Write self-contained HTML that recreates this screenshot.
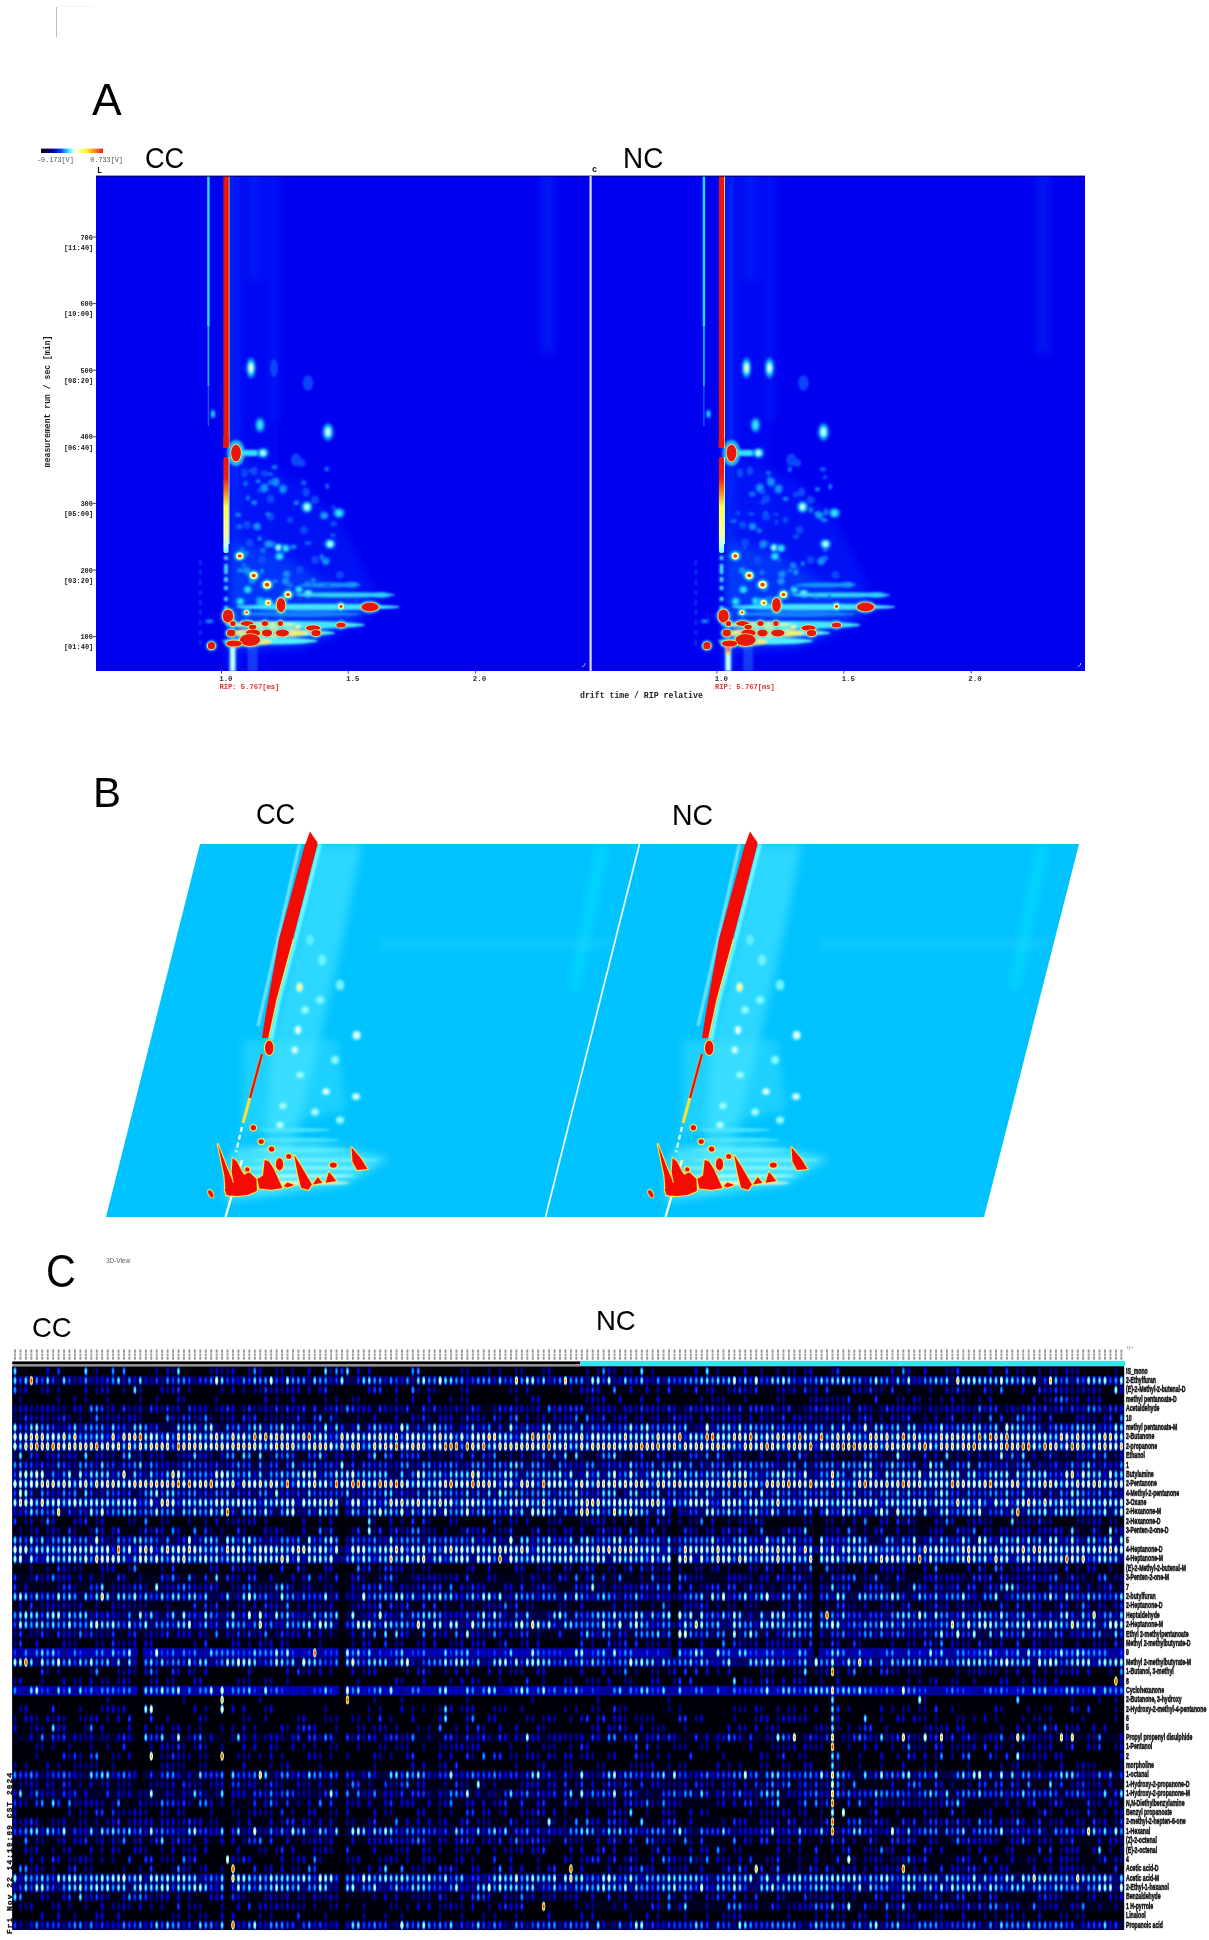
<!DOCTYPE html><html><head><meta charset="utf-8"><style>html,body{margin:0;padding:0;background:#fff;}body{width:1209px;height:1940px;position:relative;overflow:hidden;font-family:"Liberation Sans",sans-serif;}.abs{position:absolute;}.hl{font:bold 9.2px "Liberation Sans",sans-serif;fill:#141414;stroke:#101010;stroke-width:0.55px;}.lb{position:absolute;color:#000;line-height:1;white-space:nowrap;}</style></head><body><div style="position:absolute;left:0;top:0;width:1209px;height:1940px;filter:blur(0.35px)"><div class="abs" style="left:56px;top:7px;width:1.3px;height:30px;background:#bdbdbd"></div><div class="abs" style="left:57px;top:6px;width:36px;height:1px;background:#f4f4f4"></div><svg class="abs" style="left:0;top:0" width="1209" height="720" viewBox="0 0 1209 720"><defs><filter id="bA" x="-5%" y="-5%" width="110%" height="110%"><feGaussianBlur stdDeviation="1.0"/></filter><filter id="rA" x="-50%" y="-5%" width="200%" height="110%"><feGaussianBlur stdDeviation="0.55"/></filter><filter id="hA" x="-20%" y="-20%" width="140%" height="140%"><feGaussianBlur stdDeviation="5"/></filter><clipPath id="cA1"><rect x="96" y="176" width="494" height="495"/></clipPath><clipPath id="cA2"><rect x="592" y="176" width="493" height="495"/></clipPath><linearGradient id="cbar" x1="0" x2="1"><stop offset="0" stop-color="#000010"/><stop offset="0.2" stop-color="#0000a0"/><stop offset="0.32" stop-color="#0040ff"/><stop offset="0.45" stop-color="#40f0ff"/><stop offset="0.55" stop-color="#ffffff"/><stop offset="0.72" stop-color="#ffff30"/><stop offset="0.85" stop-color="#ff9020"/><stop offset="1" stop-color="#f02010"/></linearGradient></defs><rect x="96" y="176" width="989" height="495" fill="#0000f0"/><g clip-path="url(#cA1)"><g filter="url(#hA)"><rect x="229.0" y="170.0" width="8.0" height="501.0" fill="#0a48ff" fill-opacity="0.6"/><rect x="238.0" y="170.0" width="40.0" height="470.0" fill="#0420ff" fill-opacity="0.2"/><rect x="252.0" y="170.0" width="5.0" height="110.0" fill="#1458ff" fill-opacity="0.45"/><rect x="273.0" y="170.0" width="5.0" height="250.0" fill="#1050ff" fill-opacity="0.35"/><rect x="543.0" y="170.0" width="9.0" height="185.0" fill="#1050ff" fill-opacity="0.4"/><polygon points="232,455 300,480 340,520 380,600 370,615 330,640 300,650 232,650" fill="#0438ff" fill-opacity="0.3"/><polygon points="232,540 290,560 330,585 370,600 370,612 330,632 300,646 232,648" fill="#0a80ff" fill-opacity="0.3"/></g><g filter="url(#bA)"><ellipse cx="213.0" cy="414.0" rx="2.7" ry="4.8" fill="#0a60ff" fill-opacity="0.8"/><ellipse cx="213.0" cy="414.0" rx="1.8" ry="3.4" fill="#10b0ff"/><ellipse cx="213.0" cy="414.0" rx="1.1" ry="2.2" fill="#30e8ff"/><rect x="224.3" y="556.0" width="3.4" height="4.0" fill="#50f0ff"/><rect x="224.3" y="564.0" width="3.4" height="10.0" fill="#50f0ff"/><rect x="224.3" y="577.0" width="3.4" height="5.0" fill="#50f0ff"/><rect x="224.3" y="586.0" width="3.4" height="4.0" fill="#50f0ff"/><rect x="224.3" y="597.0" width="3.4" height="4.0" fill="#50f0ff"/><rect x="224.3" y="606.0" width="3.4" height="4.0" fill="#50f0ff"/><rect x="224.3" y="616.0" width="3.4" height="4.0" fill="#50f0ff"/><ellipse cx="236.0" cy="453.0" rx="9.0" ry="13.0" fill="#30d8ff" fill-opacity="0.8"/><ellipse cx="251.0" cy="453.0" rx="15.0" ry="3.2" fill="#30e0ff"/><ellipse cx="263.0" cy="453.0" rx="6.3" ry="5.6" fill="#0a60ff" fill-opacity="0.8"/><ellipse cx="263.0" cy="453.0" rx="4.4" ry="4.2" fill="#10b8ff"/><ellipse cx="263.0" cy="453.0" rx="3.0" ry="3.0" fill="#40f0ff"/><ellipse cx="263.0" cy="453.0" rx="1.8" ry="1.9" fill="#e0ffff"/><ellipse cx="251.0" cy="368.0" rx="5.4" ry="11.2" fill="#0a60ff" fill-opacity="0.8"/><ellipse cx="251.0" cy="368.0" rx="3.8" ry="8.4" fill="#10b8ff"/><ellipse cx="251.0" cy="368.0" rx="2.5" ry="6.0" fill="#40f0ff"/><ellipse cx="251.0" cy="368.0" rx="1.5" ry="3.9" fill="#ffffa0"/><ellipse cx="274.0" cy="368.0" rx="3.9" ry="9.1" fill="#0a50ff" fill-opacity="0.85"/><ellipse cx="260.0" cy="425.0" rx="5.4" ry="8.0" fill="#0a60ff" fill-opacity="0.8"/><ellipse cx="260.0" cy="425.0" rx="3.6" ry="5.8" fill="#10b0ff"/><ellipse cx="260.0" cy="425.0" rx="2.2" ry="3.8" fill="#30e8ff"/><ellipse cx="328.0" cy="432.0" rx="6.3" ry="9.6" fill="#0a60ff" fill-opacity="0.8"/><ellipse cx="328.0" cy="432.0" rx="4.4" ry="7.2" fill="#10b8ff"/><ellipse cx="328.0" cy="432.0" rx="3.0" ry="5.1" fill="#40f0ff"/><ellipse cx="328.0" cy="432.0" rx="1.8" ry="3.3" fill="#e0ffff"/><ellipse cx="308.0" cy="383.0" rx="5.2" ry="7.8" fill="#0a50ff" fill-opacity="0.85"/><ellipse cx="296.0" cy="460.0" rx="5.2" ry="6.5" fill="#0a50ff" fill-opacity="0.85"/><ellipse cx="244.6" cy="473.0" rx="3.2" ry="4.5" fill="#0a50ff" fill-opacity="0.85"/><ellipse cx="254.5" cy="471.0" rx="3.2" ry="4.5" fill="#0a50ff" fill-opacity="0.85"/><ellipse cx="264.4" cy="488.0" rx="4.8" ry="5.2" fill="#0a58ff" fill-opacity="0.8"/><ellipse cx="264.4" cy="488.0" rx="3.0" ry="3.5" fill="#1890ff"/><ellipse cx="275.6" cy="482.0" rx="4.8" ry="5.2" fill="#0a58ff" fill-opacity="0.8"/><ellipse cx="275.6" cy="482.0" rx="3.0" ry="3.5" fill="#1890ff"/><ellipse cx="283.0" cy="489.0" rx="4.8" ry="5.2" fill="#0a58ff" fill-opacity="0.8"/><ellipse cx="283.0" cy="489.0" rx="3.0" ry="3.5" fill="#1890ff"/><ellipse cx="306.0" cy="492.0" rx="3.9" ry="4.5" fill="#0a50ff" fill-opacity="0.85"/><ellipse cx="307.0" cy="507.0" rx="6.3" ry="6.4" fill="#0a60ff" fill-opacity="0.8"/><ellipse cx="307.0" cy="507.0" rx="4.4" ry="4.8" fill="#10b8ff"/><ellipse cx="307.0" cy="507.0" rx="3.0" ry="3.4" fill="#40f0ff"/><ellipse cx="307.0" cy="507.0" rx="1.8" ry="2.2" fill="#e0ffff"/><ellipse cx="301.7" cy="463.0" rx="3.9" ry="3.9" fill="#0a50ff" fill-opacity="0.85"/><ellipse cx="270.6" cy="499.0" rx="3.9" ry="3.9" fill="#0a50ff" fill-opacity="0.85"/><ellipse cx="257.0" cy="526.6" rx="4.8" ry="4.5" fill="#0a58ff" fill-opacity="0.8"/><ellipse cx="257.0" cy="526.6" rx="3.0" ry="3.0" fill="#1890ff"/><ellipse cx="247.0" cy="525.0" rx="3.9" ry="3.9" fill="#0a50ff" fill-opacity="0.85"/><ellipse cx="270.6" cy="516.6" rx="3.9" ry="3.9" fill="#0a50ff" fill-opacity="0.85"/><ellipse cx="324.0" cy="515.4" rx="4.8" ry="4.5" fill="#0a58ff" fill-opacity="0.8"/><ellipse cx="324.0" cy="515.4" rx="3.0" ry="3.0" fill="#1890ff"/><ellipse cx="339.0" cy="513.0" rx="6.3" ry="5.6" fill="#0a60ff" fill-opacity="0.8"/><ellipse cx="339.0" cy="513.0" rx="4.2" ry="4.0" fill="#10b0ff"/><ellipse cx="339.0" cy="513.0" rx="2.6" ry="2.6" fill="#30e8ff"/><ellipse cx="304.0" cy="530.0" rx="3.9" ry="3.9" fill="#0a50ff" fill-opacity="0.85"/><ellipse cx="268.0" cy="544.0" rx="4.8" ry="4.5" fill="#0a58ff" fill-opacity="0.8"/><ellipse cx="268.0" cy="544.0" rx="3.0" ry="3.0" fill="#1890ff"/><ellipse cx="278.7" cy="547.6" rx="5.4" ry="4.8" fill="#0a60ff" fill-opacity="0.8"/><ellipse cx="278.7" cy="547.6" rx="3.8" ry="3.6" fill="#10b8ff"/><ellipse cx="278.7" cy="547.6" rx="2.5" ry="2.5" fill="#40f0ff"/><ellipse cx="278.7" cy="547.6" rx="1.5" ry="1.7" fill="#e0ffff"/><ellipse cx="285.5" cy="548.3" rx="5.4" ry="4.8" fill="#0a60ff" fill-opacity="0.8"/><ellipse cx="285.5" cy="548.3" rx="3.6" ry="3.4" fill="#10b0ff"/><ellipse cx="285.5" cy="548.3" rx="2.2" ry="2.2" fill="#30e8ff"/><ellipse cx="330.0" cy="544.0" rx="6.3" ry="5.6" fill="#0a60ff" fill-opacity="0.8"/><ellipse cx="330.0" cy="544.0" rx="4.4" ry="4.2" fill="#10b8ff"/><ellipse cx="330.0" cy="544.0" rx="3.0" ry="3.0" fill="#40f0ff"/><ellipse cx="330.0" cy="544.0" rx="1.8" ry="1.9" fill="#e0ffff"/><ellipse cx="249.6" cy="542.7" rx="3.9" ry="3.9" fill="#0a50ff" fill-opacity="0.85"/><ellipse cx="290.0" cy="520.0" rx="3.2" ry="3.2" fill="#0a50ff" fill-opacity="0.85"/><ellipse cx="315.0" cy="500.0" rx="3.9" ry="3.9" fill="#0a50ff" fill-opacity="0.85"/><ellipse cx="279.5" cy="556.4" rx="5.4" ry="4.8" fill="#0a60ff" fill-opacity="0.8"/><ellipse cx="279.5" cy="556.4" rx="3.6" ry="3.4" fill="#10b0ff"/><ellipse cx="279.5" cy="556.4" rx="2.2" ry="2.2" fill="#30e8ff"/><ellipse cx="325.7" cy="561.3" rx="4.8" ry="4.5" fill="#0a58ff" fill-opacity="0.8"/><ellipse cx="325.7" cy="561.3" rx="3.0" ry="3.0" fill="#1890ff"/><ellipse cx="246.8" cy="570.8" rx="4.8" ry="4.5" fill="#0a58ff" fill-opacity="0.8"/><ellipse cx="246.8" cy="570.8" rx="3.0" ry="3.0" fill="#1890ff"/><ellipse cx="286.5" cy="574.2" rx="4.8" ry="4.5" fill="#0a58ff" fill-opacity="0.8"/><ellipse cx="286.5" cy="574.2" rx="3.0" ry="3.0" fill="#1890ff"/><ellipse cx="285.5" cy="581.2" rx="4.8" ry="4.5" fill="#0a58ff" fill-opacity="0.8"/><ellipse cx="285.5" cy="581.2" rx="3.0" ry="3.0" fill="#1890ff"/><ellipse cx="247.8" cy="589.6" rx="5.4" ry="4.8" fill="#0a60ff" fill-opacity="0.8"/><ellipse cx="247.8" cy="589.6" rx="3.6" ry="3.4" fill="#10b0ff"/><ellipse cx="247.8" cy="589.6" rx="2.2" ry="2.2" fill="#30e8ff"/><ellipse cx="298.9" cy="589.6" rx="5.4" ry="4.8" fill="#0a60ff" fill-opacity="0.8"/><ellipse cx="298.9" cy="589.6" rx="3.6" ry="3.4" fill="#10b0ff"/><ellipse cx="298.9" cy="589.6" rx="2.2" ry="2.2" fill="#30e8ff"/><ellipse cx="308.3" cy="593.6" rx="6.3" ry="4.8" fill="#0a60ff" fill-opacity="0.8"/><ellipse cx="308.3" cy="593.6" rx="4.4" ry="3.6" fill="#10b8ff"/><ellipse cx="308.3" cy="593.6" rx="3.0" ry="2.5" fill="#40f0ff"/><ellipse cx="308.3" cy="593.6" rx="1.8" ry="1.7" fill="#e0ffff"/><ellipse cx="240.3" cy="601.5" rx="5.4" ry="4.8" fill="#0a60ff" fill-opacity="0.8"/><ellipse cx="240.3" cy="601.5" rx="3.6" ry="3.4" fill="#10b0ff"/><ellipse cx="240.3" cy="601.5" rx="2.2" ry="2.2" fill="#30e8ff"/><ellipse cx="260.2" cy="601.0" rx="5.4" ry="4.8" fill="#0a60ff" fill-opacity="0.8"/><ellipse cx="260.2" cy="601.0" rx="3.6" ry="3.4" fill="#10b0ff"/><ellipse cx="260.2" cy="601.0" rx="2.2" ry="2.2" fill="#30e8ff"/><ellipse cx="351.5" cy="584.8" rx="9.0" ry="3.2" fill="#0a60ff" fill-opacity="0.8"/><ellipse cx="351.5" cy="584.8" rx="6.2" ry="2.4" fill="#10b8ff"/><ellipse cx="351.5" cy="584.8" rx="4.2" ry="1.7" fill="#40f0ff"/><ellipse cx="351.5" cy="584.8" rx="2.5" ry="1.1" fill="#e0ffff"/><ellipse cx="381.0" cy="595.0" rx="10.8" ry="3.5" fill="#0a60ff" fill-opacity="0.8"/><ellipse cx="381.0" cy="595.0" rx="7.5" ry="2.6" fill="#10b8ff"/><ellipse cx="381.0" cy="595.0" rx="5.1" ry="1.9" fill="#40f0ff"/><ellipse cx="381.0" cy="595.0" rx="3.0" ry="1.2" fill="#e0ffff"/><ellipse cx="262.0" cy="560.0" rx="3.9" ry="3.9" fill="#0a50ff" fill-opacity="0.85"/><ellipse cx="300.0" cy="570.0" rx="3.9" ry="3.9" fill="#0a50ff" fill-opacity="0.85"/><ellipse cx="315.0" cy="560.0" rx="3.9" ry="3.9" fill="#0a50ff" fill-opacity="0.85"/><ellipse cx="340.0" cy="575.0" rx="3.9" ry="3.9" fill="#0a50ff" fill-opacity="0.85"/><ellipse cx="330.0" cy="585.0" rx="30.0" ry="2.5" fill="#1890ff"/><ellipse cx="345.0" cy="595.0" rx="50.0" ry="2.6" fill="#30d0ff"/><ellipse cx="318.0" cy="607.0" rx="82.0" ry="3.2" fill="#40e6ff"/><ellipse cx="295.0" cy="625.0" rx="70.0" ry="4.0" fill="#40e8ff"/><ellipse cx="280.0" cy="633.0" rx="55.0" ry="3.5" fill="#60f4ff"/><ellipse cx="270.0" cy="641.0" rx="48.0" ry="3.5" fill="#50f0ff"/><ellipse cx="300.0" cy="614.0" rx="60.0" ry="3.0" fill="#1a90ff" fill-opacity="0.8"/><ellipse cx="239.8" cy="556.0" rx="5.5" ry="5.0" fill="#30e0ff" fill-opacity="0.85"/><ellipse cx="253.7" cy="575.5" rx="5.7" ry="5.2" fill="#30e0ff" fill-opacity="0.85"/><ellipse cx="267.1" cy="584.7" rx="6.0" ry="5.5" fill="#30e0ff" fill-opacity="0.85"/><ellipse cx="288.0" cy="594.6" rx="5.5" ry="5.0" fill="#30e0ff" fill-opacity="0.85"/><ellipse cx="268.0" cy="602.7" rx="4.9" ry="4.4" fill="#30e0ff" fill-opacity="0.85"/><ellipse cx="246.6" cy="612.4" rx="4.5" ry="4.0" fill="#30e0ff" fill-opacity="0.85"/><ellipse cx="341.0" cy="606.5" rx="5.0" ry="4.5" fill="#30e0ff" fill-opacity="0.85"/><ellipse cx="268.5" cy="603.0" rx="4.5" ry="4.0" fill="#30e0ff" fill-opacity="0.85"/><ellipse cx="268.0" cy="633.0" rx="40.0" ry="5.0" fill="#f8f070" fill-opacity="0.9"/><ellipse cx="262.0" cy="624.5" rx="34.0" ry="3.2" fill="#e0ff90" fill-opacity="0.8"/><ellipse cx="250.0" cy="642.0" rx="22.0" ry="4.0" fill="#f8f070" fill-opacity="0.9"/><ellipse cx="281.0" cy="605.0" rx="6.2" ry="8.9" fill="#40e0ff" fill-opacity="0.85"/><ellipse cx="370.0" cy="607.0" rx="10.6" ry="6.2" fill="#40e0ff" fill-opacity="0.85"/><ellipse cx="228.0" cy="616.0" rx="7.1" ry="8.4" fill="#40e0ff" fill-opacity="0.85"/><ellipse cx="233.0" cy="623.5" rx="4.6" ry="4.4" fill="#40e0ff" fill-opacity="0.85"/><ellipse cx="247.0" cy="623.5" rx="8.1" ry="4.2" fill="#40e0ff" fill-opacity="0.85"/><ellipse cx="265.0" cy="623.5" rx="5.1" ry="4.2" fill="#40e0ff" fill-opacity="0.85"/><ellipse cx="280.4" cy="623.5" rx="4.6" ry="4.2" fill="#40e0ff" fill-opacity="0.85"/><ellipse cx="313.0" cy="628.0" rx="9.1" ry="4.6" fill="#40e0ff" fill-opacity="0.85"/><ellipse cx="341.0" cy="625.0" rx="6.6" ry="4.4" fill="#40e0ff" fill-opacity="0.85"/><ellipse cx="252.6" cy="627.0" rx="5.6" ry="4.0" fill="#40e0ff" fill-opacity="0.85"/><ellipse cx="231.2" cy="633.0" rx="6.1" ry="5.2" fill="#40e0ff" fill-opacity="0.85"/><ellipse cx="253.0" cy="633.0" rx="9.1" ry="5.2" fill="#40e0ff" fill-opacity="0.85"/><ellipse cx="267.0" cy="633.0" rx="7.1" ry="5.2" fill="#40e0ff" fill-opacity="0.85"/><ellipse cx="282.3" cy="633.0" rx="8.6" ry="5.2" fill="#40e0ff" fill-opacity="0.85"/><ellipse cx="316.0" cy="633.0" rx="6.6" ry="4.9" fill="#40e0ff" fill-opacity="0.85"/><ellipse cx="250.0" cy="640.0" rx="12.1" ry="7.9" fill="#40e0ff" fill-opacity="0.85"/><ellipse cx="234.0" cy="643.5" rx="9.6" ry="4.9" fill="#40e0ff" fill-opacity="0.85"/><ellipse cx="298.0" cy="627.0" rx="2.5" ry="2.0" fill="#ffff80"/><ellipse cx="211.4" cy="645.7" rx="5.6" ry="5.4" fill="#40e0ff" fill-opacity="0.85"/><ellipse cx="209.4" cy="621.3" rx="4.8" ry="2.2" fill="#0a58ff" fill-opacity="0.8"/><ellipse cx="209.4" cy="621.3" rx="3.0" ry="1.5" fill="#1890ff"/><rect x="229.6" y="645.5" width="6.2" height="26.0" fill="#50e8ff"/><rect x="231.0" y="648.0" width="3.4" height="23.0" fill="#e0ffff"/><rect x="247.6" y="646.0" width="10.0" height="25.0" fill="#1a60ff" fill-opacity="0.6"/><rect x="199.5" y="560.0" width="1.6" height="5.0" fill="#1e70ff" fill-opacity="0.7"/><rect x="199.5" y="570.0" width="1.6" height="5.0" fill="#1e70ff" fill-opacity="0.7"/><rect x="199.5" y="580.0" width="1.6" height="5.0" fill="#1e70ff" fill-opacity="0.7"/><rect x="199.5" y="590.0" width="1.6" height="5.0" fill="#1e70ff" fill-opacity="0.7"/><rect x="199.5" y="600.0" width="1.6" height="5.0" fill="#1e70ff" fill-opacity="0.7"/><rect x="199.5" y="610.0" width="1.6" height="5.0" fill="#1e70ff" fill-opacity="0.7"/><rect x="199.5" y="620.0" width="1.6" height="5.0" fill="#1e70ff" fill-opacity="0.7"/><rect x="199.5" y="630.0" width="1.6" height="5.0" fill="#1e70ff" fill-opacity="0.7"/><rect x="199.5" y="640.0" width="1.6" height="5.0" fill="#1e70ff" fill-opacity="0.7"/><ellipse cx="259.6" cy="538.5" rx="2.4" ry="2.5" fill="#1aa8ff" fill-opacity="0.7"/><ellipse cx="293.5" cy="546.8" rx="3.3" ry="2.4" fill="#1aa8ff" fill-opacity="0.7"/><ellipse cx="259.2" cy="599.4" rx="2.6" ry="2.8" fill="#1488ff" fill-opacity="0.7"/><ellipse cx="275.3" cy="581.2" rx="2.2" ry="2.0" fill="#1aa8ff" fill-opacity="0.7"/><ellipse cx="274.6" cy="467.0" rx="3.1" ry="2.0" fill="#1aa8ff" fill-opacity="0.7"/><ellipse cx="240.2" cy="570.3" rx="3.2" ry="2.1" fill="#1aa8ff" fill-opacity="0.7"/><ellipse cx="307.2" cy="583.6" rx="3.0" ry="2.9" fill="#1488ff" fill-opacity="0.7"/><ellipse cx="308.1" cy="542.9" rx="3.4" ry="2.0" fill="#1488ff" fill-opacity="0.7"/><ellipse cx="245.6" cy="483.4" rx="2.2" ry="3.0" fill="#1488ff" fill-opacity="0.7"/><ellipse cx="313.1" cy="580.5" rx="2.5" ry="2.8" fill="#1aa8ff" fill-opacity="0.7"/><ellipse cx="270.7" cy="544.0" rx="2.8" ry="2.9" fill="#1aa8ff" fill-opacity="0.7"/><ellipse cx="326.7" cy="468.9" rx="2.3" ry="2.5" fill="#1aa8ff" fill-opacity="0.7"/><ellipse cx="252.1" cy="581.2" rx="3.4" ry="2.9" fill="#1aa8ff" fill-opacity="0.7"/><ellipse cx="246.3" cy="553.5" rx="2.9" ry="3.0" fill="#1488ff" fill-opacity="0.7"/><ellipse cx="264.2" cy="473.6" rx="3.3" ry="3.0" fill="#0c60ff" fill-opacity="0.7"/><ellipse cx="270.1" cy="474.0" rx="3.3" ry="1.8" fill="#1488ff" fill-opacity="0.7"/><ellipse cx="312.1" cy="582.8" rx="1.9" ry="2.5" fill="#0c60ff" fill-opacity="0.7"/><ellipse cx="273.4" cy="544.2" rx="2.7" ry="2.9" fill="#1488ff" fill-opacity="0.7"/><ellipse cx="286.0" cy="599.8" rx="2.3" ry="1.9" fill="#1aa8ff" fill-opacity="0.7"/><ellipse cx="289.0" cy="593.1" rx="3.5" ry="2.1" fill="#1488ff" fill-opacity="0.7"/><ellipse cx="251.5" cy="470.7" rx="3.3" ry="2.2" fill="#0c60ff" fill-opacity="0.7"/><ellipse cx="324.8" cy="516.0" rx="2.6" ry="2.4" fill="#1aa8ff" fill-opacity="0.7"/><ellipse cx="321.8" cy="556.9" rx="2.0" ry="3.0" fill="#1aa8ff" fill-opacity="0.7"/><ellipse cx="262.9" cy="550.6" rx="3.0" ry="2.9" fill="#1488ff" fill-opacity="0.7"/><ellipse cx="332.8" cy="535.4" rx="2.7" ry="1.8" fill="#1488ff" fill-opacity="0.7"/><ellipse cx="333.8" cy="507.5" rx="2.4" ry="2.5" fill="#0c60ff" fill-opacity="0.7"/><ellipse cx="241.9" cy="549.7" rx="2.6" ry="2.6" fill="#1488ff" fill-opacity="0.7"/><ellipse cx="296.3" cy="502.7" rx="2.6" ry="2.5" fill="#1aa8ff" fill-opacity="0.7"/><ellipse cx="238.1" cy="514.8" rx="2.9" ry="2.2" fill="#1aa8ff" fill-opacity="0.7"/><ellipse cx="267.7" cy="514.1" rx="2.3" ry="2.2" fill="#1aa8ff" fill-opacity="0.7"/><ellipse cx="262.1" cy="571.3" rx="2.0" ry="2.8" fill="#1aa8ff" fill-opacity="0.7"/><ellipse cx="303.7" cy="482.7" rx="2.7" ry="2.6" fill="#1488ff" fill-opacity="0.7"/><ellipse cx="259.6" cy="490.3" rx="2.5" ry="2.6" fill="#0c60ff" fill-opacity="0.7"/><ellipse cx="295.5" cy="593.1" rx="2.9" ry="2.1" fill="#0c60ff" fill-opacity="0.7"/><ellipse cx="243.9" cy="565.2" rx="2.2" ry="2.5" fill="#1488ff" fill-opacity="0.7"/><ellipse cx="258.3" cy="481.3" rx="2.7" ry="2.0" fill="#1aa8ff" fill-opacity="0.7"/><ellipse cx="254.2" cy="502.6" rx="3.2" ry="2.6" fill="#1aa8ff" fill-opacity="0.7"/><ellipse cx="270.2" cy="482.5" rx="2.3" ry="2.8" fill="#1488ff" fill-opacity="0.7"/><ellipse cx="282.0" cy="550.6" rx="2.3" ry="2.5" fill="#0c60ff" fill-opacity="0.7"/><ellipse cx="327.1" cy="486.1" rx="1.8" ry="2.9" fill="#1aa8ff" fill-opacity="0.7"/><ellipse cx="333.7" cy="523.6" rx="3.4" ry="2.9" fill="#0c60ff" fill-opacity="0.7"/><ellipse cx="239.2" cy="526.7" rx="3.1" ry="2.7" fill="#1488ff" fill-opacity="0.7"/><ellipse cx="289.8" cy="585.1" rx="3.3" ry="2.8" fill="#1488ff" fill-opacity="0.7"/><ellipse cx="247.9" cy="498.0" rx="1.9" ry="2.8" fill="#1aa8ff" fill-opacity="0.7"/><ellipse cx="327.5" cy="586.0" rx="3.3" ry="2.5" fill="#0c60ff" fill-opacity="0.7"/></g><g filter="url(#rA)"><ellipse cx="236.0" cy="453.0" rx="5.7" ry="9.3" fill="#fff060"/><ellipse cx="236.0" cy="453.0" rx="4.9" ry="8.6" fill="#e8160c"/><ellipse cx="239.8" cy="556.0" rx="3.6" ry="3.5" fill="#f4ff90"/><ellipse cx="239.8" cy="556.0" rx="1.9" ry="1.7" fill="#ee3a14"/><ellipse cx="253.7" cy="575.5" rx="3.8" ry="3.7" fill="#f4ff90"/><ellipse cx="253.7" cy="575.5" rx="2.0" ry="1.8" fill="#ee3a14"/><ellipse cx="267.1" cy="584.7" rx="4.1" ry="4.0" fill="#f4ff90"/><ellipse cx="267.1" cy="584.7" rx="2.2" ry="1.9" fill="#ee3a14"/><ellipse cx="288.0" cy="594.6" rx="3.6" ry="3.5" fill="#f4ff90"/><ellipse cx="288.0" cy="594.6" rx="1.9" ry="1.7" fill="#ee3a14"/><ellipse cx="268.0" cy="602.7" rx="3.0" ry="2.9" fill="#f4ff90"/><ellipse cx="268.0" cy="602.7" rx="1.5" ry="1.3" fill="#ee3a14"/><ellipse cx="246.6" cy="612.4" rx="2.6" ry="2.5" fill="#f4ff90"/><ellipse cx="246.6" cy="612.4" rx="1.2" ry="1.1" fill="#ee3a14"/><ellipse cx="341.0" cy="606.5" rx="3.1" ry="3.0" fill="#f4ff90"/><ellipse cx="341.0" cy="606.5" rx="1.6" ry="1.4" fill="#ee3a14"/><ellipse cx="268.5" cy="603.0" rx="2.6" ry="2.5" fill="#f4ff90"/><ellipse cx="268.5" cy="603.0" rx="1.2" ry="1.1" fill="#ee3a14"/><ellipse cx="281.0" cy="605.0" rx="5.1" ry="7.8" fill="#fff060"/><ellipse cx="281.0" cy="605.0" rx="4.3" ry="7.1" fill="#e8160c"/><ellipse cx="370.0" cy="607.0" rx="9.5" ry="5.1" fill="#fff060"/><ellipse cx="370.0" cy="607.0" rx="8.7" ry="4.4" fill="#e8160c"/><ellipse cx="228.0" cy="616.0" rx="6.0" ry="7.3" fill="#fff060"/><ellipse cx="228.0" cy="616.0" rx="5.2" ry="6.6" fill="#e8160c"/><ellipse cx="233.0" cy="623.5" rx="3.5" ry="3.3" fill="#fff060"/><ellipse cx="233.0" cy="623.5" rx="2.7" ry="2.6" fill="#e8160c"/><ellipse cx="247.0" cy="623.5" rx="7.0" ry="3.1" fill="#fff060"/><ellipse cx="247.0" cy="623.5" rx="6.2" ry="2.4" fill="#e8160c"/><ellipse cx="265.0" cy="623.5" rx="4.0" ry="3.1" fill="#fff060"/><ellipse cx="265.0" cy="623.5" rx="3.2" ry="2.4" fill="#e8160c"/><ellipse cx="280.4" cy="623.5" rx="3.5" ry="3.1" fill="#fff060"/><ellipse cx="280.4" cy="623.5" rx="2.7" ry="2.4" fill="#e8160c"/><ellipse cx="313.0" cy="628.0" rx="8.0" ry="3.5" fill="#fff060"/><ellipse cx="313.0" cy="628.0" rx="7.2" ry="2.8" fill="#e8160c"/><ellipse cx="341.0" cy="625.0" rx="5.5" ry="3.3" fill="#fff060"/><ellipse cx="341.0" cy="625.0" rx="4.7" ry="2.6" fill="#e8160c"/><ellipse cx="252.6" cy="627.0" rx="4.5" ry="2.9" fill="#fff060"/><ellipse cx="252.6" cy="627.0" rx="3.7" ry="2.2" fill="#e8160c"/><ellipse cx="231.2" cy="633.0" rx="5.0" ry="4.1" fill="#fff060"/><ellipse cx="231.2" cy="633.0" rx="4.2" ry="3.4" fill="#e8160c"/><ellipse cx="253.0" cy="633.0" rx="8.0" ry="4.1" fill="#fff060"/><ellipse cx="253.0" cy="633.0" rx="7.2" ry="3.4" fill="#e8160c"/><ellipse cx="267.0" cy="633.0" rx="6.0" ry="4.1" fill="#fff060"/><ellipse cx="267.0" cy="633.0" rx="5.2" ry="3.4" fill="#e8160c"/><ellipse cx="282.3" cy="633.0" rx="7.5" ry="4.1" fill="#fff060"/><ellipse cx="282.3" cy="633.0" rx="6.7" ry="3.4" fill="#e8160c"/><ellipse cx="316.0" cy="633.0" rx="5.5" ry="3.8" fill="#fff060"/><ellipse cx="316.0" cy="633.0" rx="4.7" ry="3.1" fill="#e8160c"/><ellipse cx="250.0" cy="640.0" rx="11.0" ry="6.8" fill="#fff060"/><ellipse cx="250.0" cy="640.0" rx="10.2" ry="6.1" fill="#e8160c"/><ellipse cx="234.0" cy="643.5" rx="8.5" ry="3.8" fill="#fff060"/><ellipse cx="234.0" cy="643.5" rx="7.7" ry="3.1" fill="#e8160c"/><ellipse cx="211.4" cy="645.7" rx="4.5" ry="4.3" fill="#fff060"/><ellipse cx="211.4" cy="645.7" rx="3.7" ry="3.6" fill="#e8160c"/><linearGradient id="ripgc" x1="0" y1="0" x2="0" y2="1"><stop offset="0" stop-color="#e8160c"/><stop offset="0.22" stop-color="#ea2010"/><stop offset="0.38" stop-color="#f89020"/><stop offset="0.52" stop-color="#ffff50"/><stop offset="0.8" stop-color="#f8ffa0"/><stop offset="0.92" stop-color="#c0ffff"/><stop offset="1" stop-color="#70ffff"/></linearGradient><rect x="207.2" y="176.0" width="2.4" height="150.0" fill="#20e0ff"/><rect x="207.5" y="326.0" width="1.8" height="60.0" fill="#18b0ff"/><rect x="207.7" y="386.0" width="1.4" height="40.0" fill="#1070ff" fill-opacity="0.8"/><rect x="228.3" y="176.0" width="1.2" height="272.0" fill="#ffe060"/><rect x="223.4" y="176.0" width="5.2" height="272.0" fill="#e8160c"/><rect x="228.3" y="457.0" width="1.2" height="87.0" fill="#c0ffff"/><rect x="223.4" y="457" width="5.2" height="96" fill="url(#ripgc)" rx="2"/><rect x="223.2" y="436" width="5.6" height="12" rx="2.8" fill="#e8160c"/></g></g><g clip-path="url(#cA2)"><g transform="translate(495.5,0)"><g filter="url(#hA)"><rect x="229.0" y="170.0" width="8.0" height="501.0" fill="#0a48ff" fill-opacity="0.6"/><rect x="238.0" y="170.0" width="40.0" height="470.0" fill="#0420ff" fill-opacity="0.2"/><rect x="252.0" y="170.0" width="5.0" height="110.0" fill="#1458ff" fill-opacity="0.45"/><rect x="273.0" y="170.0" width="5.0" height="250.0" fill="#1050ff" fill-opacity="0.35"/><rect x="543.0" y="170.0" width="9.0" height="185.0" fill="#1050ff" fill-opacity="0.4"/><polygon points="232,455 300,480 340,520 380,600 370,615 330,640 300,650 232,650" fill="#0438ff" fill-opacity="0.3"/><polygon points="232,540 290,560 330,585 370,600 370,612 330,632 300,646 232,648" fill="#0a80ff" fill-opacity="0.3"/></g><g filter="url(#bA)"><ellipse cx="213.0" cy="414.0" rx="2.7" ry="4.8" fill="#0a60ff" fill-opacity="0.8"/><ellipse cx="213.0" cy="414.0" rx="1.8" ry="3.4" fill="#10b0ff"/><ellipse cx="213.0" cy="414.0" rx="1.1" ry="2.2" fill="#30e8ff"/><rect x="224.3" y="556.0" width="3.4" height="4.0" fill="#50f0ff"/><rect x="224.3" y="564.0" width="3.4" height="10.0" fill="#50f0ff"/><rect x="224.3" y="577.0" width="3.4" height="5.0" fill="#50f0ff"/><rect x="224.3" y="586.0" width="3.4" height="4.0" fill="#50f0ff"/><rect x="224.3" y="597.0" width="3.4" height="4.0" fill="#50f0ff"/><rect x="224.3" y="606.0" width="3.4" height="4.0" fill="#50f0ff"/><rect x="224.3" y="616.0" width="3.4" height="4.0" fill="#50f0ff"/><ellipse cx="236.0" cy="453.0" rx="9.0" ry="13.0" fill="#30d8ff" fill-opacity="0.8"/><ellipse cx="251.0" cy="453.0" rx="15.0" ry="3.2" fill="#30e0ff"/><ellipse cx="263.0" cy="453.0" rx="6.3" ry="5.6" fill="#0a60ff" fill-opacity="0.8"/><ellipse cx="263.0" cy="453.0" rx="4.4" ry="4.2" fill="#10b8ff"/><ellipse cx="263.0" cy="453.0" rx="3.0" ry="3.0" fill="#40f0ff"/><ellipse cx="263.0" cy="453.0" rx="1.8" ry="1.9" fill="#e0ffff"/><ellipse cx="251.0" cy="368.0" rx="5.4" ry="11.2" fill="#0a60ff" fill-opacity="0.8"/><ellipse cx="251.0" cy="368.0" rx="3.8" ry="8.4" fill="#10b8ff"/><ellipse cx="251.0" cy="368.0" rx="2.5" ry="6.0" fill="#40f0ff"/><ellipse cx="251.0" cy="368.0" rx="1.5" ry="3.9" fill="#ffffa0"/><ellipse cx="274.0" cy="368.0" rx="5.4" ry="11.2" fill="#0a60ff" fill-opacity="0.8"/><ellipse cx="274.0" cy="368.0" rx="3.8" ry="8.4" fill="#10b8ff"/><ellipse cx="274.0" cy="368.0" rx="2.5" ry="6.0" fill="#40f0ff"/><ellipse cx="274.0" cy="368.0" rx="1.5" ry="3.9" fill="#e0ffff"/><ellipse cx="260.0" cy="425.0" rx="5.4" ry="8.0" fill="#0a60ff" fill-opacity="0.8"/><ellipse cx="260.0" cy="425.0" rx="3.6" ry="5.8" fill="#10b0ff"/><ellipse cx="260.0" cy="425.0" rx="2.2" ry="3.8" fill="#30e8ff"/><ellipse cx="328.0" cy="432.0" rx="6.3" ry="9.6" fill="#0a60ff" fill-opacity="0.8"/><ellipse cx="328.0" cy="432.0" rx="4.4" ry="7.2" fill="#10b8ff"/><ellipse cx="328.0" cy="432.0" rx="3.0" ry="5.1" fill="#40f0ff"/><ellipse cx="328.0" cy="432.0" rx="1.8" ry="3.3" fill="#e0ffff"/><ellipse cx="308.0" cy="383.0" rx="5.2" ry="7.8" fill="#0a50ff" fill-opacity="0.85"/><ellipse cx="296.0" cy="460.0" rx="5.2" ry="6.5" fill="#0a50ff" fill-opacity="0.85"/><ellipse cx="244.6" cy="473.0" rx="3.2" ry="4.5" fill="#0a50ff" fill-opacity="0.85"/><ellipse cx="254.5" cy="471.0" rx="3.2" ry="4.5" fill="#0a50ff" fill-opacity="0.85"/><ellipse cx="264.4" cy="488.0" rx="4.8" ry="5.2" fill="#0a58ff" fill-opacity="0.8"/><ellipse cx="264.4" cy="488.0" rx="3.0" ry="3.5" fill="#1890ff"/><ellipse cx="275.6" cy="482.0" rx="4.8" ry="5.2" fill="#0a58ff" fill-opacity="0.8"/><ellipse cx="275.6" cy="482.0" rx="3.0" ry="3.5" fill="#1890ff"/><ellipse cx="283.0" cy="489.0" rx="4.8" ry="5.2" fill="#0a58ff" fill-opacity="0.8"/><ellipse cx="283.0" cy="489.0" rx="3.0" ry="3.5" fill="#1890ff"/><ellipse cx="306.0" cy="492.0" rx="3.9" ry="4.5" fill="#0a50ff" fill-opacity="0.85"/><ellipse cx="307.0" cy="507.0" rx="6.3" ry="6.4" fill="#0a60ff" fill-opacity="0.8"/><ellipse cx="307.0" cy="507.0" rx="4.4" ry="4.8" fill="#10b8ff"/><ellipse cx="307.0" cy="507.0" rx="3.0" ry="3.4" fill="#40f0ff"/><ellipse cx="307.0" cy="507.0" rx="1.8" ry="2.2" fill="#e0ffff"/><ellipse cx="301.7" cy="463.0" rx="3.9" ry="3.9" fill="#0a50ff" fill-opacity="0.85"/><ellipse cx="270.6" cy="499.0" rx="3.9" ry="3.9" fill="#0a50ff" fill-opacity="0.85"/><ellipse cx="257.0" cy="526.6" rx="4.8" ry="4.5" fill="#0a58ff" fill-opacity="0.8"/><ellipse cx="257.0" cy="526.6" rx="3.0" ry="3.0" fill="#1890ff"/><ellipse cx="247.0" cy="525.0" rx="3.9" ry="3.9" fill="#0a50ff" fill-opacity="0.85"/><ellipse cx="270.6" cy="516.6" rx="3.9" ry="3.9" fill="#0a50ff" fill-opacity="0.85"/><ellipse cx="324.0" cy="515.4" rx="4.8" ry="4.5" fill="#0a58ff" fill-opacity="0.8"/><ellipse cx="324.0" cy="515.4" rx="3.0" ry="3.0" fill="#1890ff"/><ellipse cx="339.0" cy="513.0" rx="6.3" ry="5.6" fill="#0a60ff" fill-opacity="0.8"/><ellipse cx="339.0" cy="513.0" rx="4.2" ry="4.0" fill="#10b0ff"/><ellipse cx="339.0" cy="513.0" rx="2.6" ry="2.6" fill="#30e8ff"/><ellipse cx="304.0" cy="530.0" rx="3.9" ry="3.9" fill="#0a50ff" fill-opacity="0.85"/><ellipse cx="268.0" cy="544.0" rx="4.8" ry="4.5" fill="#0a58ff" fill-opacity="0.8"/><ellipse cx="268.0" cy="544.0" rx="3.0" ry="3.0" fill="#1890ff"/><ellipse cx="278.7" cy="547.6" rx="5.4" ry="4.8" fill="#0a60ff" fill-opacity="0.8"/><ellipse cx="278.7" cy="547.6" rx="3.8" ry="3.6" fill="#10b8ff"/><ellipse cx="278.7" cy="547.6" rx="2.5" ry="2.5" fill="#40f0ff"/><ellipse cx="278.7" cy="547.6" rx="1.5" ry="1.7" fill="#e0ffff"/><ellipse cx="285.5" cy="548.3" rx="5.4" ry="4.8" fill="#0a60ff" fill-opacity="0.8"/><ellipse cx="285.5" cy="548.3" rx="3.6" ry="3.4" fill="#10b0ff"/><ellipse cx="285.5" cy="548.3" rx="2.2" ry="2.2" fill="#30e8ff"/><ellipse cx="330.0" cy="544.0" rx="6.3" ry="5.6" fill="#0a60ff" fill-opacity="0.8"/><ellipse cx="330.0" cy="544.0" rx="4.4" ry="4.2" fill="#10b8ff"/><ellipse cx="330.0" cy="544.0" rx="3.0" ry="3.0" fill="#40f0ff"/><ellipse cx="330.0" cy="544.0" rx="1.8" ry="1.9" fill="#e0ffff"/><ellipse cx="249.6" cy="542.7" rx="3.9" ry="3.9" fill="#0a50ff" fill-opacity="0.85"/><ellipse cx="290.0" cy="520.0" rx="3.2" ry="3.2" fill="#0a50ff" fill-opacity="0.85"/><ellipse cx="315.0" cy="500.0" rx="3.9" ry="3.9" fill="#0a50ff" fill-opacity="0.85"/><ellipse cx="279.5" cy="556.4" rx="5.4" ry="4.8" fill="#0a60ff" fill-opacity="0.8"/><ellipse cx="279.5" cy="556.4" rx="3.6" ry="3.4" fill="#10b0ff"/><ellipse cx="279.5" cy="556.4" rx="2.2" ry="2.2" fill="#30e8ff"/><ellipse cx="325.7" cy="561.3" rx="4.8" ry="4.5" fill="#0a58ff" fill-opacity="0.8"/><ellipse cx="325.7" cy="561.3" rx="3.0" ry="3.0" fill="#1890ff"/><ellipse cx="246.8" cy="570.8" rx="4.8" ry="4.5" fill="#0a58ff" fill-opacity="0.8"/><ellipse cx="246.8" cy="570.8" rx="3.0" ry="3.0" fill="#1890ff"/><ellipse cx="286.5" cy="574.2" rx="4.8" ry="4.5" fill="#0a58ff" fill-opacity="0.8"/><ellipse cx="286.5" cy="574.2" rx="3.0" ry="3.0" fill="#1890ff"/><ellipse cx="285.5" cy="581.2" rx="4.8" ry="4.5" fill="#0a58ff" fill-opacity="0.8"/><ellipse cx="285.5" cy="581.2" rx="3.0" ry="3.0" fill="#1890ff"/><ellipse cx="247.8" cy="589.6" rx="5.4" ry="4.8" fill="#0a60ff" fill-opacity="0.8"/><ellipse cx="247.8" cy="589.6" rx="3.6" ry="3.4" fill="#10b0ff"/><ellipse cx="247.8" cy="589.6" rx="2.2" ry="2.2" fill="#30e8ff"/><ellipse cx="298.9" cy="589.6" rx="5.4" ry="4.8" fill="#0a60ff" fill-opacity="0.8"/><ellipse cx="298.9" cy="589.6" rx="3.6" ry="3.4" fill="#10b0ff"/><ellipse cx="298.9" cy="589.6" rx="2.2" ry="2.2" fill="#30e8ff"/><ellipse cx="308.3" cy="593.6" rx="6.3" ry="4.8" fill="#0a60ff" fill-opacity="0.8"/><ellipse cx="308.3" cy="593.6" rx="4.4" ry="3.6" fill="#10b8ff"/><ellipse cx="308.3" cy="593.6" rx="3.0" ry="2.5" fill="#40f0ff"/><ellipse cx="308.3" cy="593.6" rx="1.8" ry="1.7" fill="#e0ffff"/><ellipse cx="240.3" cy="601.5" rx="5.4" ry="4.8" fill="#0a60ff" fill-opacity="0.8"/><ellipse cx="240.3" cy="601.5" rx="3.6" ry="3.4" fill="#10b0ff"/><ellipse cx="240.3" cy="601.5" rx="2.2" ry="2.2" fill="#30e8ff"/><ellipse cx="260.2" cy="601.0" rx="5.4" ry="4.8" fill="#0a60ff" fill-opacity="0.8"/><ellipse cx="260.2" cy="601.0" rx="3.6" ry="3.4" fill="#10b0ff"/><ellipse cx="260.2" cy="601.0" rx="2.2" ry="2.2" fill="#30e8ff"/><ellipse cx="351.5" cy="584.8" rx="9.0" ry="3.2" fill="#0a60ff" fill-opacity="0.8"/><ellipse cx="351.5" cy="584.8" rx="6.2" ry="2.4" fill="#10b8ff"/><ellipse cx="351.5" cy="584.8" rx="4.2" ry="1.7" fill="#40f0ff"/><ellipse cx="351.5" cy="584.8" rx="2.5" ry="1.1" fill="#e0ffff"/><ellipse cx="381.0" cy="595.0" rx="10.8" ry="3.5" fill="#0a60ff" fill-opacity="0.8"/><ellipse cx="381.0" cy="595.0" rx="7.5" ry="2.6" fill="#10b8ff"/><ellipse cx="381.0" cy="595.0" rx="5.1" ry="1.9" fill="#40f0ff"/><ellipse cx="381.0" cy="595.0" rx="3.0" ry="1.2" fill="#e0ffff"/><ellipse cx="262.0" cy="560.0" rx="3.9" ry="3.9" fill="#0a50ff" fill-opacity="0.85"/><ellipse cx="300.0" cy="570.0" rx="3.9" ry="3.9" fill="#0a50ff" fill-opacity="0.85"/><ellipse cx="315.0" cy="560.0" rx="3.9" ry="3.9" fill="#0a50ff" fill-opacity="0.85"/><ellipse cx="340.0" cy="575.0" rx="3.9" ry="3.9" fill="#0a50ff" fill-opacity="0.85"/><ellipse cx="330.0" cy="585.0" rx="30.0" ry="2.5" fill="#1890ff"/><ellipse cx="345.0" cy="595.0" rx="50.0" ry="2.6" fill="#30d0ff"/><ellipse cx="318.0" cy="607.0" rx="82.0" ry="3.2" fill="#40e6ff"/><ellipse cx="295.0" cy="625.0" rx="70.0" ry="4.0" fill="#40e8ff"/><ellipse cx="280.0" cy="633.0" rx="55.0" ry="3.5" fill="#60f4ff"/><ellipse cx="270.0" cy="641.0" rx="48.0" ry="3.5" fill="#50f0ff"/><ellipse cx="300.0" cy="614.0" rx="60.0" ry="3.0" fill="#1a90ff" fill-opacity="0.8"/><ellipse cx="239.8" cy="556.0" rx="5.5" ry="5.0" fill="#30e0ff" fill-opacity="0.85"/><ellipse cx="253.7" cy="575.5" rx="5.7" ry="5.2" fill="#30e0ff" fill-opacity="0.85"/><ellipse cx="267.1" cy="584.7" rx="6.0" ry="5.5" fill="#30e0ff" fill-opacity="0.85"/><ellipse cx="288.0" cy="594.6" rx="5.5" ry="5.0" fill="#30e0ff" fill-opacity="0.85"/><ellipse cx="268.0" cy="602.7" rx="4.9" ry="4.4" fill="#30e0ff" fill-opacity="0.85"/><ellipse cx="246.6" cy="612.4" rx="4.5" ry="4.0" fill="#30e0ff" fill-opacity="0.85"/><ellipse cx="341.0" cy="606.5" rx="5.0" ry="4.5" fill="#30e0ff" fill-opacity="0.85"/><ellipse cx="268.5" cy="603.0" rx="4.5" ry="4.0" fill="#30e0ff" fill-opacity="0.85"/><ellipse cx="268.0" cy="633.0" rx="40.0" ry="5.0" fill="#f8f070" fill-opacity="0.9"/><ellipse cx="262.0" cy="624.5" rx="34.0" ry="3.2" fill="#e0ff90" fill-opacity="0.8"/><ellipse cx="250.0" cy="642.0" rx="22.0" ry="4.0" fill="#f8f070" fill-opacity="0.9"/><ellipse cx="281.0" cy="605.0" rx="6.2" ry="8.9" fill="#40e0ff" fill-opacity="0.85"/><ellipse cx="370.0" cy="607.0" rx="10.6" ry="6.2" fill="#40e0ff" fill-opacity="0.85"/><ellipse cx="228.0" cy="616.0" rx="7.1" ry="8.4" fill="#40e0ff" fill-opacity="0.85"/><ellipse cx="233.0" cy="623.5" rx="4.6" ry="4.4" fill="#40e0ff" fill-opacity="0.85"/><ellipse cx="247.0" cy="623.5" rx="8.1" ry="4.2" fill="#40e0ff" fill-opacity="0.85"/><ellipse cx="265.0" cy="623.5" rx="5.1" ry="4.2" fill="#40e0ff" fill-opacity="0.85"/><ellipse cx="280.4" cy="623.5" rx="4.6" ry="4.2" fill="#40e0ff" fill-opacity="0.85"/><ellipse cx="313.0" cy="628.0" rx="9.1" ry="4.6" fill="#40e0ff" fill-opacity="0.85"/><ellipse cx="341.0" cy="625.0" rx="6.6" ry="4.4" fill="#40e0ff" fill-opacity="0.85"/><ellipse cx="252.6" cy="627.0" rx="5.6" ry="4.0" fill="#40e0ff" fill-opacity="0.85"/><ellipse cx="231.2" cy="633.0" rx="6.1" ry="5.2" fill="#40e0ff" fill-opacity="0.85"/><ellipse cx="253.0" cy="633.0" rx="9.1" ry="5.2" fill="#40e0ff" fill-opacity="0.85"/><ellipse cx="267.0" cy="633.0" rx="7.1" ry="5.2" fill="#40e0ff" fill-opacity="0.85"/><ellipse cx="282.3" cy="633.0" rx="8.6" ry="5.2" fill="#40e0ff" fill-opacity="0.85"/><ellipse cx="316.0" cy="633.0" rx="6.6" ry="4.9" fill="#40e0ff" fill-opacity="0.85"/><ellipse cx="250.0" cy="640.0" rx="12.1" ry="7.9" fill="#40e0ff" fill-opacity="0.85"/><ellipse cx="234.0" cy="643.5" rx="9.6" ry="4.9" fill="#40e0ff" fill-opacity="0.85"/><ellipse cx="298.0" cy="627.0" rx="2.5" ry="2.0" fill="#ffff80"/><ellipse cx="211.4" cy="645.7" rx="5.6" ry="5.4" fill="#40e0ff" fill-opacity="0.85"/><ellipse cx="209.4" cy="621.3" rx="4.8" ry="2.2" fill="#0a58ff" fill-opacity="0.8"/><ellipse cx="209.4" cy="621.3" rx="3.0" ry="1.5" fill="#1890ff"/><rect x="229.6" y="645.5" width="6.2" height="26.0" fill="#50e8ff"/><rect x="231.0" y="648.0" width="3.4" height="23.0" fill="#e0ffff"/><rect x="230.6" y="644.0" width="4.0" height="12.0" fill="#ffe040"/><rect x="231.3" y="644.0" width="2.6" height="8.0" fill="#e8160c"/><rect x="247.6" y="646.0" width="10.0" height="25.0" fill="#1a60ff" fill-opacity="0.6"/><rect x="199.5" y="560.0" width="1.6" height="5.0" fill="#1e70ff" fill-opacity="0.7"/><rect x="199.5" y="570.0" width="1.6" height="5.0" fill="#1e70ff" fill-opacity="0.7"/><rect x="199.5" y="580.0" width="1.6" height="5.0" fill="#1e70ff" fill-opacity="0.7"/><rect x="199.5" y="590.0" width="1.6" height="5.0" fill="#1e70ff" fill-opacity="0.7"/><rect x="199.5" y="600.0" width="1.6" height="5.0" fill="#1e70ff" fill-opacity="0.7"/><rect x="199.5" y="610.0" width="1.6" height="5.0" fill="#1e70ff" fill-opacity="0.7"/><rect x="199.5" y="620.0" width="1.6" height="5.0" fill="#1e70ff" fill-opacity="0.7"/><rect x="199.5" y="630.0" width="1.6" height="5.0" fill="#1e70ff" fill-opacity="0.7"/><rect x="199.5" y="640.0" width="1.6" height="5.0" fill="#1e70ff" fill-opacity="0.7"/><ellipse cx="297.7" cy="565.1" rx="3.2" ry="2.9" fill="#1aa8ff" fill-opacity="0.7"/><ellipse cx="300.6" cy="536.6" rx="3.2" ry="2.7" fill="#0c60ff" fill-opacity="0.7"/><ellipse cx="300.2" cy="586.6" rx="2.0" ry="2.4" fill="#0c60ff" fill-opacity="0.7"/><ellipse cx="273.7" cy="478.8" rx="2.2" ry="2.7" fill="#1488ff" fill-opacity="0.7"/><ellipse cx="263.7" cy="588.7" rx="3.1" ry="2.0" fill="#0c60ff" fill-opacity="0.7"/><ellipse cx="249.7" cy="548.4" rx="2.0" ry="1.8" fill="#0c60ff" fill-opacity="0.7"/><ellipse cx="256.7" cy="494.1" rx="3.5" ry="2.8" fill="#1488ff" fill-opacity="0.7"/><ellipse cx="267.1" cy="491.9" rx="3.3" ry="2.6" fill="#0c60ff" fill-opacity="0.7"/><ellipse cx="329.2" cy="558.2" rx="3.4" ry="2.9" fill="#1488ff" fill-opacity="0.7"/><ellipse cx="238.1" cy="521.0" rx="3.4" ry="2.1" fill="#1488ff" fill-opacity="0.7"/><ellipse cx="265.8" cy="546.4" rx="1.8" ry="2.6" fill="#1488ff" fill-opacity="0.7"/><ellipse cx="242.5" cy="513.0" rx="2.3" ry="2.6" fill="#0c60ff" fill-opacity="0.7"/><ellipse cx="283.6" cy="560.1" rx="1.9" ry="3.0" fill="#0c60ff" fill-opacity="0.7"/><ellipse cx="330.0" cy="513.3" rx="2.5" ry="2.5" fill="#1488ff" fill-opacity="0.7"/><ellipse cx="272.3" cy="543.1" rx="1.8" ry="1.9" fill="#0c60ff" fill-opacity="0.7"/><ellipse cx="297.7" cy="593.8" rx="2.0" ry="2.1" fill="#1488ff" fill-opacity="0.7"/><ellipse cx="270.1" cy="512.9" rx="2.7" ry="2.7" fill="#0c60ff" fill-opacity="0.7"/><ellipse cx="294.4" cy="570.4" rx="2.4" ry="2.2" fill="#1488ff" fill-opacity="0.7"/><ellipse cx="329.6" cy="477.3" rx="2.4" ry="2.5" fill="#0c60ff" fill-opacity="0.7"/><ellipse cx="269.7" cy="589.8" rx="2.7" ry="2.2" fill="#1488ff" fill-opacity="0.7"/><ellipse cx="266.3" cy="572.8" rx="2.9" ry="2.7" fill="#1488ff" fill-opacity="0.7"/><ellipse cx="334.7" cy="486.8" rx="1.9" ry="3.0" fill="#1aa8ff" fill-opacity="0.7"/><ellipse cx="327.4" cy="469.3" rx="3.1" ry="2.2" fill="#1488ff" fill-opacity="0.7"/><ellipse cx="281.1" cy="521.9" rx="1.9" ry="2.9" fill="#0c60ff" fill-opacity="0.7"/><ellipse cx="315.4" cy="510.1" rx="2.2" ry="3.0" fill="#1aa8ff" fill-opacity="0.7"/><ellipse cx="330.0" cy="550.1" rx="3.1" ry="1.9" fill="#1488ff" fill-opacity="0.7"/><ellipse cx="272.9" cy="472.9" rx="2.5" ry="2.0" fill="#1aa8ff" fill-opacity="0.7"/><ellipse cx="320.4" cy="596.8" rx="2.6" ry="2.4" fill="#1aa8ff" fill-opacity="0.7"/><ellipse cx="267.5" cy="502.0" rx="2.6" ry="2.9" fill="#0c60ff" fill-opacity="0.7"/><ellipse cx="273.3" cy="598.4" rx="3.4" ry="2.6" fill="#1488ff" fill-opacity="0.7"/><ellipse cx="321.9" cy="489.3" rx="2.6" ry="2.4" fill="#1aa8ff" fill-opacity="0.7"/><ellipse cx="321.9" cy="513.8" rx="3.1" ry="2.7" fill="#1aa8ff" fill-opacity="0.7"/><ellipse cx="294.2" cy="469.6" rx="2.3" ry="2.5" fill="#1aa8ff" fill-opacity="0.7"/><ellipse cx="263.8" cy="530.6" rx="3.1" ry="2.6" fill="#1488ff" fill-opacity="0.7"/><ellipse cx="330.7" cy="510.9" rx="2.1" ry="2.8" fill="#1488ff" fill-opacity="0.7"/><ellipse cx="290.2" cy="498.8" rx="2.9" ry="2.4" fill="#1aa8ff" fill-opacity="0.7"/><ellipse cx="300.1" cy="572.7" rx="2.4" ry="2.6" fill="#1aa8ff" fill-opacity="0.7"/><ellipse cx="328.8" cy="520.1" rx="3.4" ry="2.0" fill="#1aa8ff" fill-opacity="0.7"/><ellipse cx="280.5" cy="514.2" rx="2.4" ry="2.0" fill="#0c60ff" fill-opacity="0.7"/><ellipse cx="255.7" cy="513.9" rx="3.3" ry="2.1" fill="#0c60ff" fill-opacity="0.7"/><ellipse cx="307.2" cy="563.6" rx="2.1" ry="2.7" fill="#1aa8ff" fill-opacity="0.7"/><ellipse cx="287.1" cy="591.4" rx="2.3" ry="2.5" fill="#1aa8ff" fill-opacity="0.7"/><ellipse cx="262.8" cy="599.5" rx="2.1" ry="2.5" fill="#1aa8ff" fill-opacity="0.7"/><ellipse cx="300.4" cy="494.6" rx="3.0" ry="2.6" fill="#0c60ff" fill-opacity="0.7"/><ellipse cx="333.7" cy="597.3" rx="2.1" ry="2.9" fill="#0c60ff" fill-opacity="0.7"/></g><g filter="url(#rA)"><ellipse cx="236.0" cy="453.0" rx="5.7" ry="9.3" fill="#fff060"/><ellipse cx="236.0" cy="453.0" rx="4.9" ry="8.6" fill="#e8160c"/><ellipse cx="239.8" cy="556.0" rx="3.6" ry="3.5" fill="#f4ff90"/><ellipse cx="239.8" cy="556.0" rx="1.9" ry="1.7" fill="#ee3a14"/><ellipse cx="253.7" cy="575.5" rx="3.8" ry="3.7" fill="#f4ff90"/><ellipse cx="253.7" cy="575.5" rx="2.0" ry="1.8" fill="#ee3a14"/><ellipse cx="267.1" cy="584.7" rx="4.1" ry="4.0" fill="#f4ff90"/><ellipse cx="267.1" cy="584.7" rx="2.2" ry="1.9" fill="#ee3a14"/><ellipse cx="288.0" cy="594.6" rx="3.6" ry="3.5" fill="#f4ff90"/><ellipse cx="288.0" cy="594.6" rx="1.9" ry="1.7" fill="#ee3a14"/><ellipse cx="268.0" cy="602.7" rx="3.0" ry="2.9" fill="#f4ff90"/><ellipse cx="268.0" cy="602.7" rx="1.5" ry="1.3" fill="#ee3a14"/><ellipse cx="246.6" cy="612.4" rx="2.6" ry="2.5" fill="#f4ff90"/><ellipse cx="246.6" cy="612.4" rx="1.2" ry="1.1" fill="#ee3a14"/><ellipse cx="341.0" cy="606.5" rx="3.1" ry="3.0" fill="#f4ff90"/><ellipse cx="341.0" cy="606.5" rx="1.6" ry="1.4" fill="#ee3a14"/><ellipse cx="268.5" cy="603.0" rx="2.6" ry="2.5" fill="#f4ff90"/><ellipse cx="268.5" cy="603.0" rx="1.2" ry="1.1" fill="#ee3a14"/><ellipse cx="281.0" cy="605.0" rx="5.1" ry="7.8" fill="#fff060"/><ellipse cx="281.0" cy="605.0" rx="4.3" ry="7.1" fill="#e8160c"/><ellipse cx="370.0" cy="607.0" rx="9.5" ry="5.1" fill="#fff060"/><ellipse cx="370.0" cy="607.0" rx="8.7" ry="4.4" fill="#e8160c"/><ellipse cx="228.0" cy="616.0" rx="6.0" ry="7.3" fill="#fff060"/><ellipse cx="228.0" cy="616.0" rx="5.2" ry="6.6" fill="#e8160c"/><ellipse cx="233.0" cy="623.5" rx="3.5" ry="3.3" fill="#fff060"/><ellipse cx="233.0" cy="623.5" rx="2.7" ry="2.6" fill="#e8160c"/><ellipse cx="247.0" cy="623.5" rx="7.0" ry="3.1" fill="#fff060"/><ellipse cx="247.0" cy="623.5" rx="6.2" ry="2.4" fill="#e8160c"/><ellipse cx="265.0" cy="623.5" rx="4.0" ry="3.1" fill="#fff060"/><ellipse cx="265.0" cy="623.5" rx="3.2" ry="2.4" fill="#e8160c"/><ellipse cx="280.4" cy="623.5" rx="3.5" ry="3.1" fill="#fff060"/><ellipse cx="280.4" cy="623.5" rx="2.7" ry="2.4" fill="#e8160c"/><ellipse cx="313.0" cy="628.0" rx="8.0" ry="3.5" fill="#fff060"/><ellipse cx="313.0" cy="628.0" rx="7.2" ry="2.8" fill="#e8160c"/><ellipse cx="341.0" cy="625.0" rx="5.5" ry="3.3" fill="#fff060"/><ellipse cx="341.0" cy="625.0" rx="4.7" ry="2.6" fill="#e8160c"/><ellipse cx="252.6" cy="627.0" rx="4.5" ry="2.9" fill="#fff060"/><ellipse cx="252.6" cy="627.0" rx="3.7" ry="2.2" fill="#e8160c"/><ellipse cx="231.2" cy="633.0" rx="5.0" ry="4.1" fill="#fff060"/><ellipse cx="231.2" cy="633.0" rx="4.2" ry="3.4" fill="#e8160c"/><ellipse cx="253.0" cy="633.0" rx="8.0" ry="4.1" fill="#fff060"/><ellipse cx="253.0" cy="633.0" rx="7.2" ry="3.4" fill="#e8160c"/><ellipse cx="267.0" cy="633.0" rx="6.0" ry="4.1" fill="#fff060"/><ellipse cx="267.0" cy="633.0" rx="5.2" ry="3.4" fill="#e8160c"/><ellipse cx="282.3" cy="633.0" rx="7.5" ry="4.1" fill="#fff060"/><ellipse cx="282.3" cy="633.0" rx="6.7" ry="3.4" fill="#e8160c"/><ellipse cx="316.0" cy="633.0" rx="5.5" ry="3.8" fill="#fff060"/><ellipse cx="316.0" cy="633.0" rx="4.7" ry="3.1" fill="#e8160c"/><ellipse cx="250.0" cy="640.0" rx="11.0" ry="6.8" fill="#fff060"/><ellipse cx="250.0" cy="640.0" rx="10.2" ry="6.1" fill="#e8160c"/><ellipse cx="234.0" cy="643.5" rx="8.5" ry="3.8" fill="#fff060"/><ellipse cx="234.0" cy="643.5" rx="7.7" ry="3.1" fill="#e8160c"/><ellipse cx="211.4" cy="645.7" rx="4.5" ry="4.3" fill="#fff060"/><ellipse cx="211.4" cy="645.7" rx="3.7" ry="3.6" fill="#e8160c"/><linearGradient id="ripgn" x1="0" y1="0" x2="0" y2="1"><stop offset="0" stop-color="#e8160c"/><stop offset="0.22" stop-color="#ea2010"/><stop offset="0.38" stop-color="#f89020"/><stop offset="0.52" stop-color="#ffff50"/><stop offset="0.8" stop-color="#f8ffa0"/><stop offset="0.92" stop-color="#c0ffff"/><stop offset="1" stop-color="#70ffff"/></linearGradient><rect x="207.2" y="176.0" width="2.4" height="150.0" fill="#20e0ff"/><rect x="207.5" y="326.0" width="1.8" height="60.0" fill="#18b0ff"/><rect x="207.7" y="386.0" width="1.4" height="40.0" fill="#1070ff" fill-opacity="0.8"/><rect x="228.3" y="176.0" width="1.2" height="272.0" fill="#ffe060"/><rect x="223.4" y="176.0" width="5.2" height="272.0" fill="#e8160c"/><rect x="228.3" y="457.0" width="1.2" height="87.0" fill="#c0ffff"/><rect x="223.4" y="457" width="5.2" height="96" fill="url(#ripgn)" rx="2"/><rect x="223.2" y="436" width="5.6" height="12" rx="2.8" fill="#e8160c"/></g></g></g><rect x="96" y="175.5" width="989" height="1.3" fill="#000050" fill-opacity="0.8"/><rect x="589.5" y="176" width="2.2" height="495" fill="#d8d8f0"/><rect x="41" y="148.6" width="62" height="4.4" fill="url(#cbar)"/><g style="font-family:'Liberation Mono',monospace;font-size:6.8px;fill:#505050"><text x="37" y="162">-0.173[V]</text><text x="90.3" y="162">0.733[V]</text></g><g style="font-family:'Liberation Mono',monospace;font-weight:bold;font-size:8.5px;fill:#111"><text x="97" y="172.5">L</text><text x="592" y="172.3">c</text></g><g style="font-family:'Liberation Mono',monospace;font-weight:bold;font-size:7px;fill:#222" text-anchor="end"><text x="93" y="239.6">700</text><text x="93.3" y="249.8">[11:40]</text><text x="93" y="306.2">600</text><text x="93.3" y="316.4">[10:00]</text><text x="93" y="372.8">500</text><text x="93.3" y="383.0">[08:20]</text><text x="93" y="439.4">400</text><text x="93.3" y="449.6">[06:40]</text><text x="93" y="506.0">300</text><text x="93.3" y="516.2">[05:00]</text><text x="93" y="572.6">200</text><text x="93.3" y="582.8">[03:20]</text><text x="93" y="639.2">100</text><text x="93.3" y="649.4">[01:40]</text></g><path d="M93 237.0h3M93 303.6h3M93 370.2h3M93 436.8h3M93 503.4h3M93 570.0h3M93 636.6h3" stroke="#333" stroke-width="0.9"/><text transform="translate(49.6,467.2) rotate(-90)" style="font-family:'Liberation Mono',monospace;font-weight:bold;font-size:8.15px;fill:#1a1a1a">measurement run / sec [min]</text><g style="font-family:'Liberation Mono',monospace;font-weight:bold;font-size:7.4px;fill:#333"><text x="219.2" y="681">1.0</text><text x="346.2" y="681">1.5</text><text x="472.8" y="681">2.0</text><text x="714.7" y="681">1.0</text><text x="841.7" y="681">1.5</text><text x="968.3" y="681">2.0</text></g><path d="M221.5 671v2.5M348.3 671v2.5M475.6 671v2.5M717.0 671v2.5M843.8 671v2.5M971.1 671v2.5" stroke="#333" stroke-width="0.9"/><g style="font-family:'Liberation Mono',monospace;font-size:7.15px;fill:#e03030;font-weight:bold"><text x="219.4" y="689">RIP: 5.767[ms]</text><text x="714.9" y="689">RIP: 5.767[ms]</text></g><text x="580" y="698" style="font-family:'Liberation Mono',monospace;font-weight:bold;font-size:8.2px;fill:#222">drift time / RIP relative</text><path d="M582 667l3 -2v-2" stroke="#c8c8ff" stroke-width="0.8" fill="none"/><path d="M1077.5 667l3 -2v-2" stroke="#c8c8ff" stroke-width="0.8" fill="none"/></svg><svg class="abs" style="left:0;top:780px" width="1209" height="460" viewBox="0 780 1209 460"><defs><filter id="bB" x="-10%" y="-10%" width="120%" height="120%"><feGaussianBlur stdDeviation="0.9"/></filter><filter id="hB" x="-20%" y="-20%" width="140%" height="140%"><feGaussianBlur stdDeviation="4"/></filter><clipPath id="cB1"><polygon points="200,844 639.5,844 545.5,1217 106,1217"/></clipPath><clipPath id="cB2"><polygon points="639.5,844 1079,844 984,1217 545.5,1217"/></clipPath></defs><polygon points="200,844 1079,844 984,1217 106,1217" fill="#00c2ff"/><g clip-path="url(#cB1)"><g filter="url(#hB)"><polygon points="317,844 362,844 345,930 320,1040 300,1120 280,1190 262,1190 272,1040" fill="#50e8ff" fill-opacity="0.55"/><polygon points="235.2,1147.7 311.6,1142.5 389.8,1158.1 346.3,1184.2 259.5,1197.2 224.7,1200.7 228.2,1161.6" fill="#70f4ff" fill-opacity="0.6"/><polygon points="242.1,1040.0 337.6,1040.0 346.3,1109.5 311.6,1118.2 242.1,1137.3" fill="#50eaff" fill-opacity="0.35"/><polygon points="598,844 608,844 578,990 570,990" fill="#00e0ff" fill-opacity="0.75"/><rect x="380" y="940" width="230" height="8" fill="#30d8ff" fill-opacity="0.35"/></g><g filter="url(#bB)"><ellipse cx="300.0" cy="1183.0" rx="50.0" ry="2.2" fill="#e8ffd0" fill-opacity="0.85"/><ellipse cx="300.0" cy="1176.0" rx="55.0" ry="2.2" fill="#a0fff8" fill-opacity="0.85"/><ellipse cx="305.0" cy="1168.0" rx="65.0" ry="2.2" fill="#80f8ff" fill-opacity="0.85"/><ellipse cx="315.0" cy="1160.0" rx="65.0" ry="2.2" fill="#70f0ff" fill-opacity="0.85"/><ellipse cx="300.0" cy="1150.0" rx="50.0" ry="2.2" fill="#60ecff" fill-opacity="0.85"/><ellipse cx="297.5" cy="1140.0" rx="42.5" ry="2.2" fill="#50e8ff" fill-opacity="0.85"/><ellipse cx="294.0" cy="1130.0" rx="36.0" ry="2.2" fill="#50e8ff" fill-opacity="0.85"/><ellipse cx="299.6" cy="987.3" rx="4.5" ry="6.0" fill="#60f0ff" fill-opacity="0.7"/><ellipse cx="299.6" cy="987.3" rx="2.5" ry="4.0" fill="#ffffa0"/><ellipse cx="298.0" cy="1030.0" rx="4.5" ry="5.5" fill="#60f0ff" fill-opacity="0.7"/><ellipse cx="298.0" cy="1030.0" rx="2.5" ry="3.5" fill="#f0ffff"/><ellipse cx="356.6" cy="1035.3" rx="5.0" ry="5.5" fill="#60f0ff" fill-opacity="0.7"/><ellipse cx="356.6" cy="1035.3" rx="3.0" ry="3.5" fill="#f0ffff"/><ellipse cx="294.7" cy="1050.0" rx="4.5" ry="5.0" fill="#60f0ff" fill-opacity="0.7"/><ellipse cx="294.7" cy="1050.0" rx="2.5" ry="3.0" fill="#e0ffff"/><ellipse cx="326.0" cy="1091.5" rx="5.0" ry="4.5" fill="#60f0ff" fill-opacity="0.7"/><ellipse cx="326.0" cy="1091.5" rx="3.0" ry="2.5" fill="#e8ffff"/><ellipse cx="356.0" cy="1096.5" rx="5.0" ry="4.5" fill="#60f0ff" fill-opacity="0.7"/><ellipse cx="356.0" cy="1096.5" rx="3.0" ry="2.5" fill="#e8ffff"/><ellipse cx="305.0" cy="1010.0" rx="5.0" ry="5.0" fill="#60f0ff" fill-opacity="0.7"/><ellipse cx="305.0" cy="1010.0" rx="3.0" ry="3.0" fill="#90fcff"/><ellipse cx="320.0" cy="1000.0" rx="5.0" ry="5.0" fill="#60f0ff" fill-opacity="0.7"/><ellipse cx="320.0" cy="1000.0" rx="3.0" ry="3.0" fill="#80f8ff"/><ellipse cx="335.0" cy="1060.0" rx="5.0" ry="5.0" fill="#60f0ff" fill-opacity="0.7"/><ellipse cx="335.0" cy="1060.0" rx="3.0" ry="3.0" fill="#90fcff"/><ellipse cx="300.0" cy="1075.0" rx="5.0" ry="4.5" fill="#60f0ff" fill-opacity="0.7"/><ellipse cx="300.0" cy="1075.0" rx="3.0" ry="2.5" fill="#a0ffff"/><ellipse cx="283.0" cy="1106.0" rx="5.0" ry="4.5" fill="#60f0ff" fill-opacity="0.7"/><ellipse cx="283.0" cy="1106.0" rx="3.0" ry="2.5" fill="#a0ffff"/><ellipse cx="315.0" cy="1112.0" rx="5.0" ry="4.5" fill="#60f0ff" fill-opacity="0.7"/><ellipse cx="315.0" cy="1112.0" rx="3.0" ry="2.5" fill="#b0ffff"/><ellipse cx="340.0" cy="1120.0" rx="5.0" ry="4.5" fill="#60f0ff" fill-opacity="0.7"/><ellipse cx="340.0" cy="1120.0" rx="3.0" ry="2.5" fill="#a0ffff"/><ellipse cx="280.0" cy="1125.0" rx="5.0" ry="4.5" fill="#60f0ff" fill-opacity="0.7"/><ellipse cx="280.0" cy="1125.0" rx="3.0" ry="2.5" fill="#c0ffff"/><ellipse cx="322.0" cy="960.0" rx="5.0" ry="6.0" fill="#60f0ff" fill-opacity="0.7"/><ellipse cx="322.0" cy="960.0" rx="3.0" ry="4.0" fill="#70f4ff"/><ellipse cx="340.0" cy="985.0" rx="5.0" ry="6.0" fill="#60f0ff" fill-opacity="0.7"/><ellipse cx="340.0" cy="985.0" rx="3.0" ry="4.0" fill="#70f4ff"/><ellipse cx="310.0" cy="940.0" rx="4.5" ry="6.0" fill="#60f0ff" fill-opacity="0.7"/><ellipse cx="310.0" cy="940.0" rx="2.5" ry="4.0" fill="#60f0ff"/><line x1="299.5" y1="844" x2="258" y2="1026" stroke="#c8ffff" stroke-width="1.7"/><polyline points="320,844 295.5,939 279,1000 271,1040" fill="none" stroke="#70fcff" stroke-width="4"/></g><polygon points="310,831.5 317.8,843 293,939 276.5,1000 268.5,1038 262,1038 265,1018 279,939 305,844" fill="#f40c04"/><polyline points="293.5,939 277,1000 268.8,1038" fill="none" stroke="#ffe840" stroke-width="1.2"/><ellipse cx="269.2" cy="1047.8" rx="5.2" ry="8.2" fill="#ffe840"/><ellipse cx="269.2" cy="1047.8" rx="4.2" ry="7.2" fill="#f40c04"/><line x1="262" y1="1054" x2="243" y2="1123" stroke="#ffe030" stroke-width="3"/><line x1="262" y1="1054" x2="250" y2="1098" stroke="#f40c04" stroke-width="2.4"/><line x1="242" y1="1127" x2="236" y2="1152" stroke="#e8ffff" stroke-width="2.4" stroke-dasharray="5 3"/><line x1="242" y1="1160" x2="225.5" y2="1217" stroke="#f0ffe0" stroke-width="2.4"/><polygon points="217.8,1144.2 227.3,1168.5 231.7,1179.0 235.5,1191.1 230.0,1196.3 225.6,1191.1 224.4,1175.5" fill="#ffe840" stroke="#ffe840" stroke-width="2.2" stroke-linejoin="round"/><polygon points="232.6,1158.1 236.9,1161.6 242.1,1172.0 247.3,1179.0 242.1,1187.6 235.2,1189.4 231.7,1172.0" fill="#ffe840" stroke="#ffe840" stroke-width="2.2" stroke-linejoin="round"/><polygon points="224.7,1189.4 231.7,1184.2 240.4,1177.2 249.1,1172.0 256.4,1179.0 256.9,1191.1 247.3,1194.9 236.9,1196.0 226.5,1195.1" fill="#ffe840" stroke="#ffe840" stroke-width="2.2" stroke-linejoin="round"/><polygon points="264.7,1159.9 269.0,1161.6 271.6,1165.4 273.7,1168.9 282.4,1188.0 271.6,1189.7 259.5,1188.5 257.4,1179.0 263.0,1175.5" fill="#ffe840" stroke="#ffe840" stroke-width="2.2" stroke-linejoin="round"/><polygon points="294.2,1155.0 301.5,1166.8 311.9,1184.5 308.5,1189.7 301.2,1188.0 297.3,1172.0" fill="#ffe840" stroke="#ffe840" stroke-width="2.2" stroke-linejoin="round"/><polygon points="317.7,1176.9 322.4,1182.8 313.0,1184.5" fill="#ffe840" stroke="#ffe840" stroke-width="2.2" stroke-linejoin="round"/><polygon points="329.0,1171.7 336.3,1181.0 325.5,1182.8" fill="#ffe840" stroke="#ffe840" stroke-width="2.2" stroke-linejoin="round"/><polygon points="351.5,1147.3 360.6,1158.1 367.5,1168.9 357.1,1169.9 352.6,1161.9" fill="#ffe840" stroke="#ffe840" stroke-width="2.2" stroke-linejoin="round"/><polygon points="287.3,1182.4 294.2,1185.0 287.3,1187.6 283.8,1185.9" fill="#ffe840" stroke="#ffe840" stroke-width="2.2" stroke-linejoin="round"/><polygon points="217.8,1144.2 227.3,1168.5 231.7,1179.0 235.5,1191.1 230.0,1196.3 225.6,1191.1 224.4,1175.5" fill="#f40c04"/><polygon points="232.6,1158.1 236.9,1161.6 242.1,1172.0 247.3,1179.0 242.1,1187.6 235.2,1189.4 231.7,1172.0" fill="#f40c04"/><polygon points="224.7,1189.4 231.7,1184.2 240.4,1177.2 249.1,1172.0 256.4,1179.0 256.9,1191.1 247.3,1194.9 236.9,1196.0 226.5,1195.1" fill="#f40c04"/><polygon points="264.7,1159.9 269.0,1161.6 271.6,1165.4 273.7,1168.9 282.4,1188.0 271.6,1189.7 259.5,1188.5 257.4,1179.0 263.0,1175.5" fill="#f40c04"/><polygon points="294.2,1155.0 301.5,1166.8 311.9,1184.5 308.5,1189.7 301.2,1188.0 297.3,1172.0" fill="#f40c04"/><polygon points="317.7,1176.9 322.4,1182.8 313.0,1184.5" fill="#f40c04"/><polygon points="329.0,1171.7 336.3,1181.0 325.5,1182.8" fill="#f40c04"/><polygon points="351.5,1147.3 360.6,1158.1 367.5,1168.9 357.1,1169.9 352.6,1161.9" fill="#f40c04"/><polygon points="287.3,1182.4 294.2,1185.0 287.3,1187.6 283.8,1185.9" fill="#f40c04"/><ellipse cx="279.5" cy="1164.2" rx="4.8" ry="7.4" fill="#ffe840"/><ellipse cx="279.5" cy="1164.2" rx="3.6" ry="6.2" fill="#f40c04"/><ellipse cx="333.3" cy="1165.1" rx="4.7" ry="3.8" fill="#ffe840"/><ellipse cx="333.3" cy="1165.1" rx="3.5" ry="2.6" fill="#f40c04"/><ellipse cx="253.4" cy="1127.7" rx="3.8" ry="3.8" fill="#ffe840"/><ellipse cx="253.4" cy="1127.7" rx="2.6" ry="2.6" fill="#f40c04"/><ellipse cx="261.2" cy="1141.6" rx="3.8" ry="3.6" fill="#ffe840"/><ellipse cx="261.2" cy="1141.6" rx="2.6" ry="2.4" fill="#f40c04"/><ellipse cx="271.6" cy="1149.1" rx="4.0" ry="3.8" fill="#ffe840"/><ellipse cx="271.6" cy="1149.1" rx="2.8" ry="2.6" fill="#f40c04"/><ellipse cx="288.7" cy="1156.4" rx="3.8" ry="3.6" fill="#ffe840"/><ellipse cx="288.7" cy="1156.4" rx="2.6" ry="2.4" fill="#f40c04"/><ellipse cx="247.3" cy="1169.4" rx="3.4" ry="3.4" fill="#ffe840"/><ellipse cx="247.3" cy="1169.4" rx="2.2" ry="2.2" fill="#f40c04"/><ellipse cx="210.8" cy="1193.7" rx="3.0" ry="5.0" fill="#ffe840" transform="rotate(-30 210.8 1193.7)"/><ellipse cx="210.8" cy="1193.7" rx="2.0" ry="4.0" fill="#f40c04" transform="rotate(-30 210.8 1193.7)"/></g><g clip-path="url(#cB2)"><g transform="translate(440,0)"><g filter="url(#hB)"><polygon points="317,844 362,844 345,930 320,1040 300,1120 280,1190 262,1190 272,1040" fill="#50e8ff" fill-opacity="0.55"/><polygon points="235.2,1147.7 311.6,1142.5 389.8,1158.1 346.3,1184.2 259.5,1197.2 224.7,1200.7 228.2,1161.6" fill="#70f4ff" fill-opacity="0.6"/><polygon points="242.1,1040.0 337.6,1040.0 346.3,1109.5 311.6,1118.2 242.1,1137.3" fill="#50eaff" fill-opacity="0.35"/><polygon points="598,844 608,844 578,990 570,990" fill="#00e0ff" fill-opacity="0.75"/><rect x="380" y="940" width="230" height="8" fill="#30d8ff" fill-opacity="0.35"/></g><g filter="url(#bB)"><ellipse cx="300.0" cy="1183.0" rx="50.0" ry="2.2" fill="#e8ffd0" fill-opacity="0.85"/><ellipse cx="300.0" cy="1176.0" rx="55.0" ry="2.2" fill="#a0fff8" fill-opacity="0.85"/><ellipse cx="305.0" cy="1168.0" rx="65.0" ry="2.2" fill="#80f8ff" fill-opacity="0.85"/><ellipse cx="315.0" cy="1160.0" rx="65.0" ry="2.2" fill="#70f0ff" fill-opacity="0.85"/><ellipse cx="300.0" cy="1150.0" rx="50.0" ry="2.2" fill="#60ecff" fill-opacity="0.85"/><ellipse cx="297.5" cy="1140.0" rx="42.5" ry="2.2" fill="#50e8ff" fill-opacity="0.85"/><ellipse cx="294.0" cy="1130.0" rx="36.0" ry="2.2" fill="#50e8ff" fill-opacity="0.85"/><ellipse cx="299.6" cy="987.3" rx="4.5" ry="6.0" fill="#60f0ff" fill-opacity="0.7"/><ellipse cx="299.6" cy="987.3" rx="2.5" ry="4.0" fill="#ffffa0"/><ellipse cx="298.0" cy="1030.0" rx="4.5" ry="5.5" fill="#60f0ff" fill-opacity="0.7"/><ellipse cx="298.0" cy="1030.0" rx="2.5" ry="3.5" fill="#f0ffff"/><ellipse cx="356.6" cy="1035.3" rx="5.0" ry="5.5" fill="#60f0ff" fill-opacity="0.7"/><ellipse cx="356.6" cy="1035.3" rx="3.0" ry="3.5" fill="#f0ffff"/><ellipse cx="294.7" cy="1050.0" rx="4.5" ry="5.0" fill="#60f0ff" fill-opacity="0.7"/><ellipse cx="294.7" cy="1050.0" rx="2.5" ry="3.0" fill="#e0ffff"/><ellipse cx="326.0" cy="1091.5" rx="5.0" ry="4.5" fill="#60f0ff" fill-opacity="0.7"/><ellipse cx="326.0" cy="1091.5" rx="3.0" ry="2.5" fill="#e8ffff"/><ellipse cx="356.0" cy="1096.5" rx="5.0" ry="4.5" fill="#60f0ff" fill-opacity="0.7"/><ellipse cx="356.0" cy="1096.5" rx="3.0" ry="2.5" fill="#e8ffff"/><ellipse cx="305.0" cy="1010.0" rx="5.0" ry="5.0" fill="#60f0ff" fill-opacity="0.7"/><ellipse cx="305.0" cy="1010.0" rx="3.0" ry="3.0" fill="#90fcff"/><ellipse cx="320.0" cy="1000.0" rx="5.0" ry="5.0" fill="#60f0ff" fill-opacity="0.7"/><ellipse cx="320.0" cy="1000.0" rx="3.0" ry="3.0" fill="#80f8ff"/><ellipse cx="335.0" cy="1060.0" rx="5.0" ry="5.0" fill="#60f0ff" fill-opacity="0.7"/><ellipse cx="335.0" cy="1060.0" rx="3.0" ry="3.0" fill="#90fcff"/><ellipse cx="300.0" cy="1075.0" rx="5.0" ry="4.5" fill="#60f0ff" fill-opacity="0.7"/><ellipse cx="300.0" cy="1075.0" rx="3.0" ry="2.5" fill="#a0ffff"/><ellipse cx="283.0" cy="1106.0" rx="5.0" ry="4.5" fill="#60f0ff" fill-opacity="0.7"/><ellipse cx="283.0" cy="1106.0" rx="3.0" ry="2.5" fill="#a0ffff"/><ellipse cx="315.0" cy="1112.0" rx="5.0" ry="4.5" fill="#60f0ff" fill-opacity="0.7"/><ellipse cx="315.0" cy="1112.0" rx="3.0" ry="2.5" fill="#b0ffff"/><ellipse cx="340.0" cy="1120.0" rx="5.0" ry="4.5" fill="#60f0ff" fill-opacity="0.7"/><ellipse cx="340.0" cy="1120.0" rx="3.0" ry="2.5" fill="#a0ffff"/><ellipse cx="280.0" cy="1125.0" rx="5.0" ry="4.5" fill="#60f0ff" fill-opacity="0.7"/><ellipse cx="280.0" cy="1125.0" rx="3.0" ry="2.5" fill="#c0ffff"/><ellipse cx="322.0" cy="960.0" rx="5.0" ry="6.0" fill="#60f0ff" fill-opacity="0.7"/><ellipse cx="322.0" cy="960.0" rx="3.0" ry="4.0" fill="#70f4ff"/><ellipse cx="340.0" cy="985.0" rx="5.0" ry="6.0" fill="#60f0ff" fill-opacity="0.7"/><ellipse cx="340.0" cy="985.0" rx="3.0" ry="4.0" fill="#70f4ff"/><ellipse cx="310.0" cy="940.0" rx="4.5" ry="6.0" fill="#60f0ff" fill-opacity="0.7"/><ellipse cx="310.0" cy="940.0" rx="2.5" ry="4.0" fill="#60f0ff"/><line x1="299.5" y1="844" x2="258" y2="1026" stroke="#c8ffff" stroke-width="1.7"/><polyline points="320,844 295.5,939 279,1000 271,1040" fill="none" stroke="#70fcff" stroke-width="4"/></g><polygon points="310,831.5 317.8,843 293,939 276.5,1000 268.5,1038 262,1038 265,1018 279,939 305,844" fill="#f40c04"/><polyline points="293.5,939 277,1000 268.8,1038" fill="none" stroke="#ffe840" stroke-width="1.2"/><ellipse cx="269.2" cy="1047.8" rx="5.2" ry="8.2" fill="#ffe840"/><ellipse cx="269.2" cy="1047.8" rx="4.2" ry="7.2" fill="#f40c04"/><line x1="262" y1="1054" x2="243" y2="1123" stroke="#ffe030" stroke-width="3"/><line x1="262" y1="1054" x2="250" y2="1098" stroke="#f40c04" stroke-width="2.4"/><line x1="242" y1="1127" x2="236" y2="1152" stroke="#e8ffff" stroke-width="2.4" stroke-dasharray="5 3"/><line x1="242" y1="1160" x2="225.5" y2="1217" stroke="#f0ffe0" stroke-width="2.4"/><polygon points="217.8,1144.2 227.3,1168.5 231.7,1179.0 235.5,1191.1 230.0,1196.3 225.6,1191.1 224.4,1175.5" fill="#ffe840" stroke="#ffe840" stroke-width="2.2" stroke-linejoin="round"/><polygon points="232.6,1158.1 236.9,1161.6 242.1,1172.0 247.3,1179.0 242.1,1187.6 235.2,1189.4 231.7,1172.0" fill="#ffe840" stroke="#ffe840" stroke-width="2.2" stroke-linejoin="round"/><polygon points="224.7,1189.4 231.7,1184.2 240.4,1177.2 249.1,1172.0 256.4,1179.0 256.9,1191.1 247.3,1194.9 236.9,1196.0 226.5,1195.1" fill="#ffe840" stroke="#ffe840" stroke-width="2.2" stroke-linejoin="round"/><polygon points="264.7,1159.9 269.0,1161.6 271.6,1165.4 273.7,1168.9 282.4,1188.0 271.6,1189.7 259.5,1188.5 257.4,1179.0 263.0,1175.5" fill="#ffe840" stroke="#ffe840" stroke-width="2.2" stroke-linejoin="round"/><polygon points="294.2,1155.0 301.5,1166.8 311.9,1184.5 308.5,1189.7 301.2,1188.0 297.3,1172.0" fill="#ffe840" stroke="#ffe840" stroke-width="2.2" stroke-linejoin="round"/><polygon points="317.7,1176.9 322.4,1182.8 313.0,1184.5" fill="#ffe840" stroke="#ffe840" stroke-width="2.2" stroke-linejoin="round"/><polygon points="329.0,1171.7 336.3,1181.0 325.5,1182.8" fill="#ffe840" stroke="#ffe840" stroke-width="2.2" stroke-linejoin="round"/><polygon points="351.5,1147.3 360.6,1158.1 367.5,1168.9 357.1,1169.9 352.6,1161.9" fill="#ffe840" stroke="#ffe840" stroke-width="2.2" stroke-linejoin="round"/><polygon points="287.3,1182.4 294.2,1185.0 287.3,1187.6 283.8,1185.9" fill="#ffe840" stroke="#ffe840" stroke-width="2.2" stroke-linejoin="round"/><polygon points="217.8,1144.2 227.3,1168.5 231.7,1179.0 235.5,1191.1 230.0,1196.3 225.6,1191.1 224.4,1175.5" fill="#f40c04"/><polygon points="232.6,1158.1 236.9,1161.6 242.1,1172.0 247.3,1179.0 242.1,1187.6 235.2,1189.4 231.7,1172.0" fill="#f40c04"/><polygon points="224.7,1189.4 231.7,1184.2 240.4,1177.2 249.1,1172.0 256.4,1179.0 256.9,1191.1 247.3,1194.9 236.9,1196.0 226.5,1195.1" fill="#f40c04"/><polygon points="264.7,1159.9 269.0,1161.6 271.6,1165.4 273.7,1168.9 282.4,1188.0 271.6,1189.7 259.5,1188.5 257.4,1179.0 263.0,1175.5" fill="#f40c04"/><polygon points="294.2,1155.0 301.5,1166.8 311.9,1184.5 308.5,1189.7 301.2,1188.0 297.3,1172.0" fill="#f40c04"/><polygon points="317.7,1176.9 322.4,1182.8 313.0,1184.5" fill="#f40c04"/><polygon points="329.0,1171.7 336.3,1181.0 325.5,1182.8" fill="#f40c04"/><polygon points="351.5,1147.3 360.6,1158.1 367.5,1168.9 357.1,1169.9 352.6,1161.9" fill="#f40c04"/><polygon points="287.3,1182.4 294.2,1185.0 287.3,1187.6 283.8,1185.9" fill="#f40c04"/><ellipse cx="279.5" cy="1164.2" rx="4.8" ry="7.4" fill="#ffe840"/><ellipse cx="279.5" cy="1164.2" rx="3.6" ry="6.2" fill="#f40c04"/><ellipse cx="333.3" cy="1165.1" rx="4.7" ry="3.8" fill="#ffe840"/><ellipse cx="333.3" cy="1165.1" rx="3.5" ry="2.6" fill="#f40c04"/><ellipse cx="253.4" cy="1127.7" rx="3.8" ry="3.8" fill="#ffe840"/><ellipse cx="253.4" cy="1127.7" rx="2.6" ry="2.6" fill="#f40c04"/><ellipse cx="261.2" cy="1141.6" rx="3.8" ry="3.6" fill="#ffe840"/><ellipse cx="261.2" cy="1141.6" rx="2.6" ry="2.4" fill="#f40c04"/><ellipse cx="271.6" cy="1149.1" rx="4.0" ry="3.8" fill="#ffe840"/><ellipse cx="271.6" cy="1149.1" rx="2.8" ry="2.6" fill="#f40c04"/><ellipse cx="288.7" cy="1156.4" rx="3.8" ry="3.6" fill="#ffe840"/><ellipse cx="288.7" cy="1156.4" rx="2.6" ry="2.4" fill="#f40c04"/><ellipse cx="247.3" cy="1169.4" rx="3.4" ry="3.4" fill="#ffe840"/><ellipse cx="247.3" cy="1169.4" rx="2.2" ry="2.2" fill="#f40c04"/><ellipse cx="210.8" cy="1193.7" rx="3.0" ry="5.0" fill="#ffe840" transform="rotate(-30 210.8 1193.7)"/><ellipse cx="210.8" cy="1193.7" rx="2.0" ry="4.0" fill="#f40c04" transform="rotate(-30 210.8 1193.7)"/></g></g><polygon points="310,831.5 317.8,843 316,845 305,845" fill="#f40c04"/><polygon points="750,831.5 757.8,843 756,845 745,845" fill="#f40c04"/><line x1="639.5" y1="844" x2="545.5" y2="1217" stroke="#f4ffff" stroke-width="1.7"/></svg><svg class="abs" style="left:0;top:1340px" width="1209" height="600" viewBox="0 1340 1209 600"><defs><radialGradient id="hg1"><stop offset="0" stop-color="#0000a0"/><stop offset="0.55" stop-color="#000088" stop-opacity="0.9"/><stop offset="1" stop-color="#000050" stop-opacity="0"/></radialGradient><marker id="hm1" markerUnits="userSpaceOnUse" markerWidth="1" markerHeight="10" viewBox="-0.5 -5 1 10" overflow="visible"><ellipse rx="0.4" ry="5.6" fill="url(#hg1)"/></marker><radialGradient id="hg2"><stop offset="0" stop-color="#0000f0"/><stop offset="0.5" stop-color="#0000d0" stop-opacity="0.95"/><stop offset="0.8" stop-color="#000090" stop-opacity="0.6"/><stop offset="1" stop-color="#000060" stop-opacity="0"/></radialGradient><marker id="hm2" markerUnits="userSpaceOnUse" markerWidth="1" markerHeight="10" viewBox="-0.5 -5 1 10" overflow="visible"><ellipse rx="0.4" ry="5.6" fill="url(#hg2)"/></marker><radialGradient id="hg3"><stop offset="0" stop-color="#0058ff"/><stop offset="0.45" stop-color="#0020ff"/><stop offset="0.78" stop-color="#0000c0" stop-opacity="0.7"/><stop offset="1" stop-color="#000080" stop-opacity="0"/></radialGradient><marker id="hm3" markerUnits="userSpaceOnUse" markerWidth="1" markerHeight="10" viewBox="-0.5 -5 1 10" overflow="visible"><ellipse rx="0.4" ry="5.6" fill="url(#hg3)"/></marker><radialGradient id="hg4"><stop offset="0" stop-color="#00c0ff"/><stop offset="0.45" stop-color="#0070ff"/><stop offset="0.78" stop-color="#0010e0" stop-opacity="0.75"/><stop offset="1" stop-color="#0000a0" stop-opacity="0"/></radialGradient><marker id="hm4" markerUnits="userSpaceOnUse" markerWidth="1" markerHeight="10" viewBox="-0.5 -5 1 10" overflow="visible"><ellipse rx="0.4" ry="5.6" fill="url(#hg4)"/></marker><radialGradient id="hg5"><stop offset="0" stop-color="#a0f8ff"/><stop offset="0.42" stop-color="#20d0ff"/><stop offset="0.75" stop-color="#0040ff" stop-opacity="0.8"/><stop offset="1" stop-color="#0000b0" stop-opacity="0"/></radialGradient><marker id="hm5" markerUnits="userSpaceOnUse" markerWidth="1" markerHeight="10" viewBox="-0.5 -5 1 10" overflow="visible"><ellipse rx="0.4" ry="5.6" fill="url(#hg5)"/></marker><radialGradient id="hg6"><stop offset="0" stop-color="#f4ffff"/><stop offset="0.42" stop-color="#90f4ff"/><stop offset="0.72" stop-color="#0090ff" stop-opacity="0.85"/><stop offset="1" stop-color="#0010c0" stop-opacity="0"/></radialGradient><marker id="hm6" markerUnits="userSpaceOnUse" markerWidth="1" markerHeight="10" viewBox="-0.5 -5 1 10" overflow="visible"><ellipse rx="0.4" ry="5.6" fill="url(#hg6)"/></marker><radialGradient id="hg7"><stop offset="0" stop-color="#ffffa8"/><stop offset="0.4" stop-color="#f0ffd0"/><stop offset="0.7" stop-color="#40d0ff" stop-opacity="0.9"/><stop offset="1" stop-color="#0020d0" stop-opacity="0"/></radialGradient><marker id="hm7" markerUnits="userSpaceOnUse" markerWidth="1" markerHeight="10" viewBox="-0.5 -5 1 10" overflow="visible"><ellipse rx="0.4" ry="5.6" fill="url(#hg7)"/></marker><radialGradient id="hg8"><stop offset="0" stop-color="#f08020"/><stop offset="0.3" stop-color="#ffd850"/><stop offset="0.6" stop-color="#e8ffd0"/><stop offset="0.82" stop-color="#20a0ff" stop-opacity="0.7"/><stop offset="1" stop-color="#0020d0" stop-opacity="0"/></radialGradient><marker id="hm8" markerUnits="userSpaceOnUse" markerWidth="1" markerHeight="10" viewBox="-0.5 -5 1 10" overflow="visible"><ellipse rx="0.4" ry="5.6" fill="url(#hg8)"/></marker><radialGradient id="hg9"><stop offset="0" stop-color="#e82010"/><stop offset="0.4" stop-color="#ff9020"/><stop offset="0.65" stop-color="#ffff60" stop-opacity="0.95"/><stop offset="0.85" stop-color="#40e0ff" stop-opacity="0.6"/><stop offset="1" stop-color="#0020d0" stop-opacity="0"/></radialGradient><marker id="hm9" markerUnits="userSpaceOnUse" markerWidth="1" markerHeight="10" viewBox="-0.5 -5 1 10" overflow="visible"><ellipse rx="0.4" ry="5.6" fill="url(#hg9)"/></marker></defs><rect x="12.3" y="1366.5" width="1111.8" height="563.4" fill="#000"/><rect x="12.30" y="1366.50" width="566.80" height="9.39" fill="#00000a"/><rect x="579.10" y="1366.50" width="545.00" height="9.39" fill="#00000a"/><rect x="12.30" y="1375.89" width="566.80" height="9.39" fill="#000048"/><rect x="579.10" y="1375.89" width="545.00" height="9.39" fill="#000052"/><rect x="12.30" y="1385.28" width="566.80" height="9.39" fill="#00000c"/><rect x="579.10" y="1385.28" width="545.00" height="9.39" fill="#000011"/><rect x="12.30" y="1394.67" width="566.80" height="9.39" fill="#00000a"/><rect x="579.10" y="1394.67" width="545.00" height="9.39" fill="#00000a"/><rect x="12.30" y="1404.06" width="566.80" height="9.39" fill="#000026"/><rect x="579.10" y="1404.06" width="545.00" height="9.39" fill="#00002b"/><rect x="12.30" y="1413.45" width="566.80" height="9.39" fill="#000018"/><rect x="579.10" y="1413.45" width="545.00" height="9.39" fill="#00001d"/><rect x="12.30" y="1422.84" width="566.80" height="9.39" fill="#000041"/><rect x="579.10" y="1422.84" width="545.00" height="9.39" fill="#00004a"/><rect x="12.30" y="1432.23" width="566.80" height="9.39" fill="#000082"/><rect x="579.10" y="1432.23" width="545.00" height="9.39" fill="#000082"/><rect x="12.30" y="1441.62" width="566.80" height="9.39" fill="#000082"/><rect x="579.10" y="1441.62" width="545.00" height="9.39" fill="#000082"/><rect x="12.30" y="1451.01" width="566.80" height="9.39" fill="#000024"/><rect x="579.10" y="1451.01" width="545.00" height="9.39" fill="#000024"/><rect x="12.30" y="1460.40" width="566.80" height="9.39" fill="#000037"/><rect x="579.10" y="1460.40" width="545.00" height="9.39" fill="#00003c"/><rect x="12.30" y="1469.79" width="566.80" height="9.39" fill="#000060"/><rect x="579.10" y="1469.79" width="545.00" height="9.39" fill="#000065"/><rect x="12.30" y="1479.18" width="566.80" height="9.39" fill="#000082"/><rect x="579.10" y="1479.18" width="545.00" height="9.39" fill="#000082"/><rect x="12.30" y="1488.57" width="566.80" height="9.39" fill="#00003e"/><rect x="579.10" y="1488.57" width="545.00" height="9.39" fill="#000043"/><rect x="12.30" y="1497.96" width="566.80" height="9.39" fill="#000082"/><rect x="579.10" y="1497.96" width="545.00" height="9.39" fill="#000082"/><rect x="12.30" y="1507.35" width="566.80" height="9.39" fill="#00004f"/><rect x="579.10" y="1507.35" width="545.00" height="9.39" fill="#000056"/><rect x="12.30" y="1516.74" width="566.80" height="9.39" fill="#00000a"/><rect x="579.10" y="1516.74" width="545.00" height="9.39" fill="#00000e"/><rect x="12.30" y="1526.13" width="566.80" height="9.39" fill="#000016"/><rect x="579.10" y="1526.13" width="545.00" height="9.39" fill="#00001a"/><rect x="12.30" y="1535.52" width="566.80" height="9.39" fill="#000043"/><rect x="579.10" y="1535.52" width="545.00" height="9.39" fill="#00004a"/><rect x="12.30" y="1544.91" width="566.80" height="9.39" fill="#000082"/><rect x="579.10" y="1544.91" width="545.00" height="9.39" fill="#000082"/><rect x="12.30" y="1554.30" width="566.80" height="9.39" fill="#000078"/><rect x="579.10" y="1554.30" width="545.00" height="9.39" fill="#00007d"/><rect x="12.30" y="1563.69" width="566.80" height="9.39" fill="#00000e"/><rect x="579.10" y="1563.69" width="545.00" height="9.39" fill="#000013"/><rect x="12.30" y="1573.08" width="566.80" height="9.39" fill="#00001f"/><rect x="579.10" y="1573.08" width="545.00" height="9.39" fill="#000024"/><rect x="12.30" y="1582.47" width="566.80" height="9.39" fill="#00001f"/><rect x="579.10" y="1582.47" width="545.00" height="9.39" fill="#000024"/><rect x="12.30" y="1591.86" width="566.80" height="9.39" fill="#00004a"/><rect x="579.10" y="1591.86" width="545.00" height="9.39" fill="#000048"/><rect x="12.30" y="1601.25" width="566.80" height="9.39" fill="#000018"/><rect x="579.10" y="1601.25" width="545.00" height="9.39" fill="#000018"/><rect x="12.30" y="1610.64" width="566.80" height="9.39" fill="#000046"/><rect x="579.10" y="1610.64" width="545.00" height="9.39" fill="#00004f"/><rect x="12.30" y="1620.03" width="566.80" height="9.39" fill="#000059"/><rect x="579.10" y="1620.03" width="545.00" height="9.39" fill="#000060"/><rect x="12.30" y="1629.42" width="566.80" height="9.39" fill="#000022"/><rect x="579.10" y="1629.42" width="545.00" height="9.39" fill="#000035"/><rect x="12.30" y="1638.81" width="566.80" height="9.39" fill="#00000c"/><rect x="579.10" y="1638.81" width="545.00" height="9.39" fill="#000013"/><rect x="12.30" y="1648.20" width="566.80" height="9.39" fill="#0000a8"/><rect x="579.10" y="1648.20" width="545.00" height="9.39" fill="#0000a8"/><rect x="12.30" y="1657.59" width="566.80" height="9.39" fill="#000054"/><rect x="579.10" y="1657.59" width="545.00" height="9.39" fill="#00005e"/><rect x="12.30" y="1666.98" width="566.80" height="9.39" fill="#00000a"/><rect x="579.10" y="1666.98" width="545.00" height="9.39" fill="#00000a"/><rect x="12.30" y="1676.37" width="566.80" height="9.39" fill="#00000a"/><rect x="579.10" y="1676.37" width="545.00" height="9.39" fill="#00000a"/><rect x="12.30" y="1685.76" width="566.80" height="9.39" fill="#0000a8"/><rect x="579.10" y="1685.76" width="545.00" height="9.39" fill="#0000a8"/><rect x="12.30" y="1695.15" width="566.80" height="9.39" fill="#00000a"/><rect x="579.10" y="1695.15" width="545.00" height="9.39" fill="#00000a"/><rect x="12.30" y="1704.54" width="566.80" height="9.39" fill="#00000a"/><rect x="579.10" y="1704.54" width="545.00" height="9.39" fill="#00000a"/><rect x="12.30" y="1713.93" width="566.80" height="9.39" fill="#00000a"/><rect x="579.10" y="1713.93" width="545.00" height="9.39" fill="#00000a"/><rect x="12.30" y="1723.32" width="566.80" height="9.39" fill="#00000c"/><rect x="579.10" y="1723.32" width="545.00" height="9.39" fill="#00000c"/><rect x="12.30" y="1732.71" width="566.80" height="9.39" fill="#000026"/><rect x="579.10" y="1732.71" width="545.00" height="9.39" fill="#000026"/><rect x="12.30" y="1742.10" width="566.80" height="9.39" fill="#00000a"/><rect x="579.10" y="1742.10" width="545.00" height="9.39" fill="#00000a"/><rect x="12.30" y="1751.49" width="566.80" height="9.39" fill="#00000a"/><rect x="579.10" y="1751.49" width="545.00" height="9.39" fill="#00000a"/><rect x="12.30" y="1760.88" width="566.80" height="9.39" fill="#00000a"/><rect x="579.10" y="1760.88" width="545.00" height="9.39" fill="#00000a"/><rect x="12.30" y="1770.27" width="566.80" height="9.39" fill="#00003a"/><rect x="579.10" y="1770.27" width="545.00" height="9.39" fill="#00003e"/><rect x="12.30" y="1779.66" width="566.80" height="9.39" fill="#000018"/><rect x="579.10" y="1779.66" width="545.00" height="9.39" fill="#000018"/><rect x="12.30" y="1789.05" width="566.80" height="9.39" fill="#000030"/><rect x="579.10" y="1789.05" width="545.00" height="9.39" fill="#000035"/><rect x="12.30" y="1798.44" width="566.80" height="9.39" fill="#00001d"/><rect x="579.10" y="1798.44" width="545.00" height="9.39" fill="#00001d"/><rect x="12.30" y="1807.83" width="566.80" height="9.39" fill="#00000a"/><rect x="579.10" y="1807.83" width="545.00" height="9.39" fill="#00000a"/><rect x="12.30" y="1817.22" width="566.80" height="9.39" fill="#000018"/><rect x="579.10" y="1817.22" width="545.00" height="9.39" fill="#000018"/><rect x="12.30" y="1826.61" width="566.80" height="9.39" fill="#000048"/><rect x="579.10" y="1826.61" width="545.00" height="9.39" fill="#00003c"/><rect x="12.30" y="1836.00" width="566.80" height="9.39" fill="#000018"/><rect x="579.10" y="1836.00" width="545.00" height="9.39" fill="#000018"/><rect x="12.30" y="1845.39" width="566.80" height="9.39" fill="#00000a"/><rect x="579.10" y="1845.39" width="545.00" height="9.39" fill="#00000a"/><rect x="12.30" y="1854.78" width="566.80" height="9.39" fill="#00000c"/><rect x="579.10" y="1854.78" width="545.00" height="9.39" fill="#000016"/><rect x="12.30" y="1864.17" width="566.80" height="9.39" fill="#00000c"/><rect x="579.10" y="1864.17" width="545.00" height="9.39" fill="#000016"/><rect x="12.30" y="1873.56" width="566.80" height="9.39" fill="#000060"/><rect x="579.10" y="1873.56" width="545.00" height="9.39" fill="#000060"/><rect x="12.30" y="1882.95" width="566.80" height="9.39" fill="#000056"/><rect x="579.10" y="1882.95" width="545.00" height="9.39" fill="#000059"/><rect x="12.30" y="1892.34" width="566.80" height="9.39" fill="#000018"/><rect x="579.10" y="1892.34" width="545.00" height="9.39" fill="#000018"/><rect x="12.30" y="1901.73" width="566.80" height="9.39" fill="#00000a"/><rect x="579.10" y="1901.73" width="545.00" height="9.39" fill="#00001f"/><rect x="12.30" y="1911.12" width="566.80" height="9.39" fill="#00000a"/><rect x="579.10" y="1911.12" width="545.00" height="9.39" fill="#00000a"/><rect x="12.30" y="1920.51" width="566.80" height="9.39" fill="#00003c"/><rect x="579.10" y="1920.51" width="545.00" height="9.39" fill="#00003e"/><rect x="339.40" y="1497.96" width="5.2" height="431.94" fill="#000004"/><rect x="671.85" y="1507.35" width="5.2" height="150.24" fill="#000004"/><rect x="813.55" y="1507.35" width="5.2" height="150.24" fill="#000004"/><rect x="137.75" y="1648.20" width="5.2" height="140.85" fill="#000004"/><rect x="224.95" y="1695.15" width="5.2" height="234.75" fill="#000004"/><filter id="hbl" x="-1%" y="-2%" width="102%" height="104%"><feGaussianBlur stdDeviation="0.7"/></filter><g filter="url(#hbl)"><g transform="translate(15.0,0) scale(5.45,1)"><path d="M15 1371.2H26H29H36H38H39H43H48H49H51H58H82H83H87H89H92H93H97H105H107H110H112H113H117H129H137H140H142H143H145H150H171H172H184H185H188H190H191H194H195H202" fill="none" marker-start="url(#hm1)" marker-mid="url(#hm1)" marker-end="url(#hm1)"/><path d="M6 1371.2H28H37H40H45H54H63H65H98H109H125H134H146H161H164H167H179H193" fill="none" marker-start="url(#hm2)" marker-mid="url(#hm2)" marker-end="url(#hm2)"/><path d="M8 1371.2H60H151H173H182" fill="none" marker-start="url(#hm3)" marker-mid="url(#hm3)" marker-end="url(#hm3)"/><path d="M18 1371.2H20H44H59H73H74H108H163" fill="none" marker-start="url(#hm4)" marker-mid="url(#hm4)" marker-end="url(#hm4)"/><path d="M0 1371.2H13H30H57H61H115H127" fill="none" marker-start="url(#hm5)" marker-mid="url(#hm5)" marker-end="url(#hm5)"/><path d="M11 1380.6H14H25H27H33H54H61H73H105H110H117H119H188H194" fill="none" marker-start="url(#hm1)" marker-mid="url(#hm1)" marker-end="url(#hm1)"/><path d="M12 1380.6H15H16H20H22H24H41H49H58H68H71H83H88H98H111H116H144H156H161H165H166" fill="none" marker-start="url(#hm2)" marker-mid="url(#hm2)" marker-end="url(#hm2)"/><path d="M1 1380.6H5H7H10H17H26H29H32H34H35H39H40H43H48H59H63H70H84H90H91H96H99H108H113H114H121H122H133H135H137H138H143H146H163H189H192H196H201" fill="none" marker-start="url(#hm3)" marker-mid="url(#hm3)" marker-end="url(#hm3)"/><path d="M4 1380.6H13H18H21H28H30H31H36H42H45H46H51H52H53H56H57H66H67H69H72H76H77H81H82H85H86H87H93H100H102H103H104H118H120H123H124H125H128H130H145H147H149H154H155H157H159H160H167H168H170H184H186H193H195H202" fill="none" marker-start="url(#hm4)" marker-mid="url(#hm4)" marker-end="url(#hm4)"/><path d="M0 1380.6H2H6H9H19H23H38H44H55H64H65H74H79H80H89H97H112H115H126H127H129H131H134H139H140H142H148H150H151H153H162H169H171H177H178H179H180H182H183H191H198H199" fill="none" marker-start="url(#hm5)" marker-mid="url(#hm5)" marker-end="url(#hm5)"/><path d="M50 1380.6H60H75H94H95H106H107H109H141H152H158H164H174H175H176H185H197H200H203" fill="none" marker-start="url(#hm6)" marker-mid="url(#hm6)" marker-end="url(#hm6)"/><path d="M37 1380.6H47H78H132H136H181H187" fill="none" marker-start="url(#hm7)" marker-mid="url(#hm7)" marker-end="url(#hm7)"/><path d="M92 1380.6H101H173H190" fill="none" marker-start="url(#hm8)" marker-mid="url(#hm8)" marker-end="url(#hm8)"/><path d="M3 1380.6" fill="none" marker-start="url(#hm9)" marker-mid="url(#hm9)" marker-end="url(#hm9)"/><path d="M1 1390.0H5H8H15H20H23H28H32H38H42H44H45H47H49H74H77H82H91H92H102H118H123H127H131H135H140H142H146H156H158H159H164H168H172H174H175H179H194H195H197H199" fill="none" marker-start="url(#hm1)" marker-mid="url(#hm1)" marker-end="url(#hm1)"/><path d="M2 1390.0H6H13H16H17H27H29H40H48H50H51H52H54H56H65H70H76H83H94H104H105H107H113H116H128H132H134H141H143H147H154H155H171H185H189H190H192H193H196H198H203" fill="none" marker-start="url(#hm2)" marker-mid="url(#hm2)" marker-end="url(#hm2)"/><path d="M30 1390.0H46H57H66H67H106H120H125H133H136H145H149H157H161H173H178H188H191" fill="none" marker-start="url(#hm3)" marker-mid="url(#hm3)" marker-end="url(#hm3)"/><path d="M0 1390.0H73H110H181" fill="none" marker-start="url(#hm4)" marker-mid="url(#hm4)" marker-end="url(#hm4)"/><path d="M22 1390.0" fill="none" marker-start="url(#hm5)" marker-mid="url(#hm5)" marker-end="url(#hm5)"/><path d="M202 1390.0" fill="none" marker-start="url(#hm6)" marker-mid="url(#hm6)" marker-end="url(#hm6)"/><path d="M1 1399.4H8H11H13H17H23H26H31H37H48H57H59H62H63H70H80H82H83H92H105H107H126H128H129H130H134H140H141H146H148H149H150H151H152H162H163H166H168H170H174H177H189H190H194H198" fill="none" marker-start="url(#hm1)" marker-mid="url(#hm1)" marker-end="url(#hm1)"/><path d="M30 1399.4H46H51H73H76H95H96H106H108H111H115H118H147H165H172H179H187H195H197H199" fill="none" marker-start="url(#hm2)" marker-mid="url(#hm2)" marker-end="url(#hm2)"/><path d="M153 1399.4H158H191H193" fill="none" marker-start="url(#hm3)" marker-mid="url(#hm3)" marker-end="url(#hm3)"/><path d="M192 1399.4" fill="none" marker-start="url(#hm4)" marker-mid="url(#hm4)" marker-end="url(#hm4)"/><path d="M0 1408.8H3H4H8H9H17H21H22H27H29H37H42H44H45H47H49H60H69H71H76H78H79H80H82H83H88H94H95H106H110H114H119H123H132H140H145H153H157H159H166H169H170H175H176H182H184H190H193H200" fill="none" marker-start="url(#hm1)" marker-mid="url(#hm1)" marker-end="url(#hm1)"/><path d="M1 1408.8H2H5H6H7H11H12H18H23H26H30H33H34H35H38H40H46H51H52H57H58H63H64H65H68H70H81H85H90H92H93H96H99H101H107H108H109H112H113H116H117H118H121H125H126H129H130H138H141H146H148H150H151H152H156H161H162H163H164H165H168H171H172H173H174H178H183H185H188H191H195H196H203" fill="none" marker-start="url(#hm2)" marker-mid="url(#hm2)" marker-end="url(#hm2)"/><path d="M16 1408.8H20H25H28H32H39H43H48H50H53H55H59H62H67H72H75H77H84H89H91H100H102H103H104H115H120H124H127H128H131H133H135H136H137H139H142H147H149H155H160H179H180H186H187H189H192H194H199H201H202" fill="none" marker-start="url(#hm3)" marker-mid="url(#hm3)" marker-end="url(#hm3)"/><path d="M14 1408.8H15H61H98H177H197H198" fill="none" marker-start="url(#hm4)" marker-mid="url(#hm4)" marker-end="url(#hm4)"/><path d="M0 1418.1H1H4H6H7H10H12H14H16H18H20H23H30H33H36H38H39H46H47H48H49H50H51H53H59H63H74H76H82H86H96H100H107H110H114H117H120H129H138H139H140H145H147H148H150H151H159H162H167H171H174H177H183H188H197H198" fill="none" marker-start="url(#hm1)" marker-mid="url(#hm1)" marker-end="url(#hm1)"/><path d="M3 1418.1H5H8H17H19H21H22H29H34H40H43H66H70H73H78H79H80H84H85H89H94H97H99H101H102H106H111H112H115H118H122H123H124H126H128H130H131H132H133H135H137H143H144H146H149H155H157H161H163H169H176H186H195H196H200" fill="none" marker-start="url(#hm2)" marker-mid="url(#hm2)" marker-end="url(#hm2)"/><path d="M2 1418.1H9H31H32H42H44H52H55H58H75H83H88H91H108H121H141H152H153H156H164H172H181H187H190H201" fill="none" marker-start="url(#hm3)" marker-mid="url(#hm3)" marker-end="url(#hm3)"/><path d="M15 1418.1H28H35H56H92H103H105H179H184H185H203" fill="none" marker-start="url(#hm4)" marker-mid="url(#hm4)" marker-end="url(#hm4)"/><path d="M8 1427.5H21H29H37H73H75H99H125H149H157H163H166" fill="none" marker-start="url(#hm1)" marker-mid="url(#hm1)" marker-end="url(#hm1)"/><path d="M9 1427.5H12H17H25H34H42H46H54H56H58H62H70H82H85H93H95H96H103H105H110H126H128H146H151H153H199" fill="none" marker-start="url(#hm2)" marker-mid="url(#hm2)" marker-end="url(#hm2)"/><path d="M1 1427.5H2H7H10H19H20H26H40H50H52H53H60H65H68H69H74H80H83H86H89H92H107H108H111H114H117H119H122H132H134H140H142H143H144H155H160H167H168H169H171H172H178H188H190H193H200H201" fill="none" marker-start="url(#hm3)" marker-mid="url(#hm3)" marker-end="url(#hm3)"/><path d="M5 1427.5H6H13H14H15H16H24H31H39H41H43H47H48H55H67H76H78H79H87H94H100H101H102H106H109H112H118H120H129H136H137H138H141H147H148H154H161H173H175H179H185H186H191H192H194H197" fill="none" marker-start="url(#hm4)" marker-mid="url(#hm4)" marker-end="url(#hm4)"/><path d="M3 1427.5H11H18H22H23H30H32H33H35H44H45H51H59H63H66H72H84H97H104H115H121H123H130H131H135H139H145H150H158H159H162H164H165H174H177H180H183H184H187H195H196H198H203" fill="none" marker-start="url(#hm5)" marker-mid="url(#hm5)" marker-end="url(#hm5)"/><path d="M0 1427.5H4H36H49H57H77H91H98H113H116H133H152H170H176H202" fill="none" marker-start="url(#hm6)" marker-mid="url(#hm6)" marker-end="url(#hm6)"/><path d="M71 1427.5H127H156H182" fill="none" marker-start="url(#hm7)" marker-mid="url(#hm7)" marker-end="url(#hm7)"/><path d="M17 1436.9H19H58H92H123" fill="none" marker-start="url(#hm3)" marker-mid="url(#hm3)" marker-end="url(#hm3)"/><path d="M12 1436.9H14H27H29H59H71H81H83H105H156" fill="none" marker-start="url(#hm4)" marker-mid="url(#hm4)" marker-end="url(#hm4)"/><path d="M10 1436.9H13H15H16H35H39H43H55H64H76H91H100H117H126H137H149H155H161H167H190H191" fill="none" marker-start="url(#hm5)" marker-mid="url(#hm5)" marker-end="url(#hm5)"/><path d="M6 1436.9H8H24H26H31H34H38H41H52H57H66H69H75H79H89H90H93H102H108H109H110H111H113H114H115H124H125H130H131H139H143H146H147H150H154H164H166H168H169H176H178H185H188H194H197H198H203" fill="none" marker-start="url(#hm6)" marker-mid="url(#hm6)" marker-end="url(#hm6)"/><path d="M0 1436.9H1H2H7H25H28H33H36H42H45H47H50H51H56H61H62H63H65H68H72H73H74H77H80H82H84H85H86H94H97H99H101H103H106H107H116H119H120H121H129H134H136H138H142H145H152H159H162H171H173H175H181H183H184H186H187H189H193H196H199H202" fill="none" marker-start="url(#hm7)" marker-mid="url(#hm7)" marker-end="url(#hm7)"/><path d="M3 1436.9H4H5H9H11H18H20H21H22H30H32H37H40H48H49H53H60H67H70H78H87H88H96H104H112H118H132H133H140H141H151H153H157H158H160H165H170H172H174H180H192H195H200H201" fill="none" marker-start="url(#hm8)" marker-mid="url(#hm8)" marker-end="url(#hm8)"/><path d="M23 1436.9H44H46H54H95H98H122H127H128H135H144H148H163H177H179H182" fill="none" marker-start="url(#hm9)" marker-mid="url(#hm9)" marker-end="url(#hm9)"/><path d="M147 1446.3" fill="none" marker-start="url(#hm3)" marker-mid="url(#hm3)" marker-end="url(#hm3)"/><path d="M29 1446.3H64H76H82H133" fill="none" marker-start="url(#hm4)" marker-mid="url(#hm4)" marker-end="url(#hm4)"/><path d="M1 1446.3H20H22H46H52H53H59H61H65H87H102H103H122H132H141H159H169H188H192H197" fill="none" marker-start="url(#hm5)" marker-mid="url(#hm5)" marker-end="url(#hm5)"/><path d="M24 1446.3H88H105H165" fill="none" marker-start="url(#hm6)" marker-mid="url(#hm6)" marker-end="url(#hm6)"/><path d="M0 1446.3H9H16H18H35H36H39H45H47H54H58H67H69H71H72H77H78H85H96H99H100H111H112H119H124H127H131H136H140H145H148H149H162H168H173H178H179H180H187H193H198H201H202" fill="none" marker-start="url(#hm7)" marker-mid="url(#hm7)" marker-end="url(#hm7)"/><path d="M2 1446.3H3H5H6H8H10H11H12H13H14H17H19H21H23H25H26H27H28H31H32H33H34H37H38H40H41H42H43H44H48H49H50H51H55H56H57H60H62H63H66H68H73H74H75H84H89H90H91H92H93H94H95H97H101H104H106H107H108H109H110H113H114H116H117H120H121H123H125H126H128H129H130H134H135H137H139H142H143H144H150H151H153H155H156H157H158H160H161H163H164H166H170H171H172H174H175H177H181H183H184H190H191H195H196H199H200H203" fill="none" marker-start="url(#hm8)" marker-mid="url(#hm8)" marker-end="url(#hm8)"/><path d="M4 1446.3H7H15H30H70H79H80H81H83H86H98H115H118H138H146H152H154H167H176H182H185H186H189H194" fill="none" marker-start="url(#hm9)" marker-mid="url(#hm9)" marker-end="url(#hm9)"/><path d="M0 1455.7H9H17H18H22H26H30H36H47H78H80H91H95H98H104H107H111H114H121H122H126H132H148H154H159H161H164H173H179H189H191H193H199H202" fill="none" marker-start="url(#hm1)" marker-mid="url(#hm1)" marker-end="url(#hm1)"/><path d="M4 1455.7H6H7H10H11H15H16H23H25H27H31H32H34H35H38H57H59H60H62H76H81H87H93H96H100H119H130H133H137H140H142H145H147H150H163H169H175H177H180H182H184H187H195H196H197H203" fill="none" marker-start="url(#hm2)" marker-mid="url(#hm2)" marker-end="url(#hm2)"/><path d="M3 1455.7H8H49H51H54H55H65H69H71H72H73H74H82H84H86H115H118H124H125H156H158H167H190" fill="none" marker-start="url(#hm3)" marker-mid="url(#hm3)" marker-end="url(#hm3)"/><path d="M20 1455.7H39H40H43H48H50H68H88H97H99H108H109H127H129H144H157H183H198H200" fill="none" marker-start="url(#hm4)" marker-mid="url(#hm4)" marker-end="url(#hm4)"/><path d="M1 1455.7H13H21H33H42H45H56H66H101H103H110H171H185" fill="none" marker-start="url(#hm5)" marker-mid="url(#hm5)" marker-end="url(#hm5)"/><path d="M162 1455.7H181" fill="none" marker-start="url(#hm6)" marker-mid="url(#hm6)" marker-end="url(#hm6)"/><path d="M11 1465.1H19H29H38H46H52H61H69H73H82H94H98H107H118H127H141H146H183H189H192H199" fill="none" marker-start="url(#hm1)" marker-mid="url(#hm1)" marker-end="url(#hm1)"/><path d="M4 1465.1H6H7H10H15H24H27H28H30H36H39H56H59H66H70H74H77H83H87H102H103H104H108H110H112H123H131H140H151H158H167H172H180H181H188H190H193H195H201H202" fill="none" marker-start="url(#hm2)" marker-mid="url(#hm2)" marker-end="url(#hm2)"/><path d="M2 1465.1H3H5H9H14H17H18H20H21H26H31H33H34H35H37H40H42H43H47H48H50H53H54H57H58H62H64H65H67H68H78H79H81H90H97H101H109H111H114H115H116H120H126H129H134H136H139H147H159H164H174H178H179H182H184H191H198H200" fill="none" marker-start="url(#hm3)" marker-mid="url(#hm3)" marker-end="url(#hm3)"/><path d="M0 1465.1H1H8H12H13H22H25H32H41H45H55H71H72H75H76H80H84H85H86H88H89H93H95H96H100H105H106H117H119H124H128H130H132H135H137H138H142H143H145H148H149H150H153H154H155H160H162H163H165H169H173H177H185H186H194H196H203" fill="none" marker-start="url(#hm4)" marker-mid="url(#hm4)" marker-end="url(#hm4)"/><path d="M16 1465.1H23H51H91H92H113H121H122H133H152H157H161H170H175H197" fill="none" marker-start="url(#hm5)" marker-mid="url(#hm5)" marker-end="url(#hm5)"/><path d="M60 1465.1H156H168" fill="none" marker-start="url(#hm6)" marker-mid="url(#hm6)" marker-end="url(#hm6)"/><path d="M6 1474.5H21H24H46H72H93H103H108H146H159" fill="none" marker-start="url(#hm1)" marker-mid="url(#hm1)" marker-end="url(#hm1)"/><path d="M8 1474.5H18H44H56H104H115H137H147H167H200" fill="none" marker-start="url(#hm2)" marker-mid="url(#hm2)" marker-end="url(#hm2)"/><path d="M0 1474.5H13H23H26H27H32H36H79H101H106H111H122H126H144H158H177H178H190H191H192H195" fill="none" marker-start="url(#hm3)" marker-mid="url(#hm3)" marker-end="url(#hm3)"/><path d="M7 1474.5H9H19H33H34H35H41H42H47H48H50H57H58H63H73H76H86H87H89H92H94H96H112H114H116H124H129H135H136H138H148H149H152H185" fill="none" marker-start="url(#hm4)" marker-mid="url(#hm4)" marker-end="url(#hm4)"/><path d="M14 1474.5H15H16H17H22H25H28H31H40H43H45H49H51H52H60H64H65H66H67H68H71H77H78H80H81H82H83H88H95H97H98H99H107H109H119H121H125H127H128H132H139H142H143H151H154H156H161H162H165H175H179H181H188H198H199H202H203" fill="none" marker-start="url(#hm5)" marker-mid="url(#hm5)" marker-end="url(#hm5)"/><path d="M1 1474.5H3H10H12H39H54H59H61H75H90H91H100H102H105H117H118H123H130H140H155H160H163H164H168H169H170H171H172H173H176H180H182H184H186H187H189H197" fill="none" marker-start="url(#hm6)" marker-mid="url(#hm6)" marker-end="url(#hm6)"/><path d="M2 1474.5H4H5H30H37H38H53H55H62H74H85H110H113H120H131H133H134H141H145H157H166H193H196H201" fill="none" marker-start="url(#hm7)" marker-mid="url(#hm7)" marker-end="url(#hm7)"/><path d="M20 1474.5H29H84H150H194" fill="none" marker-start="url(#hm8)" marker-mid="url(#hm8)" marker-end="url(#hm8)"/><path d="M41 1483.9H92" fill="none" marker-start="url(#hm3)" marker-mid="url(#hm3)" marker-end="url(#hm3)"/><path d="M51 1483.9H58H89H96H102H117H137H153H185" fill="none" marker-start="url(#hm4)" marker-mid="url(#hm4)" marker-end="url(#hm4)"/><path d="M11 1483.9H14H49H73H106H192" fill="none" marker-start="url(#hm5)" marker-mid="url(#hm5)" marker-end="url(#hm5)"/><path d="M2 1483.9H8H20H46H53H56H65H75H76H77H120H135H149H151H152H154H167H168H171H187H194H200" fill="none" marker-start="url(#hm6)" marker-mid="url(#hm6)" marker-end="url(#hm6)"/><path d="M0 1483.9H1H3H4H10H12H16H19H21H31H33H37H38H39H43H44H48H52H54H57H60H61H66H72H74H78H81H82H83H88H90H91H95H98H99H100H101H103H105H109H111H113H116H123H124H125H126H128H129H130H136H143H145H147H148H157H159H161H165H169H170H175H176H177H180H181H182H186H188H191H193H196H197H201H203" fill="none" marker-start="url(#hm7)" marker-mid="url(#hm7)" marker-end="url(#hm7)"/><path d="M5 1483.9H6H7H9H13H15H17H18H22H23H24H25H26H27H28H29H34H35H40H42H45H47H55H64H68H69H71H79H85H86H87H93H94H104H107H108H110H112H114H115H118H119H121H122H127H131H132H133H134H138H139H140H141H144H150H155H158H160H162H164H166H173H174H178H183H184H189H190H195H198H199H202" fill="none" marker-start="url(#hm8)" marker-mid="url(#hm8)" marker-end="url(#hm8)"/><path d="M30 1483.9H32H36H50H59H62H63H67H70H80H84H97H142H146H156H163H172H179" fill="none" marker-start="url(#hm9)" marker-mid="url(#hm9)" marker-end="url(#hm9)"/><path d="M15 1493.3H40H44H132H174H191" fill="none" marker-start="url(#hm1)" marker-mid="url(#hm1)" marker-end="url(#hm1)"/><path d="M7 1493.3H8H16H20H23H34H36H42H47H49H51H53H62H63H70H72H73H75H84H86H88H99H106H112H115H122H126H129H136H138H143H150H155H158H168H186H200H202H203" fill="none" marker-start="url(#hm2)" marker-mid="url(#hm2)" marker-end="url(#hm2)"/><path d="M0 1493.3H3H6H10H14H18H19H21H27H30H31H35H38H41H43H50H52H55H56H57H58H59H60H64H65H67H71H79H81H82H94H104H105H107H116H120H123H133H139H141H144H146H147H151H153H156H161H163H165H166H172H173H176H177H178H181H183H184H187H188H190H193H197H198" fill="none" marker-start="url(#hm3)" marker-mid="url(#hm3)" marker-end="url(#hm3)"/><path d="M5 1493.3H9H11H17H24H32H33H37H39H45H46H66H74H77H80H85H91H93H95H96H98H100H101H102H117H121H124H128H130H131H135H142H148H149H157H159H167H169H175H179H180H192H196H199H201" fill="none" marker-start="url(#hm4)" marker-mid="url(#hm4)" marker-end="url(#hm4)"/><path d="M13 1493.3H25H28H29H54H61H68H69H76H78H83H87H90H92H97H108H109H110H113H114H118H125H127H134H140H145H152H154H160H162H164H171H182H185H195" fill="none" marker-start="url(#hm5)" marker-mid="url(#hm5)" marker-end="url(#hm5)"/><path d="M2 1493.3H26H48H89H103H137H170H194" fill="none" marker-start="url(#hm6)" marker-mid="url(#hm6)" marker-end="url(#hm6)"/><path d="M1 1493.3" fill="none" marker-start="url(#hm7)" marker-mid="url(#hm7)" marker-end="url(#hm7)"/><path d="M60 1502.7" fill="none" marker-start="url(#hm1)" marker-mid="url(#hm1)" marker-end="url(#hm1)"/><path d="M26 1502.7H52H179" fill="none" marker-start="url(#hm2)" marker-mid="url(#hm2)" marker-end="url(#hm2)"/><path d="M23 1502.7H30H45H61H64H67H120H128H129H159H183" fill="none" marker-start="url(#hm3)" marker-mid="url(#hm3)" marker-end="url(#hm3)"/><path d="M24 1502.7H81H87H122H134H144H168H172H176H178" fill="none" marker-start="url(#hm4)" marker-mid="url(#hm4)" marker-end="url(#hm4)"/><path d="M4 1502.7H9H18H33H36H47H68H90H95H96H98H100H102H123H138H141H143H150H163H181H188H191H193H194H199" fill="none" marker-start="url(#hm5)" marker-mid="url(#hm5)" marker-end="url(#hm5)"/><path d="M0 1502.7H6H7H10H12H13H14H15H16H17H19H20H21H31H32H34H35H39H40H43H44H46H48H49H54H56H59H65H66H72H75H77H82H85H86H88H89H93H99H103H108H109H114H119H121H133H137H139H142H145H149H151H152H153H158H160H161H162H164H170H171H174H175H184H190H196H197H198H201H202" fill="none" marker-start="url(#hm6)" marker-mid="url(#hm6)" marker-end="url(#hm6)"/><path d="M2 1502.7H3H8H11H22H25H29H37H38H41H42H50H51H53H55H57H62H63H70H73H76H79H80H83H84H91H92H94H101H104H110H111H112H113H115H116H124H125H126H127H130H131H132H135H136H146H147H148H154H155H156H157H165H166H167H169H177H180H182H185H187H192H195H200H203" fill="none" marker-start="url(#hm7)" marker-mid="url(#hm7)" marker-end="url(#hm7)"/><path d="M1 1502.7H5H27H28H58H69H71H74H78H97H105H106H107H117H118H140H173H186H189" fill="none" marker-start="url(#hm8)" marker-mid="url(#hm8)" marker-end="url(#hm8)"/><path d="M11 1512.0H30H52H53H100H123H126H141H144H168H178H201" fill="none" marker-start="url(#hm1)" marker-mid="url(#hm1)" marker-end="url(#hm1)"/><path d="M0 1512.0H1H13H55H61H64H72H78H102H120H122H156H157H169H182H185H190" fill="none" marker-start="url(#hm2)" marker-mid="url(#hm2)" marker-end="url(#hm2)"/><path d="M2 1512.0H6H10H12H17H23H40H45H47H74H84H87H89H90H92H108H124H125H134H137H138H143H146H148H150H151H155H172H179H180H197" fill="none" marker-start="url(#hm3)" marker-mid="url(#hm3)" marker-end="url(#hm3)"/><path d="M4 1512.0H5H7H15H18H19H24H25H27H28H32H34H35H37H43H49H54H58H63H70H76H80H81H85H88H101H109H116H118H129H130H132H140H142H173H174H181H195H196H199" fill="none" marker-start="url(#hm4)" marker-mid="url(#hm4)" marker-end="url(#hm4)"/><path d="M3 1512.0H20H21H22H29H31H42H57H59H62H65H66H68H69H73H82H93H98H99H103H106H112H115H133H135H145H153H154H158H160H163H164H165H170H176H183H186H187H188H191H193H198H202" fill="none" marker-start="url(#hm5)" marker-mid="url(#hm5)" marker-end="url(#hm5)"/><path d="M14 1512.0H26H33H36H38H44H46H50H56H75H77H86H91H96H107H111H114H119H127H128H131H136H139H149H167H171H175H189H192H194H200" fill="none" marker-start="url(#hm6)" marker-mid="url(#hm6)" marker-end="url(#hm6)"/><path d="M16 1512.0H51H67H71H79H83H95H97H152H159H162H177H203" fill="none" marker-start="url(#hm7)" marker-mid="url(#hm7)" marker-end="url(#hm7)"/><path d="M8 1512.0H104H105H110H113" fill="none" marker-start="url(#hm8)" marker-mid="url(#hm8)" marker-end="url(#hm8)"/><path d="M39 1512.0H184" fill="none" marker-start="url(#hm9)" marker-mid="url(#hm9)" marker-end="url(#hm9)"/><path d="M2 1521.4H5H15H21H22H27H28H32H35H39H40H42H46H56H66H71H76H81H89H92H98H99H104H105H110H112H114H119H122H124H125H131H133H135H145H146H149H150H152H163H165H170H175H178H179H184H185H187H189H190H195H196H197H201H202" fill="none" marker-start="url(#hm1)" marker-mid="url(#hm1)" marker-end="url(#hm1)"/><path d="M3 1521.4H7H11H12H16H37H41H43H44H53H58H69H80H91H94H100H106H107H108H116H120H128H134H137H154H159H160H169H172H176H177H186H198H199" fill="none" marker-start="url(#hm2)" marker-mid="url(#hm2)" marker-end="url(#hm2)"/><path d="M0 1521.4H13H73H75H88H118H136H162H164H188" fill="none" marker-start="url(#hm3)" marker-mid="url(#hm3)" marker-end="url(#hm3)"/><path d="M6 1521.4H24H126H156H171" fill="none" marker-start="url(#hm4)" marker-mid="url(#hm4)" marker-end="url(#hm4)"/><path d="M65 1521.4H183" fill="none" marker-start="url(#hm5)" marker-mid="url(#hm5)" marker-end="url(#hm5)"/><path d="M1 1530.8H3H6H8H11H14H23H25H36H38H42H47H49H57H62H66H71H76H77H79H82H88H89H90H95H98H99H109H119H125H127H132H136H141H149H150H154H156H164H165H168H179H183H195H199" fill="none" marker-start="url(#hm1)" marker-mid="url(#hm1)" marker-end="url(#hm1)"/><path d="M4 1530.8H7H16H18H27H30H46H48H53H69H72H75H84H85H101H102H104H107H110H111H114H116H124H128H130H134H143H144H151H158H162H169H170H174H175H178H181H182H184H185H186H188H189H190H192H203" fill="none" marker-start="url(#hm2)" marker-mid="url(#hm2)" marker-end="url(#hm2)"/><path d="M10 1530.8H19H24H26H35H41H58H63H67H70H83H86H91H96H108H117H123H131H133H142H159H173H191H198H202" fill="none" marker-start="url(#hm3)" marker-mid="url(#hm3)" marker-end="url(#hm3)"/><path d="M15 1530.8H29H33H56H73H74H113H137H153H176" fill="none" marker-start="url(#hm4)" marker-mid="url(#hm4)" marker-end="url(#hm4)"/><path d="M145 1530.8H194" fill="none" marker-start="url(#hm5)" marker-mid="url(#hm5)" marker-end="url(#hm5)"/><path d="M65 1530.8H201" fill="none" marker-start="url(#hm6)" marker-mid="url(#hm6)" marker-end="url(#hm6)"/><path d="M17 1540.2H18H27H46H61H75H90H159H162H176H196" fill="none" marker-start="url(#hm1)" marker-mid="url(#hm1)" marker-end="url(#hm1)"/><path d="M6 1540.2H14H30H33H48H67H68H85H87H89H95H119H121H131H137H144H167H169H172H180H189H192H202" fill="none" marker-start="url(#hm2)" marker-mid="url(#hm2)" marker-end="url(#hm2)"/><path d="M2 1540.2H4H11H16H20H21H26H31H34H41H45H47H51H55H56H63H64H65H70H78H81H83H86H99H100H101H107H112H115H117H122H129H130H135H136H139H142H145H146H149H150H151H152H164H173H179H185H193H195H199" fill="none" marker-start="url(#hm3)" marker-mid="url(#hm3)" marker-end="url(#hm3)"/><path d="M1 1540.2H7H8H12H13H19H24H25H28H37H44H49H50H52H59H62H66H71H72H73H74H76H77H79H80H82H96H97H106H108H109H113H116H118H123H124H125H126H127H132H140H156H161H163H168H171H175H183H187H200" fill="none" marker-start="url(#hm4)" marker-mid="url(#hm4)" marker-end="url(#hm4)"/><path d="M0 1540.2H5H9H10H22H23H35H36H40H42H57H84H88H93H94H102H104H120H133H143H153H155H160H170H182H188H197H198" fill="none" marker-start="url(#hm5)" marker-mid="url(#hm5)" marker-end="url(#hm5)"/><path d="M3 1540.2H39H43H54H58H69H98H105H110H111H114H128H134H138H141H148H154H165H174H178H181H184H186H190H191H194H201H203" fill="none" marker-start="url(#hm6)" marker-mid="url(#hm6)" marker-end="url(#hm6)"/><path d="M15 1540.2H32H91H177" fill="none" marker-start="url(#hm7)" marker-mid="url(#hm7)" marker-end="url(#hm7)"/><path d="M60 1549.6" fill="none" marker-start="url(#hm1)" marker-mid="url(#hm1)" marker-end="url(#hm1)"/><path d="M61 1549.6H119H121H147" fill="none" marker-start="url(#hm2)" marker-mid="url(#hm2)" marker-end="url(#hm2)"/><path d="M18 1549.6H22H26H95H144H151" fill="none" marker-start="url(#hm3)" marker-mid="url(#hm3)" marker-end="url(#hm3)"/><path d="M3 1549.6H38H43H58H72H76H78H122H149H159H162H166" fill="none" marker-start="url(#hm4)" marker-mid="url(#hm4)" marker-end="url(#hm4)"/><path d="M5 1549.6H7H8H20H35H36H50H55H65H66H102H154H160H161H173H181H186" fill="none" marker-start="url(#hm5)" marker-mid="url(#hm5)" marker-end="url(#hm5)"/><path d="M4 1549.6H6H9H10H12H13H15H16H27H29H34H37H48H49H57H67H68H74H81H83H86H87H92H96H98H99H106H110H115H116H117H118H120H125H127H130H132H133H134H139H141H146H152H155H156H158H164H168H171H172H178H179H183H191H192H193H197H199" fill="none" marker-start="url(#hm6)" marker-mid="url(#hm6)" marker-end="url(#hm6)"/><path d="M0 1549.6H1H2H11H14H17H21H23H25H30H31H33H40H41H42H44H45H46H47H51H54H56H59H62H63H64H69H71H73H75H77H79H82H84H85H88H90H91H94H97H100H101H103H104H105H108H112H114H124H126H128H131H135H136H138H142H143H148H150H153H157H163H165H169H170H174H176H177H180H182H184H189H190H194H195H196H198H200H202H203" fill="none" marker-start="url(#hm7)" marker-mid="url(#hm7)" marker-end="url(#hm7)"/><path d="M24 1549.6H28H32H39H52H53H70H80H89H93H107H109H111H113H123H129H137H140H145H167H175H185H187H188H201" fill="none" marker-start="url(#hm8)" marker-mid="url(#hm8)" marker-end="url(#hm8)"/><path d="M19 1549.6" fill="none" marker-start="url(#hm9)" marker-mid="url(#hm9)" marker-end="url(#hm9)"/><path d="M2 1559.0H59H84H109H203" fill="none" marker-start="url(#hm1)" marker-mid="url(#hm1)" marker-end="url(#hm1)"/><path d="M5 1559.0H21H53H60H76H90H125H183" fill="none" marker-start="url(#hm2)" marker-mid="url(#hm2)" marker-end="url(#hm2)"/><path d="M4 1559.0H51H66H79H179H197" fill="none" marker-start="url(#hm3)" marker-mid="url(#hm3)" marker-end="url(#hm3)"/><path d="M14 1559.0H28H38H61H63H88H116H118H127H132H136H152H157H167H172H187H198" fill="none" marker-start="url(#hm4)" marker-mid="url(#hm4)" marker-end="url(#hm4)"/><path d="M8 1559.0H9H12H20H22H25H27H32H33H36H39H43H57H65H67H68H70H73H77H80H93H94H103H112H114H135H142H144H145H155H163H165H169H170H171H177H184H201H202" fill="none" marker-start="url(#hm5)" marker-mid="url(#hm5)" marker-end="url(#hm5)"/><path d="M0 1559.0H3H6H7H10H11H30H34H37H40H41H44H46H47H48H52H54H55H56H62H64H71H78H81H83H86H92H95H97H98H99H100H101H104H105H106H108H110H111H113H115H119H128H137H138H139H141H148H149H151H153H158H173H174H176H178H181H182H190H191H192H195H199H200" fill="none" marker-start="url(#hm6)" marker-mid="url(#hm6)" marker-end="url(#hm6)"/><path d="M1 1559.0H13H16H17H18H19H23H24H26H29H35H42H45H50H58H72H74H82H85H87H91H96H102H107H117H120H122H124H126H130H131H134H143H150H154H156H160H161H162H164H168H185H186H188H189H194" fill="none" marker-start="url(#hm7)" marker-mid="url(#hm7)" marker-end="url(#hm7)"/><path d="M15 1559.0H31H49H69H75H123H129H133H140H146H159H175H180H196" fill="none" marker-start="url(#hm8)" marker-mid="url(#hm8)" marker-end="url(#hm8)"/><path d="M89 1559.0H166H193" fill="none" marker-start="url(#hm9)" marker-mid="url(#hm9)" marker-end="url(#hm9)"/><path d="M3 1568.4H6H10H11H12H21H27H41H43H53H67H73H75H76H83H96H97H102H109H110H112H116H118H119H122H125H126H128H131H136H139H144H145H150H151H152H162H178H183H188H190H191H195H201" fill="none" marker-start="url(#hm1)" marker-mid="url(#hm1)" marker-end="url(#hm1)"/><path d="M9 1568.4H16H17H18H36H37H42H44H57H58H64H70H71H84H87H92H93H98H101H104H106H129H135H141H156H159H160H161H163H167H175H184H185H187H189H197H198" fill="none" marker-start="url(#hm2)" marker-mid="url(#hm2)" marker-end="url(#hm2)"/><path d="M8 1568.4H29H40H49H52H65H68H69H105H113H115H117H120H138H143H177H181H186H193" fill="none" marker-start="url(#hm3)" marker-mid="url(#hm3)" marker-end="url(#hm3)"/><path d="M22 1568.4H63H146H149H169H180" fill="none" marker-start="url(#hm4)" marker-mid="url(#hm4)" marker-end="url(#hm4)"/><path d="M3 1577.8H5H16H23H30H33H41H57H64H67H70H73H75H78H79H80H88H93H96H98H110H115H118H119H124H125H126H134H135H142H145H146H148H156H157H160H163H170H174H183H185H193H195H196H202H203" fill="none" marker-start="url(#hm1)" marker-mid="url(#hm1)" marker-end="url(#hm1)"/><path d="M6 1577.8H8H9H10H12H14H20H28H40H47H51H53H56H62H74H76H77H81H87H95H101H105H120H131H132H133H137H138H141H151H167H168H171H172H173H178H182H184H186H188H189" fill="none" marker-start="url(#hm2)" marker-mid="url(#hm2)" marker-end="url(#hm2)"/><path d="M0 1577.8H4H19H27H35H39H43H44H59H63H68H83H100H108H123H140H143H144H150H152H153H162H169H176H177H179H181H187H190H194H199" fill="none" marker-start="url(#hm3)" marker-mid="url(#hm3)" marker-end="url(#hm3)"/><path d="M7 1577.8H29H32H54H69H103H106H111H117H122H154H158H191H200" fill="none" marker-start="url(#hm4)" marker-mid="url(#hm4)" marker-end="url(#hm4)"/><path d="M37 1577.8" fill="none" marker-start="url(#hm5)" marker-mid="url(#hm5)" marker-end="url(#hm5)"/><path d="M8 1587.2H11H18H19H21H24H27H34H40H41H44H45H46H47H51H53H57H58H63H72H73H76H83H95H99H107H108H111H114H126H134H136H139H141H146H149H160H162H164H171H178H185H199H203" fill="none" marker-start="url(#hm1)" marker-mid="url(#hm1)" marker-end="url(#hm1)"/><path d="M2 1587.2H20H28H29H33H35H37H54H62H66H68H69H71H74H82H85H86H90H91H96H98H104H110H112H113H117H119H127H137H148H151H156H167H170H172H180H186H187H191H192H194H197H200" fill="none" marker-start="url(#hm2)" marker-mid="url(#hm2)" marker-end="url(#hm2)"/><path d="M0 1587.2H9H10H14H15H22H23H30H32H36H42H50H64H65H75H77H78H84H93H97H103H105H115H116H122H124H128H129H131H132H135H142H143H145H152H153H157H158H159H166H169H173H175H176H179H184H190H193H195H201" fill="none" marker-start="url(#hm3)" marker-mid="url(#hm3)" marker-end="url(#hm3)"/><path d="M31 1587.2H43H48H67H80H118H120H181" fill="none" marker-start="url(#hm4)" marker-mid="url(#hm4)" marker-end="url(#hm4)"/><path d="M16 1587.2H49H150H165H183" fill="none" marker-start="url(#hm5)" marker-mid="url(#hm5)" marker-end="url(#hm5)"/><path d="M26 1587.2H106H182" fill="none" marker-start="url(#hm6)" marker-mid="url(#hm6)" marker-end="url(#hm6)"/><path d="M18 1596.6H48H58H61H63H90H100H111H117H121H127H143" fill="none" marker-start="url(#hm1)" marker-mid="url(#hm1)" marker-end="url(#hm1)"/><path d="M38 1596.6H41H47H52H62H74H82H91H96H102H106H116H119H120H122H131H135H139H140H146H150H165H170H176H182H192" fill="none" marker-start="url(#hm2)" marker-mid="url(#hm2)" marker-end="url(#hm2)"/><path d="M3 1596.6H5H7H14H23H25H26H28H31H34H45H54H55H56H59H65H72H81H85H88H105H110H112H113H115H118H123H132H148H163H168H175H183H188H195H196H200H201" fill="none" marker-start="url(#hm3)" marker-mid="url(#hm3)" marker-end="url(#hm3)"/><path d="M6 1596.6H9H11H21H46H50H51H53H66H67H69H75H77H79H83H93H94H95H97H98H99H104H107H109H124H125H129H133H136H142H145H149H157H158H160H167H171H172H173H178H179H184H185H187H189H191H194H198H199H202" fill="none" marker-start="url(#hm4)" marker-mid="url(#hm4)" marker-end="url(#hm4)"/><path d="M0 1596.6H2H4H10H13H15H17H19H20H24H27H29H30H32H33H35H39H42H44H68H73H76H80H84H92H101H108H114H126H137H141H144H152H155H156H159H162H166H169H186H197H203" fill="none" marker-start="url(#hm5)" marker-mid="url(#hm5)" marker-end="url(#hm5)"/><path d="M1 1596.6H8H22H49H57H70H71H78H86H87H89H103H128H134H151H161H174H180H190H193" fill="none" marker-start="url(#hm6)" marker-mid="url(#hm6)" marker-end="url(#hm6)"/><path d="M43 1596.6H64H130H138" fill="none" marker-start="url(#hm7)" marker-mid="url(#hm7)" marker-end="url(#hm7)"/><path d="M16 1596.6" fill="none" marker-start="url(#hm8)" marker-mid="url(#hm8)" marker-end="url(#hm8)"/><path d="M5 1605.9H8H10H11H15H19H21H22H23H24H28H36H39H41H49H52H56H57H62H70H79H84H86H88H91H94H95H100H101H113H114H117H120H129H131H132H134H135H136H141H145H146H149H153H154H159H161H167H168H170H173H175H176H182H185H191H195H200" fill="none" marker-start="url(#hm1)" marker-mid="url(#hm1)" marker-end="url(#hm1)"/><path d="M1 1605.9H6H7H9H12H18H20H42H44H47H48H54H55H58H63H64H65H66H71H82H87H89H104H110H112H123H124H125H127H142H156H160H163H171H174H177H187H188H193H197H199H202" fill="none" marker-start="url(#hm2)" marker-mid="url(#hm2)" marker-end="url(#hm2)"/><path d="M3 1605.9H33H35H37H46H69H72H75H77H92H126H144H151H152H164H169H181H184H192H203" fill="none" marker-start="url(#hm3)" marker-mid="url(#hm3)" marker-end="url(#hm3)"/><path d="M50 1605.9H67H90H119H196" fill="none" marker-start="url(#hm4)" marker-mid="url(#hm4)" marker-end="url(#hm4)"/><path d="M14 1615.3H19H20H38H54H64H70H72H138H156H160H189H191H195" fill="none" marker-start="url(#hm1)" marker-mid="url(#hm1)" marker-end="url(#hm1)"/><path d="M16 1615.3H18H26H34H41H44H47H52H53H65H69H79H80H81H82H84H90H93H98H116H135H168H172H183H186H188H199H202" fill="none" marker-start="url(#hm2)" marker-mid="url(#hm2)" marker-end="url(#hm2)"/><path d="M5 1615.3H9H15H17H24H28H32H33H37H39H42H46H51H56H66H68H87H104H105H118H127H129H131H142H143H151H153H154H155H157H158H159H165H173H175H180H190H194H197" fill="none" marker-start="url(#hm3)" marker-mid="url(#hm3)" marker-end="url(#hm3)"/><path d="M0 1615.3H11H21H36H49H58H71H73H74H78H83H85H89H92H101H103H106H109H111H112H113H123H128H145H148H150H161H170H171H176H179H182H184H187H200H201" fill="none" marker-start="url(#hm4)" marker-mid="url(#hm4)" marker-end="url(#hm4)"/><path d="M1 1615.3H3H4H6H10H12H13H25H29H50H55H57H59H75H76H77H94H99H107H108H115H117H119H130H133H137H140H144H146H152H162H163H164H167H178H185H192H196H203" fill="none" marker-start="url(#hm5)" marker-mid="url(#hm5)" marker-end="url(#hm5)"/><path d="M2 1615.3H7H8H23H31H35H40H48H62H86H88H100H110H120H124H126H132H139H169H174H177H181H193" fill="none" marker-start="url(#hm6)" marker-mid="url(#hm6)" marker-end="url(#hm6)"/><path d="M43 1615.3H45H67H114H122H141H166" fill="none" marker-start="url(#hm7)" marker-mid="url(#hm7)" marker-end="url(#hm7)"/><path d="M198 1615.3" fill="none" marker-start="url(#hm8)" marker-mid="url(#hm8)" marker-end="url(#hm8)"/><path d="M149 1615.3" fill="none" marker-start="url(#hm9)" marker-mid="url(#hm9)" marker-end="url(#hm9)"/><path d="M25 1624.7H59H76H82H100H112H121H130H131H199" fill="none" marker-start="url(#hm1)" marker-mid="url(#hm1)" marker-end="url(#hm1)"/><path d="M33 1624.7H36H43H48H49H79H83H117H136H152" fill="none" marker-start="url(#hm2)" marker-mid="url(#hm2)" marker-end="url(#hm2)"/><path d="M0 1624.7H20H22H29H34H37H46H55H61H67H73H90H91H99H118H122H153H155H162H164H166H168H169" fill="none" marker-start="url(#hm3)" marker-mid="url(#hm3)" marker-end="url(#hm3)"/><path d="M3 1624.7H6H8H9H11H12H13H19H23H26H27H28H41H42H44H47H51H52H62H66H70H72H85H87H88H89H94H97H103H104H105H106H107H109H110H116H119H120H124H127H128H134H135H142H146H154H157H158H160H165H167H170H171H173H174H176H181H183H187H193H196H200" fill="none" marker-start="url(#hm4)" marker-mid="url(#hm4)" marker-end="url(#hm4)"/><path d="M2 1624.7H4H5H7H16H17H30H31H35H39H40H50H53H58H69H71H101H102H113H115H129H133H138H140H141H143H145H148H149H156H161H163H180H185H189H191H192H198" fill="none" marker-start="url(#hm5)" marker-mid="url(#hm5)" marker-end="url(#hm5)"/><path d="M1 1624.7H10H14H18H21H24H54H57H64H68H75H77H78H80H81H86H92H96H98H123H126H132H137H139H144H151H159H177H179H182H184H188H195H197H203" fill="none" marker-start="url(#hm6)" marker-mid="url(#hm6)" marker-end="url(#hm6)"/><path d="M15 1624.7H32H56H63H65H84H93H108H111H114H150H175H178H186H190H201H202" fill="none" marker-start="url(#hm7)" marker-mid="url(#hm7)" marker-end="url(#hm7)"/><path d="M45 1624.7H74H95H125H172H194" fill="none" marker-start="url(#hm8)" marker-mid="url(#hm8)" marker-end="url(#hm8)"/><path d="M0 1634.1H3H4H6H11H15H16H17H24H26H35H40H42H44H48H58H65H78H86H87H92H96H128H133H166H168H177H186H190H200H201" fill="none" marker-start="url(#hm1)" marker-mid="url(#hm1)" marker-end="url(#hm1)"/><path d="M9 1634.1H10H13H21H25H27H30H31H32H34H39H45H50H51H52H56H62H72H79H82H84H85H89H91H107H112H119H140H148H153H154H158H160H164H165H180H189H194H195H197" fill="none" marker-start="url(#hm2)" marker-mid="url(#hm2)" marker-end="url(#hm2)"/><path d="M1 1634.1H5H8H14H18H22H28H41H43H49H54H64H71H77H93H94H100H104H106H111H125H126H138H141H145H150H151H155H161H163H167H171H172H174H175H182H183H184H187H188H192H196H203" fill="none" marker-start="url(#hm3)" marker-mid="url(#hm3)" marker-end="url(#hm3)"/><path d="M12 1634.1H37H46H66H75H81H88H108H109H114H115H116H117H120H124H127H129H130H134H136H142H144H146H152H156H157H159H162H169H191H198H199" fill="none" marker-start="url(#hm4)" marker-mid="url(#hm4)" marker-end="url(#hm4)"/><path d="M68 1634.1H70H105H118H143H179H181H185H202" fill="none" marker-start="url(#hm5)" marker-mid="url(#hm5)" marker-end="url(#hm5)"/><path d="M83 1634.1H132H135H170H176" fill="none" marker-start="url(#hm6)" marker-mid="url(#hm6)" marker-end="url(#hm6)"/><path d="M122 1634.1H123H173" fill="none" marker-start="url(#hm7)" marker-mid="url(#hm7)" marker-end="url(#hm7)"/><path d="M0 1643.5H10H11H15H16H19H20H21H33H43H46H50H56H62H70H71H74H80H81H89H93H106H110H116H117H118H120H134H135H142H148H155H161H164H165H169H173H174H175H178H179H188H190H191H192H195H198H199H200H203" fill="none" marker-start="url(#hm1)" marker-mid="url(#hm1)" marker-end="url(#hm1)"/><path d="M4 1643.5H9H22H24H25H40H41H45H47H49H64H65H75H77H82H84H85H86H94H96H111H122H126H133H136H138H139H140H141H143H144H151H172H181H187" fill="none" marker-start="url(#hm2)" marker-mid="url(#hm2)" marker-end="url(#hm2)"/><path d="M1 1643.5H18H35H68H90H104H109H112H114H132H146H150H154H167H168H177H184H202" fill="none" marker-start="url(#hm3)" marker-mid="url(#hm3)" marker-end="url(#hm3)"/><path d="M130 1643.5H170" fill="none" marker-start="url(#hm4)" marker-mid="url(#hm4)" marker-end="url(#hm4)"/><path d="M9 1652.9H34H56H66H84H120H128H146H153H158H163H172H185H201" fill="none" marker-start="url(#hm1)" marker-mid="url(#hm1)" marker-end="url(#hm1)"/><path d="M3 1652.9H10H13H14H17H24H30H53H68H72H77H78H86H87H92H93H94H101H102H105H114H115H117H119H137H140H142H143H154H156H157H159H162H165H167" fill="none" marker-start="url(#hm2)" marker-mid="url(#hm2)" marker-end="url(#hm2)"/><path d="M0 1652.9H8H12H19H25H27H28H32H41H42H43H51H54H57H58H59H64H67H69H73H74H80H85H88H90H97H98H99H100H106H111H116H118H123H135H136H141H149H166H169H175H176H180H183H189H190H203" fill="none" marker-start="url(#hm3)" marker-mid="url(#hm3)" marker-end="url(#hm3)"/><path d="M2 1652.9H4H6H11H15H16H20H29H31H33H37H38H39H40H45H46H47H49H62H70H75H81H82H96H107H112H113H124H130H131H138H139H145H152H155H160H161H164H173H174H177H178H182H187H191H193H194H197H198H199H200" fill="none" marker-start="url(#hm4)" marker-mid="url(#hm4)" marker-end="url(#hm4)"/><path d="M5 1652.9H7H18H36H44H63H65H71H79H83H91H108H122H126H133H134H144H150H151H170H184H188H196" fill="none" marker-start="url(#hm5)" marker-mid="url(#hm5)" marker-end="url(#hm5)"/><path d="M21 1652.9H48H50H61H95H103H104H110H125H129H168H179H186H192H195" fill="none" marker-start="url(#hm6)" marker-mid="url(#hm6)" marker-end="url(#hm6)"/><path d="M26 1652.9" fill="none" marker-start="url(#hm7)" marker-mid="url(#hm7)" marker-end="url(#hm7)"/><path d="M55 1652.9" fill="none" marker-start="url(#hm9)" marker-mid="url(#hm9)" marker-end="url(#hm9)"/><path d="M4 1662.3H36H86H132H146H158H187" fill="none" marker-start="url(#hm1)" marker-mid="url(#hm1)" marker-end="url(#hm1)"/><path d="M18 1662.3H22H45H69H73H87H118H128H129H151H160H198" fill="none" marker-start="url(#hm2)" marker-mid="url(#hm2)" marker-end="url(#hm2)"/><path d="M11 1662.3H26H28H31H33H37H46H57H58H64H75H84H91H93H99H100H102H103H105H109H110H121H125H140H142H143H152H156H170H172H192" fill="none" marker-start="url(#hm3)" marker-mid="url(#hm3)" marker-end="url(#hm3)"/><path d="M6 1662.3H9H13H15H16H24H29H30H38H47H50H56H59H63H70H76H77H78H80H107H108H111H112H120H122H123H127H130H137H144H148H149H154H159H162H165H167H168H179H193" fill="none" marker-start="url(#hm4)" marker-mid="url(#hm4)" marker-end="url(#hm4)"/><path d="M3 1662.3H7H10H12H17H19H21H25H27H34H35H40H44H49H51H54H55H61H65H66H67H68H83H85H88H97H98H101H104H106H114H116H117H119H124H126H135H136H139H141H145H157H161H163H164H169H171H173H174H176H178H180H183H184H185H186H189H194H199H201" fill="none" marker-start="url(#hm5)" marker-mid="url(#hm5)" marker-end="url(#hm5)"/><path d="M0 1662.3H1H5H14H32H39H42H43H48H71H79H81H82H89H90H92H94H95H96H115H131H138H150H153H166H175H177H181H191H195H196H197H200H202H203" fill="none" marker-start="url(#hm6)" marker-mid="url(#hm6)" marker-end="url(#hm6)"/><path d="M8 1662.3H41H53H62H72H113H147H182H188H190" fill="none" marker-start="url(#hm7)" marker-mid="url(#hm7)" marker-end="url(#hm7)"/><path d="M155 1662.3" fill="none" marker-start="url(#hm8)" marker-mid="url(#hm8)" marker-end="url(#hm8)"/><path d="M2 1662.3" fill="none" marker-start="url(#hm9)" marker-mid="url(#hm9)" marker-end="url(#hm9)"/><path d="M6 1671.7H8H14H19H20H22H33H53H58H64H72H76H79H91H92H93H110H111H114H117H118H120H129H137H138H139H143H144H147H148H151H157H161H162H164H165H166H173H175H176H178H179H180H182H189H191H193H201" fill="none" marker-start="url(#hm1)" marker-mid="url(#hm1)" marker-end="url(#hm1)"/><path d="M21 1671.7H24H26H30H32H35H43H50H54H56H62H65H66H74H81H83H87H89H96H97H104H108H121H127H131H149H153H177H184H187H192H194H195H197" fill="none" marker-start="url(#hm2)" marker-mid="url(#hm2)" marker-end="url(#hm2)"/><path d="M5 1671.7H29H52H75H123H125H159H160" fill="none" marker-start="url(#hm3)" marker-mid="url(#hm3)" marker-end="url(#hm3)"/><path d="M15 1671.7H25H112H154H203" fill="none" marker-start="url(#hm4)" marker-mid="url(#hm4)" marker-end="url(#hm4)"/><path d="M145 1671.7" fill="none" marker-start="url(#hm5)" marker-mid="url(#hm5)" marker-end="url(#hm5)"/><path d="M150 1671.7" fill="none" marker-start="url(#hm9)" marker-mid="url(#hm9)" marker-end="url(#hm9)"/><path d="M0 1681.1H5H11H12H16H17H19H21H25H28H29H41H42H43H46H47H50H63H71H80H85H89H97H101H102H105H106H107H112H113H121H135H137H139H145H148H164H166H168H172H173H176H185H188H189" fill="none" marker-start="url(#hm1)" marker-mid="url(#hm1)" marker-end="url(#hm1)"/><path d="M1 1681.1H9H14H20H26H33H34H70H75H82H84H109H117H118H134H141H143H144H151H169H181H182H187H191H203" fill="none" marker-start="url(#hm2)" marker-mid="url(#hm2)" marker-end="url(#hm2)"/><path d="M94 1681.1H122H124H138" fill="none" marker-start="url(#hm3)" marker-mid="url(#hm3)" marker-end="url(#hm3)"/><path d="M132 1681.1" fill="none" marker-start="url(#hm5)" marker-mid="url(#hm5)" marker-end="url(#hm5)"/><path d="M202 1681.1" fill="none" marker-start="url(#hm9)" marker-mid="url(#hm9)" marker-end="url(#hm9)"/><path d="M2 1690.5H7H11H37H54H71H85H89H108H109H112H120H131H168H169H170H177" fill="none" marker-start="url(#hm1)" marker-mid="url(#hm1)" marker-end="url(#hm1)"/><path d="M1 1690.5H15H22H31H39H50H51H53H64H68H70H76H80H81H82H90H95H107H123H124H127H130H175H183H186H190" fill="none" marker-start="url(#hm2)" marker-mid="url(#hm2)" marker-end="url(#hm2)"/><path d="M5 1690.5H6H9H13H19H44H47H49H55H56H58H65H91H98H102H104H106H114H117H118H133H134H135H136H140H144H158H159H161H166H167H171H173H174H178H180H182H184H191H192H196H197" fill="none" marker-start="url(#hm3)" marker-mid="url(#hm3)" marker-end="url(#hm3)"/><path d="M0 1690.5H14H16H17H18H20H21H26H28H32H34H35H40H41H42H48H62H66H73H74H84H86H92H96H99H101H110H113H125H126H129H132H137H143H145H151H154H156H157H160H164H165H172H179H181H185H188H195H201H202H203" fill="none" marker-start="url(#hm4)" marker-mid="url(#hm4)" marker-end="url(#hm4)"/><path d="M3 1690.5H8H10H12H24H25H29H43H57H63H67H78H83H88H94H103H111H115H116H119H122H141H142H146H148H149H152H153H187H189H193H194H198H200" fill="none" marker-start="url(#hm5)" marker-mid="url(#hm5)" marker-end="url(#hm5)"/><path d="M4 1690.5H27H30H36H46H69H79H87H93H97H138H147H155" fill="none" marker-start="url(#hm6)" marker-mid="url(#hm6)" marker-end="url(#hm6)"/><path d="M38 1690.5H61H163" fill="none" marker-start="url(#hm7)" marker-mid="url(#hm7)" marker-end="url(#hm7)"/><path d="M150 1690.5" fill="none" marker-start="url(#hm8)" marker-mid="url(#hm8)" marker-end="url(#hm8)"/><path d="M17 1699.8H31H45H66H71H83H95H107H120H167H194H199H202" fill="none" marker-start="url(#hm1)" marker-mid="url(#hm1)" marker-end="url(#hm1)"/><path d="M150 1699.8H184" fill="none" marker-start="url(#hm5)" marker-mid="url(#hm5)" marker-end="url(#hm5)"/><path d="M166 1699.8" fill="none" marker-start="url(#hm6)" marker-mid="url(#hm6)" marker-end="url(#hm6)"/><path d="M38 1699.8" fill="none" marker-start="url(#hm8)" marker-mid="url(#hm8)" marker-end="url(#hm8)"/><path d="M61 1699.8" fill="none" marker-start="url(#hm9)" marker-mid="url(#hm9)" marker-end="url(#hm9)"/><path d="M1 1709.2H12H16H19H35H46H57H65H67H73H75H78H82H88H89H90H93H101H103H106H107H111H112H120H122H132H133H134H137H140H142H143H145H153H161H163H164H166H167H172H181H186H189H190H195H202" fill="none" marker-start="url(#hm1)" marker-mid="url(#hm1)" marker-end="url(#hm1)"/><path d="M2 1709.2H17H18H20H33H40H42H47H71H80H83H84H136H147H159H180" fill="none" marker-start="url(#hm2)" marker-mid="url(#hm2)" marker-end="url(#hm2)"/><path d="M7 1709.2H110H151H169H194H197" fill="none" marker-start="url(#hm3)" marker-mid="url(#hm3)" marker-end="url(#hm3)"/><path d="M79 1709.2H150" fill="none" marker-start="url(#hm5)" marker-mid="url(#hm5)" marker-end="url(#hm5)"/><path d="M24 1709.2" fill="none" marker-start="url(#hm6)" marker-mid="url(#hm6)" marker-end="url(#hm6)"/><path d="M25 1709.2H38" fill="none" marker-start="url(#hm7)" marker-mid="url(#hm7)" marker-end="url(#hm7)"/><path d="M0 1718.6H4H7H9H12H13H17H28H35H42H43H46H52H57H58H59H62H63H65H69H94H95H97H99H102H112H114H115H116H117H125H132H136H140H144H159H166H167H169H173H174H176H180H185H187H188H190H196H202" fill="none" marker-start="url(#hm1)" marker-mid="url(#hm1)" marker-end="url(#hm1)"/><path d="M2 1718.6H3H6H8H14H15H19H34H53H73H78H83H87H88H98H104H107H110H111H126H137H138H141H142H143H145H151H162H163H165H178" fill="none" marker-start="url(#hm2)" marker-mid="url(#hm2)" marker-end="url(#hm2)"/><path d="M21 1718.6H25H67H105H108H122H123" fill="none" marker-start="url(#hm3)" marker-mid="url(#hm3)" marker-end="url(#hm3)"/><path d="M84 1718.6" fill="none" marker-start="url(#hm4)" marker-mid="url(#hm4)" marker-end="url(#hm4)"/><path d="M79 1718.6H150H156" fill="none" marker-start="url(#hm5)" marker-mid="url(#hm5)" marker-end="url(#hm5)"/><path d="M3 1728.0H5H13H26H29H32H34H38H40H44H50H59H63H64H66H68H70H74H76H81H86H97H106H110H112H117H118H119H123H134H138H140H147H149H151H153H155H160H167H169H170H181H188H190H194" fill="none" marker-start="url(#hm1)" marker-mid="url(#hm1)" marker-end="url(#hm1)"/><path d="M0 1728.0H4H8H9H16H21H24H27H30H42H49H52H55H67H83H89H92H96H107H109H115H131H133H136H139H148H168H171H173H174H184H186H193H195H198H200" fill="none" marker-start="url(#hm2)" marker-mid="url(#hm2)" marker-end="url(#hm2)"/><path d="M53 1728.0H54H85H111H156H157H191" fill="none" marker-start="url(#hm3)" marker-mid="url(#hm3)" marker-end="url(#hm3)"/><path d="M14 1728.0H78H189" fill="none" marker-start="url(#hm4)" marker-mid="url(#hm4)" marker-end="url(#hm4)"/><path d="M7 1728.0H150" fill="none" marker-start="url(#hm5)" marker-mid="url(#hm5)" marker-end="url(#hm5)"/><path d="M12 1737.4H13H16H17H32H40H46H49H56H62H64H71H76H81H84H87H93H98H101H102H103H119H138H139H145H148H152H153H158H160H165H166H171H176H178H183H188H189H197H198" fill="none" marker-start="url(#hm1)" marker-mid="url(#hm1)" marker-end="url(#hm1)"/><path d="M3 1737.4H8H11H14H19H21H29H36H42H44H47H48H51H66H68H72H85H90H92H95H96H99H100H104H107H113H116H117H121H127H129H130H133H147H157H161H168H174H179H180H186H187H190H193H203" fill="none" marker-start="url(#hm2)" marker-mid="url(#hm2)" marker-end="url(#hm2)"/><path d="M7 1737.4H9H20H25H26H33H52H54H55H58H61H63H65H69H70H79H80H83H86H89H106H112H118H120H125H132H135H142H146H149H154H156H162H164H169H172H175" fill="none" marker-start="url(#hm3)" marker-mid="url(#hm3)" marker-end="url(#hm3)"/><path d="M5 1737.4H34H57H73H109H110H114H131H141H155H181H199" fill="none" marker-start="url(#hm4)" marker-mid="url(#hm4)" marker-end="url(#hm4)"/><path d="M24 1737.4H27H41H159H185" fill="none" marker-start="url(#hm5)" marker-mid="url(#hm5)" marker-end="url(#hm5)"/><path d="M30 1737.4H94H140" fill="none" marker-start="url(#hm6)" marker-mid="url(#hm6)" marker-end="url(#hm6)"/><path d="M167 1737.4" fill="none" marker-start="url(#hm7)" marker-mid="url(#hm7)" marker-end="url(#hm7)"/><path d="M143 1737.4H150H163H170H184H192H194" fill="none" marker-start="url(#hm8)" marker-mid="url(#hm8)" marker-end="url(#hm8)"/><path d="M4 1746.8H5H7H10H14H17H25H29H31H33H35H38H48H53H55H58H59H63H67H68H70H71H72H75H78H79H80H83H91H94H97H98H99H102H118H121H122H123H126H127H129H139H140H141H142H146H147H148H153H161H163H165H166H167H172H173H174H175H181H183H185H187H189H193H198H202" fill="none" marker-start="url(#hm1)" marker-mid="url(#hm1)" marker-end="url(#hm1)"/><path d="M27 1746.8H28H42H44H47H51H81H82H84H85H105H135H143H145H156H158H170H176H180H188H190H197H203" fill="none" marker-start="url(#hm2)" marker-mid="url(#hm2)" marker-end="url(#hm2)"/><path d="M20 1746.8H30H34H104H114H116H169H178H194H199" fill="none" marker-start="url(#hm3)" marker-mid="url(#hm3)" marker-end="url(#hm3)"/><path d="M164 1746.8" fill="none" marker-start="url(#hm4)" marker-mid="url(#hm4)" marker-end="url(#hm4)"/><path d="M150 1746.8" fill="none" marker-start="url(#hm9)" marker-mid="url(#hm9)" marker-end="url(#hm9)"/><path d="M4 1756.2H10H12H18H19H27H28H31H32H34H35H41H42H43H45H49H56H58H61H67H69H84H91H92H96H99H104H106H109H115H116H118H120H130H138H140H144H145H155H162H169H172H180H186H188" fill="none" marker-start="url(#hm1)" marker-mid="url(#hm1)" marker-end="url(#hm1)"/><path d="M21 1756.2H30H47H54H55H66H72H78H80H94H95H98H101H102H105H110H137H159H165H167H185H187H189H191H192H203" fill="none" marker-start="url(#hm2)" marker-mid="url(#hm2)" marker-end="url(#hm2)"/><path d="M9 1756.2H11H14H29H73H83H88H89H114H124H141H164H174H179H182" fill="none" marker-start="url(#hm3)" marker-mid="url(#hm3)" marker-end="url(#hm3)"/><path d="M15 1756.2H86H151H170H175" fill="none" marker-start="url(#hm4)" marker-mid="url(#hm4)" marker-end="url(#hm4)"/><path d="M150 1756.2" fill="none" marker-start="url(#hm5)" marker-mid="url(#hm5)" marker-end="url(#hm5)"/><path d="M184 1756.2" fill="none" marker-start="url(#hm6)" marker-mid="url(#hm6)" marker-end="url(#hm6)"/><path d="M25 1756.2" fill="none" marker-start="url(#hm8)" marker-mid="url(#hm8)" marker-end="url(#hm8)"/><path d="M38 1756.2" fill="none" marker-start="url(#hm9)" marker-mid="url(#hm9)" marker-end="url(#hm9)"/><path d="M0 1765.6H2H8H11H12H13H14H15H18H27H29H30H31H34H35H47H49H56H66H78H92H96H101H102H107H108H113H114H115H116H120H122H123H131H133H137H138H141H142H151H155H159H167H169H175H181H183H188H195H197H198H203" fill="none" marker-start="url(#hm1)" marker-mid="url(#hm1)" marker-end="url(#hm1)"/><path d="M6 1765.6H28H42H50H73H75H79H97H117H129H145H146H163H184H192H196" fill="none" marker-start="url(#hm2)" marker-mid="url(#hm2)" marker-end="url(#hm2)"/><path d="M81 1765.6" fill="none" marker-start="url(#hm3)" marker-mid="url(#hm3)" marker-end="url(#hm3)"/><path d="M150 1765.6" fill="none" marker-start="url(#hm5)" marker-mid="url(#hm5)" marker-end="url(#hm5)"/><path d="M12 1775.0H77H93H99H102H103H106H107H120H124H157H165H172H178H180H182H189H197" fill="none" marker-start="url(#hm1)" marker-mid="url(#hm1)" marker-end="url(#hm1)"/><path d="M6 1775.0H11H18H22H30H32H48H51H53H57H62H64H66H76H81H82H90H97H105H111H116H125H128H168H184H187H196H198H200" fill="none" marker-start="url(#hm2)" marker-mid="url(#hm2)" marker-end="url(#hm2)"/><path d="M1 1775.0H2H4H7H8H10H19H21H25H27H35H36H37H41H42H43H52H59H61H71H78H79H83H85H86H87H89H91H92H94H98H101H108H114H115H122H123H126H129H130H131H135H141H143H144H147H149H153H158H160H162H166H175H188H190H191H195H203" fill="none" marker-start="url(#hm3)" marker-mid="url(#hm3)" marker-end="url(#hm3)"/><path d="M0 1775.0H3H9H15H20H28H29H38H44H49H50H55H56H58H65H73H75H84H88H112H113H117H118H127H132H133H136H138H142H145H146H152H161H167H173H179H185H186H199H201" fill="none" marker-start="url(#hm4)" marker-mid="url(#hm4)" marker-end="url(#hm4)"/><path d="M14 1775.0H16H17H34H40H46H54H69H70H72H74H95H109H119H139H140H151H156H163H169H174H183H192H193H194" fill="none" marker-start="url(#hm5)" marker-mid="url(#hm5)" marker-end="url(#hm5)"/><path d="M80 1775.0H96H104H110H121H148H159H164H176H181" fill="none" marker-start="url(#hm6)" marker-mid="url(#hm6)" marker-end="url(#hm6)"/><path d="M134 1775.0H177" fill="none" marker-start="url(#hm7)" marker-mid="url(#hm7)" marker-end="url(#hm7)"/><path d="M45 1775.0H150" fill="none" marker-start="url(#hm8)" marker-mid="url(#hm8)" marker-end="url(#hm8)"/><path d="M1 1784.4H2H4H7H12H16H19H20H21H25H26H27H28H33H34H36H42H46H49H53H54H58H61H65H69H70H79H82H83H86H88H93H103H108H111H113H119H120H121H122H127H128H131H137H146H148H152H172H175H191H194H197H198" fill="none" marker-start="url(#hm1)" marker-mid="url(#hm1)" marker-end="url(#hm1)"/><path d="M3 1784.4H6H10H14H17H29H32H37H38H43H44H48H52H56H74H75H94H95H96H98H99H106H110H117H118H123H126H130H132H134H140H144H149H161H170H184H195H199H201" fill="none" marker-start="url(#hm2)" marker-mid="url(#hm2)" marker-end="url(#hm2)"/><path d="M9 1784.4H31H40H41H47H63H68H71H81H101H104H109H112H115H125H136H138H141H145H147H164H166H169H177H178H180H181H183H192H196" fill="none" marker-start="url(#hm3)" marker-mid="url(#hm3)" marker-end="url(#hm3)"/><path d="M62 1784.4H72H139H142H151H154H165H186" fill="none" marker-start="url(#hm4)" marker-mid="url(#hm4)" marker-end="url(#hm4)"/><path d="M190 1784.4" fill="none" marker-start="url(#hm5)" marker-mid="url(#hm5)" marker-end="url(#hm5)"/><path d="M85 1784.4" fill="none" marker-start="url(#hm6)" marker-mid="url(#hm6)" marker-end="url(#hm6)"/><path d="M150 1784.4" fill="none" marker-start="url(#hm7)" marker-mid="url(#hm7)" marker-end="url(#hm7)"/><path d="M6 1793.7H20H23H24H29H32H35H37H52H53H54H56H64H70H76H79H87H88H95H116H125H131H136H143H165H198" fill="none" marker-start="url(#hm1)" marker-mid="url(#hm1)" marker-end="url(#hm1)"/><path d="M0 1793.7H3H5H7H10H13H19H21H28H31H40H41H42H46H48H65H68H69H78H85H92H97H98H105H114H122H129H134H135H142H144H148H149H154H170H182H197H199" fill="none" marker-start="url(#hm2)" marker-mid="url(#hm2)" marker-end="url(#hm2)"/><path d="M9 1793.7H11H17H34H44H45H49H51H57H59H71H73H74H75H82H90H93H96H99H101H107H109H112H119H120H127H130H132H145H146H152H155H156H157H161H163H164H166H173H176H178H179H180H183H184H186H188H189H191H193H194H196H202" fill="none" marker-start="url(#hm3)" marker-mid="url(#hm3)" marker-end="url(#hm3)"/><path d="M4 1793.7H47H50H61H63H66H80H81H94H106H108H113H121H123H124H133H137H139H147H151H153H159H160H162H167H169H174H175H181H187H190H195" fill="none" marker-start="url(#hm4)" marker-mid="url(#hm4)" marker-end="url(#hm4)"/><path d="M1 1793.7H33H38H91H102H126H138H140H158H168H171H177H185H200H203" fill="none" marker-start="url(#hm5)" marker-mid="url(#hm5)" marker-end="url(#hm5)"/><path d="M25 1793.7H58H83H104H110" fill="none" marker-start="url(#hm6)" marker-mid="url(#hm6)" marker-end="url(#hm6)"/><path d="M150 1793.7" fill="none" marker-start="url(#hm8)" marker-mid="url(#hm8)" marker-end="url(#hm8)"/><path d="M2 1803.1H11H12H16H18H24H25H26H32H38H40H52H62H78H88H102H105H107H108H109H117H118H122H129H136H148H156H160H161H162H165H167H169H180H184H190H198H199" fill="none" marker-start="url(#hm1)" marker-mid="url(#hm1)" marker-end="url(#hm1)"/><path d="M1 1803.1H13H14H15H23H30H36H46H48H54H61H63H65H68H71H72H73H76H79H83H84H86H89H96H103H110H112H114H115H120H121H130H132H138H144H159H164H166H168H170H174H182H186H192H201H202" fill="none" marker-start="url(#hm2)" marker-mid="url(#hm2)" marker-end="url(#hm2)"/><path d="M0 1803.1H4H8H28H29H31H44H50H58H69H90H93H97H101H113H134H135H139H149H153H158H163H172H187H191H197" fill="none" marker-start="url(#hm3)" marker-mid="url(#hm3)" marker-end="url(#hm3)"/><path d="M5 1803.1H10H19H27H34H35H47H56H80H116H119H145H147H155H171" fill="none" marker-start="url(#hm4)" marker-mid="url(#hm4)" marker-end="url(#hm4)"/><path d="M7 1803.1H140H173" fill="none" marker-start="url(#hm5)" marker-mid="url(#hm5)" marker-end="url(#hm5)"/><path d="M150 1803.1" fill="none" marker-start="url(#hm9)" marker-mid="url(#hm9)" marker-end="url(#hm9)"/><path d="M12 1812.5H13H19H20H21H24H28H31H36H40H41H43H45H46H47H51H58H59H68H69H78H80H89H94H101H112H116H121H127H135H137H138H139H140H144H148H157H162H168H169H174H178H183H184H188H190H194H195H198H200" fill="none" marker-start="url(#hm1)" marker-mid="url(#hm1)" marker-end="url(#hm1)"/><path d="M0 1812.5H10H22H23H27H30H44H54H55H61H66H74H75H86H87H90H93H95H97H99H105H109H111H119H120H124H126H141H142H145H167H179H193H202H203" fill="none" marker-start="url(#hm2)" marker-mid="url(#hm2)" marker-end="url(#hm2)"/><path d="M15 1812.5H16H18H49H83H84H96H110H158H172H189H197" fill="none" marker-start="url(#hm3)" marker-mid="url(#hm3)" marker-end="url(#hm3)"/><path d="M113 1812.5" fill="none" marker-start="url(#hm5)" marker-mid="url(#hm5)" marker-end="url(#hm5)"/><path d="M150 1812.5" fill="none" marker-start="url(#hm6)" marker-mid="url(#hm6)" marker-end="url(#hm6)"/><path d="M152 1812.5" fill="none" marker-start="url(#hm7)" marker-mid="url(#hm7)" marker-end="url(#hm7)"/><path d="M1 1821.9H7H8H12H13H15H17H21H30H36H37H41H49H61H62H65H78H85H86H87H92H95H96H99H101H130H139H145H146H148H156H157H160H164H167H170H172H174H182H187H190H191H196H199H202" fill="none" marker-start="url(#hm1)" marker-mid="url(#hm1)" marker-end="url(#hm1)"/><path d="M0 1821.9H2H4H9H18H22H23H24H25H27H28H29H31H33H34H43H47H53H54H56H58H72H74H76H79H82H94H106H107H111H112H119H124H133H134H137H138H140H143H159H175H178H181H183H185H192H195H200" fill="none" marker-start="url(#hm2)" marker-mid="url(#hm2)" marker-end="url(#hm2)"/><path d="M3 1821.9H19H32H50H51H66H83H91H109H110H120H121H132H142H149H153H154H158H163H165H168H169H171H173H179H188H198H203" fill="none" marker-start="url(#hm3)" marker-mid="url(#hm3)" marker-end="url(#hm3)"/><path d="M70 1821.9H103H105H155H177H184" fill="none" marker-start="url(#hm4)" marker-mid="url(#hm4)" marker-end="url(#hm4)"/><path d="M115 1821.9" fill="none" marker-start="url(#hm5)" marker-mid="url(#hm5)" marker-end="url(#hm5)"/><path d="M98 1821.9" fill="none" marker-start="url(#hm6)" marker-mid="url(#hm6)" marker-end="url(#hm6)"/><path d="M150 1821.9" fill="none" marker-start="url(#hm9)" marker-mid="url(#hm9)" marker-end="url(#hm9)"/><path d="M15 1831.3H42H45H46H54H95H97H101H107H120H124H132H151H159H182H189" fill="none" marker-start="url(#hm1)" marker-mid="url(#hm1)" marker-end="url(#hm1)"/><path d="M5 1831.3H12H13H24H30H31H36H37H43H48H50H55H58H65H71H78H84H86H99H100H115H133H134H135H136H140H141H143H146H149H158H160H163H165H185H187H195H201" fill="none" marker-start="url(#hm2)" marker-mid="url(#hm2)" marker-end="url(#hm2)"/><path d="M0 1831.3H1H8H11H22H26H28H29H34H35H40H70H74H76H77H79H83H89H92H93H96H98H108H112H114H116H123H127H128H129H131H137H138H142H145H147H152H153H156H157H162H166H172H176H183H184H186H192H194H196H199" fill="none" marker-start="url(#hm3)" marker-mid="url(#hm3)" marker-end="url(#hm3)"/><path d="M2 1831.3H7H17H19H20H23H27H47H49H52H57H67H72H73H75H82H87H94H102H103H106H110H113H117H118H119H121H126H167H168H169H171H173H177H178H179H180H188H191H193H203" fill="none" marker-start="url(#hm4)" marker-mid="url(#hm4)" marker-end="url(#hm4)"/><path d="M3 1831.3H4H6H14H16H18H21H32H38H41H53H56H59H64H66H69H81H85H88H90H104H105H109H111H130H144H148H154H155H164H174H198H200" fill="none" marker-start="url(#hm5)" marker-mid="url(#hm5)" marker-end="url(#hm5)"/><path d="M9 1831.3H25H33H51H62H63H68H122H139H181H202" fill="none" marker-start="url(#hm6)" marker-mid="url(#hm6)" marker-end="url(#hm6)"/><path d="M44 1831.3H161" fill="none" marker-start="url(#hm7)" marker-mid="url(#hm7)" marker-end="url(#hm7)"/><path d="M197 1831.3" fill="none" marker-start="url(#hm8)" marker-mid="url(#hm8)" marker-end="url(#hm8)"/><path d="M150 1831.3" fill="none" marker-start="url(#hm9)" marker-mid="url(#hm9)" marker-end="url(#hm9)"/><path d="M4 1840.7H5H8H15H19H22H25H42H53H54H57H76H79H86H88H98H102H103H104H111H118H120H121H124H135H141H148H151H154H158H169H172H180H188H190H193H203" fill="none" marker-start="url(#hm1)" marker-mid="url(#hm1)" marker-end="url(#hm1)"/><path d="M9 1840.7H11H12H16H18H23H29H31H32H35H38H40H50H55H56H58H62H65H66H67H68H70H71H72H78H81H84H87H91H93H94H97H107H109H119H134H140H142H163H165H168H174H176H177H178H179H183H184H186H189H192H199H201H202" fill="none" marker-start="url(#hm2)" marker-mid="url(#hm2)" marker-end="url(#hm2)"/><path d="M13 1840.7H26H30H43H44H47H69H73H75H82H83H89H95H96H101H110H113H117H126H137H138H144H150H152H157H161H162H164H175H194" fill="none" marker-start="url(#hm3)" marker-mid="url(#hm3)" marker-end="url(#hm3)"/><path d="M2 1840.7H20H45H74H92H116H123H132H173H185" fill="none" marker-start="url(#hm4)" marker-mid="url(#hm4)" marker-end="url(#hm4)"/><path d="M27 1840.7" fill="none" marker-start="url(#hm5)" marker-mid="url(#hm5)" marker-end="url(#hm5)"/><path d="M3 1850.1H7H9H16H19H24H27H31H32H45H46H48H56H58H70H71H76H78H81H82H83H88H90H91H92H113H114H117H130H132H133H142H144H150H156H157H158H160H175H182H192H201H203" fill="none" marker-start="url(#hm1)" marker-mid="url(#hm1)" marker-end="url(#hm1)"/><path d="M2 1850.1H4H10H14H18H22H23H29H33H35H41H51H55H57H66H72H75H85H93H95H96H102H104H107H110H120H124H126H127H140H152H161H164H168H170H177H183H193H194H195H198" fill="none" marker-start="url(#hm2)" marker-mid="url(#hm2)" marker-end="url(#hm2)"/><path d="M49 1850.1H61H97H108H118H147H153H167H188H190" fill="none" marker-start="url(#hm3)" marker-mid="url(#hm3)" marker-end="url(#hm3)"/><path d="M129 1850.1H159" fill="none" marker-start="url(#hm4)" marker-mid="url(#hm4)" marker-end="url(#hm4)"/><path d="M199 1850.1" fill="none" marker-start="url(#hm5)" marker-mid="url(#hm5)" marker-end="url(#hm5)"/><path d="M10 1859.5H11H14H16H18H27H28H29H41H51H56H61H62H67H68H70H72H77H81H84H96H102H104H109H112H114H122H123H125H126H130H131H138H139H144H154H156H157H159H161H162H166H186H187H189H194H195H199H203" fill="none" marker-start="url(#hm1)" marker-mid="url(#hm1)" marker-end="url(#hm1)"/><path d="M3 1859.5H5H8H12H13H32H40H43H49H52H53H63H69H75H76H82H91H101H105H117H121H129H133H147H158H163H165H173H175H180H183H190H192H193H202" fill="none" marker-start="url(#hm2)" marker-mid="url(#hm2)" marker-end="url(#hm2)"/><path d="M7 1859.5H21H24H25H33H42H88H106H107H110H113H120H135H140H151H167H174H178H200" fill="none" marker-start="url(#hm3)" marker-mid="url(#hm3)" marker-end="url(#hm3)"/><path d="M31 1859.5H55H119H124H127H164" fill="none" marker-start="url(#hm4)" marker-mid="url(#hm4)" marker-end="url(#hm4)"/><path d="M39 1859.5H153" fill="none" marker-start="url(#hm7)" marker-mid="url(#hm7)" marker-end="url(#hm7)"/><path d="M3 1868.9H5H7H13H14H20H23H29H32H34H38H46H51H52H62H73H74H75H81H88H96H111H112H121H122H130H132H139H144H150H153H156H159H161H165H167H174H177H190H195H196H198" fill="none" marker-start="url(#hm1)" marker-mid="url(#hm1)" marker-end="url(#hm1)"/><path d="M4 1868.9H10H31H35H47H49H65H67H79H84H85H91H93H98H104H109H114H116H117H120H123H126H134H147H152H154H158H160H162H172H173H179H181H182H187H192H193H194" fill="none" marker-start="url(#hm2)" marker-mid="url(#hm2)" marker-end="url(#hm2)"/><path d="M11 1868.9H25H44H55H78H80H99H113H131H137H146H149H170H175H176H202" fill="none" marker-start="url(#hm3)" marker-mid="url(#hm3)" marker-end="url(#hm3)"/><path d="M1 1868.9H2H30H54H71H89H115H133H140" fill="none" marker-start="url(#hm4)" marker-mid="url(#hm4)" marker-end="url(#hm4)"/><path d="M68 1868.9" fill="none" marker-start="url(#hm5)" marker-mid="url(#hm5)" marker-end="url(#hm5)"/><path d="M136 1868.9" fill="none" marker-start="url(#hm8)" marker-mid="url(#hm8)" marker-end="url(#hm8)"/><path d="M40 1868.9H102H163" fill="none" marker-start="url(#hm9)" marker-mid="url(#hm9)" marker-end="url(#hm9)"/><path d="M34 1878.3H83H86H139H170H177H202" fill="none" marker-start="url(#hm1)" marker-mid="url(#hm1)" marker-end="url(#hm1)"/><path d="M1 1878.3H24H115H141" fill="none" marker-start="url(#hm2)" marker-mid="url(#hm2)" marker-end="url(#hm2)"/><path d="M7 1878.3H35H37H55H59H63H80H84H85H87H105H107H111H127H156H162H174H175H179H181H194" fill="none" marker-start="url(#hm3)" marker-mid="url(#hm3)" marker-end="url(#hm3)"/><path d="M3 1878.3H4H6H13H21H36H44H46H61H66H73H77H78H81H93H106H112H114H117H119H126H129H131H133H137H145H158H161H166H168H192H201" fill="none" marker-start="url(#hm4)" marker-mid="url(#hm4)" marker-end="url(#hm4)"/><path d="M2 1878.3H5H9H12H14H15H17H22H27H29H32H33H38H43H45H48H49H50H51H52H54H62H67H69H70H72H74H75H82H88H90H91H94H96H97H98H103H110H116H118H121H122H123H124H125H130H134H140H142H146H147H149H155H157H163H165H169H171H172H173H178H180H183H186H188H190H191H193H196H197H198H199H203" fill="none" marker-start="url(#hm5)" marker-mid="url(#hm5)" marker-end="url(#hm5)"/><path d="M0 1878.3H8H10H11H16H18H19H23H25H26H28H30H31H41H42H47H53H57H58H65H68H71H76H79H89H95H99H101H104H108H113H120H132H135H138H143H144H148H150H151H152H153H154H159H160H164H167H176H182H185H189H200" fill="none" marker-start="url(#hm6)" marker-mid="url(#hm6)" marker-end="url(#hm6)"/><path d="M20 1878.3H56H64H92H109" fill="none" marker-start="url(#hm7)" marker-mid="url(#hm7)" marker-end="url(#hm7)"/><path d="M40 1878.3H102H187H195" fill="none" marker-start="url(#hm8)" marker-mid="url(#hm8)" marker-end="url(#hm8)"/><path d="M8 1887.6H53H58H59H68H84H96H136H153H156H186H196H202" fill="none" marker-start="url(#hm1)" marker-mid="url(#hm1)" marker-end="url(#hm1)"/><path d="M0 1887.6H37H67H79H82H83H102H113H128H161H162H166" fill="none" marker-start="url(#hm2)" marker-mid="url(#hm2)" marker-end="url(#hm2)"/><path d="M1 1887.6H3H7H29H36H40H44H69H71H72H77H78H97H98H100H117H125H127H134H145H150H152H169H171H178H182H190" fill="none" marker-start="url(#hm3)" marker-mid="url(#hm3)" marker-end="url(#hm3)"/><path d="M6 1887.6H9H13H18H42H46H51H54H55H64H65H76H80H88H93H101H103H104H106H111H115H116H118H122H124H131H140H143H146H151H154H158H159H160H167H181H187H189H193H194H195H197H198" fill="none" marker-start="url(#hm4)" marker-mid="url(#hm4)" marker-end="url(#hm4)"/><path d="M2 1887.6H10H11H14H16H19H20H22H24H25H26H30H31H32H35H38H43H45H47H49H50H52H57H61H70H73H74H75H85H86H90H91H92H94H95H99H105H107H109H110H114H119H120H123H129H130H133H137H138H141H142H144H147H148H149H157H163H165H168H173H174H176H177H180H183H184H185H188H191H192" fill="none" marker-start="url(#hm5)" marker-mid="url(#hm5)" marker-end="url(#hm5)"/><path d="M4 1887.6H5H12H15H17H23H27H28H33H34H41H48H56H62H66H81H89H108H112H121H132H139H155H164H170H172H175H179H199H200H201" fill="none" marker-start="url(#hm6)" marker-mid="url(#hm6)" marker-end="url(#hm6)"/><path d="M87 1887.6H126H203" fill="none" marker-start="url(#hm7)" marker-mid="url(#hm7)" marker-end="url(#hm7)"/><path d="M6 1897.0H17H25H26H32H42H46H48H49H52H53H56H57H59H66H73H74H75H76H79H91H92H94H97H98H101H102H111H112H115H116H117H121H124H128H134H141H146H147H148H150H152H154H167H168H170H172H192H195H197H202" fill="none" marker-start="url(#hm1)" marker-mid="url(#hm1)" marker-end="url(#hm1)"/><path d="M5 1897.0H9H13H14H16H20H27H28H30H36H37H41H47H50H55H58H68H70H82H87H90H95H99H103H106H114H118H127H130H140H149H159H161H162H177H180H188H190H191H198H201H203" fill="none" marker-start="url(#hm2)" marker-mid="url(#hm2)" marker-end="url(#hm2)"/><path d="M10 1897.0H15H22H24H38H40H78H84H86H109H123H129H132H136H145H158H163H169H173H174H179H189" fill="none" marker-start="url(#hm3)" marker-mid="url(#hm3)" marker-end="url(#hm3)"/><path d="M1 1897.0H21H23H85H93H120" fill="none" marker-start="url(#hm4)" marker-mid="url(#hm4)" marker-end="url(#hm4)"/><path d="M0 1897.0H12" fill="none" marker-start="url(#hm5)" marker-mid="url(#hm5)" marker-end="url(#hm5)"/><path d="M1 1906.4H2H7H10H13H18H19H21H25H27H32H33H34H38H47H49H51H52H53H55H58H59H61H64H69H70H72H78H79H81H82H87H103H105H106H110H127H135H142H143H157H158H161H169H173H176H178H181H183H188H189H190H195H199H202" fill="none" marker-start="url(#hm1)" marker-mid="url(#hm1)" marker-end="url(#hm1)"/><path d="M3 1906.4H8H16H20H23H41H45H46H48H50H74H76H80H84H89H91H92H112H118H122H134H136H140H144H145H146H151H162H164H167H168H172H174H184H191H194" fill="none" marker-start="url(#hm2)" marker-mid="url(#hm2)" marker-end="url(#hm2)"/><path d="M30 1906.4H43H90H93H117H139H148H149H152H156H166H170H171H175H177H182" fill="none" marker-start="url(#hm3)" marker-mid="url(#hm3)" marker-end="url(#hm3)"/><path d="M120 1906.4H131H132H133H147H160H179H180H187H196" fill="none" marker-start="url(#hm4)" marker-mid="url(#hm4)" marker-end="url(#hm4)"/><path d="M123 1906.4H150H163" fill="none" marker-start="url(#hm5)" marker-mid="url(#hm5)" marker-end="url(#hm5)"/><path d="M153 1906.4" fill="none" marker-start="url(#hm6)" marker-mid="url(#hm6)" marker-end="url(#hm6)"/><path d="M97 1906.4" fill="none" marker-start="url(#hm9)" marker-mid="url(#hm9)" marker-end="url(#hm9)"/><path d="M11 1915.8H29H30H32H34H35H45H47H57H64H68H71H78H82H86H88H92H113H118H123H127H130H131H142H147H151H152H156H162H163H165H169H170H178H180H182H185H192H193H195H196" fill="none" marker-start="url(#hm1)" marker-mid="url(#hm1)" marker-end="url(#hm1)"/><path d="M5 1915.8H8H15H16H19H38H40H98H104H106H116H132H133H149H155H160H164H174H183H188" fill="none" marker-start="url(#hm2)" marker-mid="url(#hm2)" marker-end="url(#hm2)"/><path d="M52 1915.8" fill="none" marker-start="url(#hm3)" marker-mid="url(#hm3)" marker-end="url(#hm3)"/><path d="M1 1925.2H9H33H58H70H81H90H94H100H110H112H132H159" fill="none" marker-start="url(#hm1)" marker-mid="url(#hm1)" marker-end="url(#hm1)"/><path d="M3 1925.2H5H13H15H17H18H19H24H31H37H41H42H45H46H55H57H59H61H83H87H108H116H118H119H144H156H163H164H165H170H171H177H180H196H201" fill="none" marker-start="url(#hm2)" marker-mid="url(#hm2)" marker-end="url(#hm2)"/><path d="M0 1925.2H6H7H8H10H16H21H22H25H27H32H50H51H53H56H64H65H67H68H73H77H79H82H84H86H89H93H95H97H101H103H104H113H117H120H121H122H123H124H127H130H131H136H137H138H146H154H160H172H173H174H185H187H190H193H194H197H198H199H202" fill="none" marker-start="url(#hm3)" marker-mid="url(#hm3)" marker-end="url(#hm3)"/><path d="M4 1925.2H11H12H14H20H23H29H30H35H36H43H47H48H49H54H66H72H74H76H78H88H92H96H98H99H102H105H111H126H129H135H139H140H141H142H143H148H149H150H151H152H155H161H166H167H168H169H175H176H179H182H183H184H188H189H191H192" fill="none" marker-start="url(#hm4)" marker-mid="url(#hm4)" marker-end="url(#hm4)"/><path d="M26 1925.2H28H34H38H62H63H80H85H107H125H134H147H157H162H181H186H200" fill="none" marker-start="url(#hm5)" marker-mid="url(#hm5)" marker-end="url(#hm5)"/><path d="M44 1925.2H75H114H115H133H158" fill="none" marker-start="url(#hm6)" marker-mid="url(#hm6)" marker-end="url(#hm6)"/><path d="M71 1925.2" fill="none" marker-start="url(#hm7)" marker-mid="url(#hm7)" marker-end="url(#hm7)"/><path d="M40 1925.2" fill="none" marker-start="url(#hm9)" marker-mid="url(#hm9)" marker-end="url(#hm9)"/></g></g><path d="M15.00 1349.5v10.3M20.45 1349.5v10.3M25.90 1349.5v10.3M31.35 1349.5v10.3M36.80 1349.5v10.3M42.25 1349.5v10.3M47.70 1349.5v10.3M53.15 1349.5v10.3M58.60 1349.5v10.3M64.05 1349.5v10.3M69.50 1349.5v10.3M74.95 1349.5v10.3M80.40 1349.5v10.3M85.85 1349.5v10.3M91.30 1349.5v10.3M96.75 1349.5v10.3M102.20 1349.5v10.3M107.65 1349.5v10.3M113.10 1349.5v10.3M118.55 1349.5v10.3M124.00 1349.5v10.3M129.45 1349.5v10.3M134.90 1349.5v10.3M140.35 1349.5v10.3M145.80 1349.5v10.3M151.25 1349.5v10.3M156.70 1349.5v10.3M162.15 1349.5v10.3M167.60 1349.5v10.3M173.05 1349.5v10.3M178.50 1349.5v10.3M183.95 1349.5v10.3M189.40 1349.5v10.3M194.85 1349.5v10.3M200.30 1349.5v10.3M205.75 1349.5v10.3M211.20 1349.5v10.3M216.65 1349.5v10.3M222.10 1349.5v10.3M227.55 1349.5v10.3M233.00 1349.5v10.3M238.45 1349.5v10.3M243.90 1349.5v10.3M249.35 1349.5v10.3M254.80 1349.5v10.3M260.25 1349.5v10.3M265.70 1349.5v10.3M271.15 1349.5v10.3M276.60 1349.5v10.3M282.05 1349.5v10.3M287.50 1349.5v10.3M292.95 1349.5v10.3M298.40 1349.5v10.3M303.85 1349.5v10.3M309.30 1349.5v10.3M314.75 1349.5v10.3M320.20 1349.5v10.3M325.65 1349.5v10.3M331.10 1349.5v10.3M336.55 1349.5v10.3M342.00 1349.5v10.3M347.45 1349.5v10.3M352.90 1349.5v10.3M358.35 1349.5v10.3M363.80 1349.5v10.3M369.25 1349.5v10.3M374.70 1349.5v10.3M380.15 1349.5v10.3M385.60 1349.5v10.3M391.05 1349.5v10.3M396.50 1349.5v10.3M401.95 1349.5v10.3M407.40 1349.5v10.3M412.85 1349.5v10.3M418.30 1349.5v10.3M423.75 1349.5v10.3M429.20 1349.5v10.3M434.65 1349.5v10.3M440.10 1349.5v10.3M445.55 1349.5v10.3M451.00 1349.5v10.3M456.45 1349.5v10.3M461.90 1349.5v10.3M467.35 1349.5v10.3M472.80 1349.5v10.3M478.25 1349.5v10.3M483.70 1349.5v10.3M489.15 1349.5v10.3M494.60 1349.5v10.3M500.05 1349.5v10.3M505.50 1349.5v10.3M510.95 1349.5v10.3M516.40 1349.5v10.3M521.85 1349.5v10.3M527.30 1349.5v10.3M532.75 1349.5v10.3M538.20 1349.5v10.3M543.65 1349.5v10.3M549.10 1349.5v10.3M554.55 1349.5v10.3M560.00 1349.5v10.3M565.45 1349.5v10.3M570.90 1349.5v10.3M576.35 1349.5v10.3M581.80 1349.5v10.3M587.25 1349.5v10.3M592.70 1349.5v10.3M598.15 1349.5v10.3M603.60 1349.5v10.3M609.05 1349.5v10.3M614.50 1349.5v10.3M619.95 1349.5v10.3M625.40 1349.5v10.3M630.85 1349.5v10.3M636.30 1349.5v10.3M641.75 1349.5v10.3M647.20 1349.5v10.3M652.65 1349.5v10.3M658.10 1349.5v10.3M663.55 1349.5v10.3M669.00 1349.5v10.3M674.45 1349.5v10.3M679.90 1349.5v10.3M685.35 1349.5v10.3M690.80 1349.5v10.3M696.25 1349.5v10.3M701.70 1349.5v10.3M707.15 1349.5v10.3M712.60 1349.5v10.3M718.05 1349.5v10.3M723.50 1349.5v10.3M728.95 1349.5v10.3M734.40 1349.5v10.3M739.85 1349.5v10.3M745.30 1349.5v10.3M750.75 1349.5v10.3M756.20 1349.5v10.3M761.65 1349.5v10.3M767.10 1349.5v10.3M772.55 1349.5v10.3M778.00 1349.5v10.3M783.45 1349.5v10.3M788.90 1349.5v10.3M794.35 1349.5v10.3M799.80 1349.5v10.3M805.25 1349.5v10.3M810.70 1349.5v10.3M816.15 1349.5v10.3M821.60 1349.5v10.3M827.05 1349.5v10.3M832.50 1349.5v10.3M837.95 1349.5v10.3M843.40 1349.5v10.3M848.85 1349.5v10.3M854.30 1349.5v10.3M859.75 1349.5v10.3M865.20 1349.5v10.3M870.65 1349.5v10.3M876.10 1349.5v10.3M881.55 1349.5v10.3M887.00 1349.5v10.3M892.45 1349.5v10.3M897.90 1349.5v10.3M903.35 1349.5v10.3M908.80 1349.5v10.3M914.25 1349.5v10.3M919.70 1349.5v10.3M925.15 1349.5v10.3M930.60 1349.5v10.3M936.05 1349.5v10.3M941.50 1349.5v10.3M946.95 1349.5v10.3M952.40 1349.5v10.3M957.85 1349.5v10.3M963.30 1349.5v10.3M968.75 1349.5v10.3M974.20 1349.5v10.3M979.65 1349.5v10.3M985.10 1349.5v10.3M990.55 1349.5v10.3M996.00 1349.5v10.3M1001.45 1349.5v10.3M1006.90 1349.5v10.3M1012.35 1349.5v10.3M1017.80 1349.5v10.3M1023.25 1349.5v10.3M1028.70 1349.5v10.3M1034.15 1349.5v10.3M1039.60 1349.5v10.3M1045.05 1349.5v10.3M1050.50 1349.5v10.3M1055.95 1349.5v10.3M1061.40 1349.5v10.3M1066.85 1349.5v10.3M1072.30 1349.5v10.3M1077.75 1349.5v10.3M1083.20 1349.5v10.3M1088.65 1349.5v10.3M1094.10 1349.5v10.3M1099.55 1349.5v10.3M1105.00 1349.5v10.3M1110.45 1349.5v10.3M1115.90 1349.5v10.3M1121.35 1349.5v10.3" stroke="#959595" stroke-width="1.9" stroke-dasharray="3.2 0.7 2.4 0.7 3.3 0.7"/><rect x="12.3" y="1361.4" width="567.7" height="2.9" fill="#000"/><rect x="12.3" y="1364.3" width="567.7" height="2.2" fill="#8a8a8a"/><rect x="580" y="1360.8" width="545" height="5.2" fill="#20f0f0"/><text transform="translate(12.4,1934) rotate(-90)" textLength="161" lengthAdjust="spacing" style="font-family:'Liberation Mono',monospace;font-weight:bold;font-size:7.6px;fill:#111;stroke:#111;stroke-width:0.3px">Fri Nov 22 14:19:09 CST 2024</text><text x="1127" y="1349" style="font-family:'Liberation Sans',sans-serif;font-size:5px;fill:#777">&#331;&#8764;</text><g transform="translate(1126,0) scale(0.56,1)"><text x="0" y="1373.7" class="hl">IS_mono</text><text x="0" y="1383.1" class="hl">2-Ethylfuran</text><text x="0" y="1392.5" class="hl">(E)-2-Methyl-2-butenal-D</text><text x="0" y="1401.9" class="hl">methyl pentanoate-D</text><text x="0" y="1411.3" class="hl">Acetaldehyde</text><text x="0" y="1420.7" class="hl">10</text><text x="0" y="1430.0" class="hl">methyl pentanoate-M</text><text x="0" y="1439.4" class="hl">2-Butanone</text><text x="0" y="1448.8" class="hl">2-propanone</text><text x="0" y="1458.2" class="hl">Ethanol</text><text x="0" y="1467.6" class="hl">1</text><text x="0" y="1477.0" class="hl">Butylamine</text><text x="0" y="1486.4" class="hl">2-Pentanone</text><text x="0" y="1495.8" class="hl">4-Methyl-2-pentanone</text><text x="0" y="1505.2" class="hl">3-Oxane</text><text x="0" y="1514.5" class="hl">2-Hexanone-M</text><text x="0" y="1523.9" class="hl">2-Hexanone-D</text><text x="0" y="1533.3" class="hl">3-Penten-2-one-D</text><text x="0" y="1542.7" class="hl">5</text><text x="0" y="1552.1" class="hl">4-Heptanone-D</text><text x="0" y="1561.5" class="hl">4-Heptanone-M</text><text x="0" y="1570.9" class="hl">(E)-2-Methyl-2-butenal-M</text><text x="0" y="1580.3" class="hl">3-Penten-2-one-M</text><text x="0" y="1589.7" class="hl">7</text><text x="0" y="1599.1" class="hl">2-butylfuran</text><text x="0" y="1608.5" class="hl">2-Heptanone-D</text><text x="0" y="1617.8" class="hl">Heptaldehyde</text><text x="0" y="1627.2" class="hl">2-Heptanone-M</text><text x="0" y="1636.6" class="hl">Ethyl 2-methylpentanoate</text><text x="0" y="1646.0" class="hl">Methyl 2-methylbutyrate-D</text><text x="0" y="1655.4" class="hl">9</text><text x="0" y="1664.8" class="hl">Methyl 2-methylbutyrate-M</text><text x="0" y="1674.2" class="hl">1-Butanol, 3-methyl</text><text x="0" y="1683.6" class="hl">8</text><text x="0" y="1693.0" class="hl">Cyclohexanone</text><text x="0" y="1702.4" class="hl">2-Butanone, 3-hydroxy</text><text x="0" y="1711.7" class="hl">2-Hydroxy-2-methyl-4-pentanone</text><text x="0" y="1721.1" class="hl">6</text><text x="0" y="1730.5" class="hl">5</text><text x="0" y="1739.9" class="hl">Propyl propenyl disulphide</text><text x="0" y="1749.3" class="hl">1-Pentanol</text><text x="0" y="1758.7" class="hl">2</text><text x="0" y="1768.1" class="hl">morpholine</text><text x="0" y="1777.5" class="hl">1-octanal</text><text x="0" y="1786.9" class="hl">1-Hydroxy-2-propanone-D</text><text x="0" y="1796.2" class="hl">1-Hydroxy-2-propanone-M</text><text x="0" y="1805.6" class="hl">N,N-Diethylbenzylamine</text><text x="0" y="1815.0" class="hl">Benzyl propanoate</text><text x="0" y="1824.4" class="hl">2-methyl-2-hepten-6-one</text><text x="0" y="1833.8" class="hl">1-Hexanal</text><text x="0" y="1843.2" class="hl">(Z)-2-octenal</text><text x="0" y="1852.6" class="hl">(E)-2-octenal</text><text x="0" y="1862.0" class="hl">4</text><text x="0" y="1871.4" class="hl">Acetic acid-D</text><text x="0" y="1880.8" class="hl">Acetic acid-M</text><text x="0" y="1890.2" class="hl">2-Ethyl-1-hexanol</text><text x="0" y="1899.5" class="hl">Benzaldehyde</text><text x="0" y="1908.9" class="hl">1 H-pyrrole</text><text x="0" y="1918.3" class="hl">Linalool</text><text x="0" y="1927.7" class="hl">Propanoic acid</text></g></svg><div class="lb" style="left:92px;top:78px;font-size:44.5px">A</div><div class="lb" style="left:145px;top:142.5px;font-size:30px;transform:scaleX(0.905);transform-origin:0 0">CC</div><div class="lb" style="left:622.5px;top:142.5px;font-size:30px;transform:scaleX(0.93);transform-origin:0 0">NC</div><div class="lb" style="left:93px;top:772px;font-size:42px">B</div><div class="lb" style="left:255.5px;top:798.5px;font-size:30px;transform:scaleX(0.905);transform-origin:0 0">CC</div><div class="lb" style="left:671.5px;top:799.5px;font-size:30px;transform:scaleX(0.95);transform-origin:0 0">NC</div><div class="lb" style="left:45.5px;top:1248px;font-size:46px;transform:scaleX(0.9);transform-origin:0 0">C</div><div class="lb" style="left:32px;top:1314px;font-size:27.5px">CC</div><div class="lb" style="left:596px;top:1307px;font-size:27.5px">NC</div><div class="lb" style="left:106px;top:1257.5px;font-size:6.8px;color:#666;letter-spacing:-0.2px">3D-View</div></div></body></html>
